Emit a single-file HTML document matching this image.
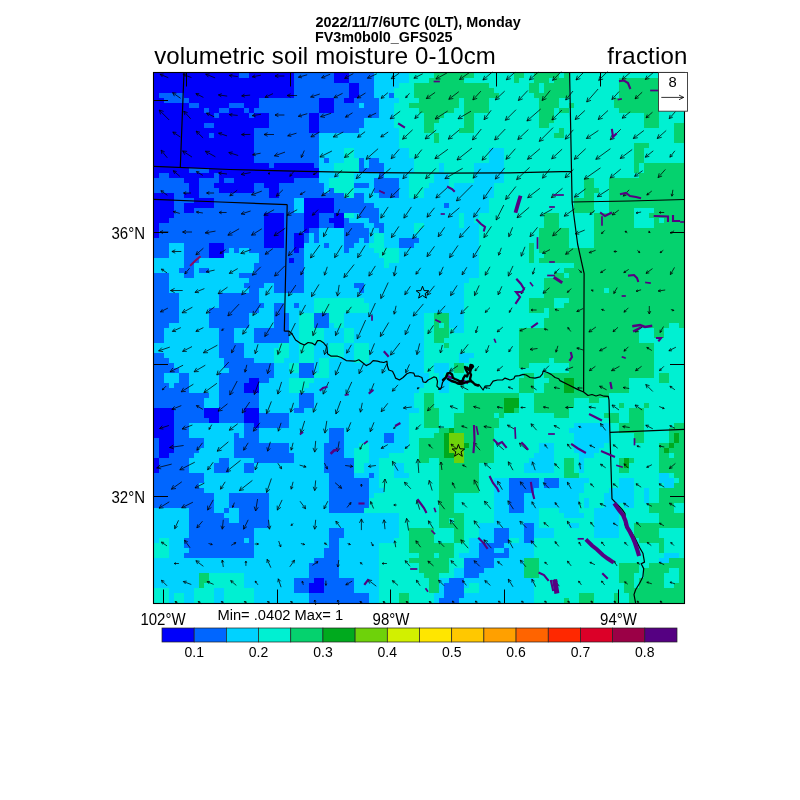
<!DOCTYPE html>
<html><head><meta charset="utf-8"><style>
html,body{margin:0;padding:0;background:#fff;}
body{width:800px;height:800px;overflow:hidden;}
svg{display:block;will-change:transform;font-family:"Liberation Sans",sans-serif;}
</style></head><body>
<svg width="800" height="800" viewBox="0 0 800 800">
<rect width="800" height="800" fill="#fff"/>
<text transform="translate(315.4 26.6) scale(1 1.07)" font-size="14.4" font-weight="bold">2022/11/7/6UTC (0LT), Monday</text>
<text transform="translate(314.9 41.7) scale(1 1.05)" font-size="14.4" font-weight="bold">FV3m0b0l0_GFS025</text>
<text x="154.2" y="63.9" font-size="24" letter-spacing="0.14">volumetric soil moisture 0-10cm</text>
<text x="687.6" y="63.9" font-size="24" text-anchor="end" letter-spacing="0.2">fraction</text>
<g shape-rendering="crispEdges">
<rect x="154" y="73" width="85" height="5" fill="#0000fa"/>
<rect x="239" y="73" width="10" height="5" fill="#0066ff"/>
<rect x="249" y="73" width="45" height="5" fill="#0000fa"/>
<rect x="294" y="73" width="40" height="5" fill="#0066ff"/>
<rect x="334" y="73" width="15" height="5" fill="#0000fa"/>
<rect x="349" y="73" width="25" height="5" fill="#0066ff"/>
<rect x="374" y="73" width="35" height="5" fill="#00d2ff"/>
<rect x="409" y="73" width="25" height="5" fill="#00f0d2"/>
<rect x="434" y="73" width="40" height="5" fill="#05d26e"/>
<rect x="474" y="73" width="40" height="5" fill="#00f0d2"/>
<rect x="514" y="73" width="10" height="5" fill="#05d26e"/>
<rect x="524" y="73" width="10" height="5" fill="#00f0d2"/>
<rect x="534" y="73" width="25" height="5" fill="#05d26e"/>
<rect x="559" y="73" width="5" height="5" fill="#00f0d2"/>
<rect x="564" y="73" width="5" height="5" fill="#05d26e"/>
<rect x="569" y="73" width="115" height="5" fill="#00f0d2"/>
<rect x="154" y="78" width="140" height="5" fill="#0000fa"/>
<rect x="294" y="78" width="40" height="5" fill="#0066ff"/>
<rect x="334" y="78" width="15" height="5" fill="#0000fa"/>
<rect x="349" y="78" width="25" height="5" fill="#0066ff"/>
<rect x="374" y="78" width="35" height="5" fill="#00d2ff"/>
<rect x="409" y="78" width="20" height="5" fill="#00f0d2"/>
<rect x="429" y="78" width="35" height="5" fill="#05d26e"/>
<rect x="464" y="78" width="50" height="5" fill="#00f0d2"/>
<rect x="514" y="78" width="5" height="5" fill="#05d26e"/>
<rect x="519" y="78" width="15" height="5" fill="#00f0d2"/>
<rect x="534" y="78" width="15" height="5" fill="#05d26e"/>
<rect x="549" y="78" width="5" height="5" fill="#00f0d2"/>
<rect x="554" y="78" width="15" height="5" fill="#05d26e"/>
<rect x="569" y="78" width="50" height="5" fill="#00f0d2"/>
<rect x="619" y="78" width="65" height="5" fill="#05d26e"/>
<rect x="154" y="83" width="140" height="5" fill="#0000fa"/>
<rect x="294" y="83" width="55" height="5" fill="#0066ff"/>
<rect x="349" y="83" width="10" height="5" fill="#0000fa"/>
<rect x="359" y="83" width="15" height="5" fill="#0066ff"/>
<rect x="374" y="83" width="25" height="5" fill="#00d2ff"/>
<rect x="399" y="83" width="15" height="5" fill="#00f0d2"/>
<rect x="414" y="83" width="75" height="5" fill="#05d26e"/>
<rect x="489" y="83" width="40" height="5" fill="#00f0d2"/>
<rect x="529" y="83" width="10" height="5" fill="#05d26e"/>
<rect x="539" y="83" width="5" height="5" fill="#00f0d2"/>
<rect x="544" y="83" width="25" height="5" fill="#05d26e"/>
<rect x="569" y="83" width="50" height="5" fill="#00f0d2"/>
<rect x="619" y="83" width="65" height="5" fill="#05d26e"/>
<rect x="154" y="88" width="140" height="5" fill="#0000fa"/>
<rect x="294" y="88" width="55" height="5" fill="#0066ff"/>
<rect x="349" y="88" width="10" height="5" fill="#0000fa"/>
<rect x="359" y="88" width="15" height="5" fill="#0066ff"/>
<rect x="374" y="88" width="20" height="5" fill="#00d2ff"/>
<rect x="394" y="88" width="20" height="5" fill="#00f0d2"/>
<rect x="414" y="88" width="80" height="5" fill="#05d26e"/>
<rect x="494" y="88" width="35" height="5" fill="#00f0d2"/>
<rect x="529" y="88" width="10" height="5" fill="#05d26e"/>
<rect x="539" y="88" width="5" height="5" fill="#00f0d2"/>
<rect x="544" y="88" width="25" height="5" fill="#05d26e"/>
<rect x="569" y="88" width="50" height="5" fill="#00f0d2"/>
<rect x="619" y="88" width="65" height="5" fill="#05d26e"/>
<rect x="154" y="93" width="5" height="5" fill="#0000fa"/>
<rect x="159" y="93" width="25" height="5" fill="#0066ff"/>
<rect x="184" y="93" width="110" height="5" fill="#0000fa"/>
<rect x="294" y="93" width="55" height="5" fill="#0066ff"/>
<rect x="349" y="93" width="10" height="5" fill="#0000fa"/>
<rect x="359" y="93" width="15" height="5" fill="#0066ff"/>
<rect x="374" y="93" width="15" height="5" fill="#00d2ff"/>
<rect x="389" y="93" width="5" height="5" fill="#0066ff"/>
<rect x="394" y="93" width="20" height="5" fill="#00f0d2"/>
<rect x="414" y="93" width="85" height="5" fill="#05d26e"/>
<rect x="499" y="93" width="35" height="5" fill="#00f0d2"/>
<rect x="534" y="93" width="35" height="5" fill="#05d26e"/>
<rect x="569" y="93" width="50" height="5" fill="#00f0d2"/>
<rect x="619" y="93" width="65" height="5" fill="#05d26e"/>
<rect x="154" y="98" width="10" height="5" fill="#0000fa"/>
<rect x="164" y="98" width="25" height="5" fill="#0066ff"/>
<rect x="189" y="98" width="70" height="5" fill="#0000fa"/>
<rect x="259" y="98" width="60" height="5" fill="#0066ff"/>
<rect x="319" y="98" width="15" height="5" fill="#0000fa"/>
<rect x="334" y="98" width="10" height="5" fill="#0066ff"/>
<rect x="344" y="98" width="10" height="5" fill="#0000fa"/>
<rect x="354" y="98" width="25" height="5" fill="#0066ff"/>
<rect x="379" y="98" width="20" height="5" fill="#00d2ff"/>
<rect x="399" y="98" width="20" height="5" fill="#00f0d2"/>
<rect x="419" y="98" width="40" height="5" fill="#05d26e"/>
<rect x="459" y="98" width="5" height="5" fill="#00f0d2"/>
<rect x="464" y="98" width="25" height="5" fill="#05d26e"/>
<rect x="489" y="98" width="50" height="5" fill="#00f0d2"/>
<rect x="539" y="98" width="20" height="5" fill="#05d26e"/>
<rect x="559" y="98" width="55" height="5" fill="#00f0d2"/>
<rect x="614" y="98" width="70" height="5" fill="#05d26e"/>
<rect x="154" y="103" width="35" height="5" fill="#0000fa"/>
<rect x="189" y="103" width="10" height="5" fill="#0066ff"/>
<rect x="199" y="103" width="30" height="5" fill="#0000fa"/>
<rect x="229" y="103" width="15" height="5" fill="#0066ff"/>
<rect x="244" y="103" width="15" height="5" fill="#0000fa"/>
<rect x="259" y="103" width="60" height="5" fill="#0066ff"/>
<rect x="319" y="103" width="15" height="5" fill="#0000fa"/>
<rect x="334" y="103" width="25" height="5" fill="#0066ff"/>
<rect x="359" y="103" width="5" height="5" fill="#00d2ff"/>
<rect x="364" y="103" width="15" height="5" fill="#0066ff"/>
<rect x="379" y="103" width="15" height="5" fill="#00d2ff"/>
<rect x="394" y="103" width="15" height="5" fill="#00f0d2"/>
<rect x="409" y="103" width="50" height="5" fill="#05d26e"/>
<rect x="459" y="103" width="5" height="5" fill="#00f0d2"/>
<rect x="464" y="103" width="25" height="5" fill="#05d26e"/>
<rect x="489" y="103" width="50" height="5" fill="#00f0d2"/>
<rect x="539" y="103" width="20" height="5" fill="#05d26e"/>
<rect x="559" y="103" width="10" height="5" fill="#00f0d2"/>
<rect x="569" y="103" width="5" height="5" fill="#05d26e"/>
<rect x="574" y="103" width="40" height="5" fill="#00f0d2"/>
<rect x="614" y="103" width="70" height="5" fill="#05d26e"/>
<rect x="154" y="108" width="50" height="5" fill="#0000fa"/>
<rect x="204" y="108" width="5" height="5" fill="#0066ff"/>
<rect x="209" y="108" width="10" height="5" fill="#0000fa"/>
<rect x="219" y="108" width="10" height="5" fill="#0066ff"/>
<rect x="229" y="108" width="15" height="5" fill="#0000fa"/>
<rect x="244" y="108" width="5" height="5" fill="#0066ff"/>
<rect x="249" y="108" width="5" height="5" fill="#0000fa"/>
<rect x="254" y="108" width="65" height="5" fill="#0066ff"/>
<rect x="319" y="108" width="15" height="5" fill="#0000fa"/>
<rect x="334" y="108" width="45" height="5" fill="#0066ff"/>
<rect x="379" y="108" width="15" height="5" fill="#00d2ff"/>
<rect x="394" y="108" width="25" height="5" fill="#00f0d2"/>
<rect x="419" y="108" width="35" height="5" fill="#05d26e"/>
<rect x="454" y="108" width="10" height="5" fill="#00f0d2"/>
<rect x="464" y="108" width="25" height="5" fill="#05d26e"/>
<rect x="489" y="108" width="50" height="5" fill="#00f0d2"/>
<rect x="539" y="108" width="15" height="5" fill="#05d26e"/>
<rect x="554" y="108" width="5" height="5" fill="#00f0d2"/>
<rect x="559" y="108" width="10" height="5" fill="#05d26e"/>
<rect x="569" y="108" width="50" height="5" fill="#00f0d2"/>
<rect x="619" y="108" width="40" height="5" fill="#05d26e"/>
<rect x="659" y="108" width="25" height="5" fill="#00f0d2"/>
<rect x="154" y="113" width="60" height="5" fill="#0000fa"/>
<rect x="214" y="113" width="5" height="5" fill="#0066ff"/>
<rect x="219" y="113" width="30" height="5" fill="#0000fa"/>
<rect x="249" y="113" width="5" height="5" fill="#0066ff"/>
<rect x="254" y="113" width="15" height="5" fill="#0000fa"/>
<rect x="269" y="113" width="40" height="5" fill="#0066ff"/>
<rect x="309" y="113" width="10" height="5" fill="#0000fa"/>
<rect x="319" y="113" width="60" height="5" fill="#0066ff"/>
<rect x="379" y="113" width="15" height="5" fill="#00d2ff"/>
<rect x="394" y="113" width="30" height="5" fill="#00f0d2"/>
<rect x="424" y="113" width="20" height="5" fill="#05d26e"/>
<rect x="444" y="113" width="20" height="5" fill="#00f0d2"/>
<rect x="464" y="113" width="10" height="5" fill="#05d26e"/>
<rect x="474" y="113" width="65" height="5" fill="#00f0d2"/>
<rect x="539" y="113" width="15" height="5" fill="#05d26e"/>
<rect x="554" y="113" width="90" height="5" fill="#00f0d2"/>
<rect x="644" y="113" width="15" height="5" fill="#05d26e"/>
<rect x="659" y="113" width="25" height="5" fill="#00f0d2"/>
<rect x="154" y="118" width="115" height="5" fill="#0000fa"/>
<rect x="269" y="118" width="40" height="5" fill="#0066ff"/>
<rect x="309" y="118" width="10" height="5" fill="#0000fa"/>
<rect x="319" y="118" width="45" height="5" fill="#0066ff"/>
<rect x="364" y="118" width="30" height="5" fill="#00d2ff"/>
<rect x="394" y="118" width="30" height="5" fill="#00f0d2"/>
<rect x="424" y="118" width="15" height="5" fill="#05d26e"/>
<rect x="439" y="118" width="25" height="5" fill="#00f0d2"/>
<rect x="464" y="118" width="10" height="5" fill="#05d26e"/>
<rect x="474" y="118" width="65" height="5" fill="#00f0d2"/>
<rect x="539" y="118" width="15" height="5" fill="#05d26e"/>
<rect x="554" y="118" width="90" height="5" fill="#00f0d2"/>
<rect x="644" y="118" width="15" height="5" fill="#05d26e"/>
<rect x="659" y="118" width="25" height="5" fill="#00f0d2"/>
<rect x="154" y="123" width="50" height="5" fill="#0000fa"/>
<rect x="204" y="123" width="10" height="5" fill="#0066ff"/>
<rect x="214" y="123" width="55" height="5" fill="#0000fa"/>
<rect x="269" y="123" width="40" height="5" fill="#0066ff"/>
<rect x="309" y="123" width="10" height="5" fill="#0000fa"/>
<rect x="319" y="123" width="45" height="5" fill="#0066ff"/>
<rect x="364" y="123" width="30" height="5" fill="#00d2ff"/>
<rect x="394" y="123" width="30" height="5" fill="#00f0d2"/>
<rect x="424" y="123" width="10" height="5" fill="#05d26e"/>
<rect x="434" y="123" width="30" height="5" fill="#00f0d2"/>
<rect x="464" y="123" width="10" height="5" fill="#05d26e"/>
<rect x="474" y="123" width="65" height="5" fill="#00f0d2"/>
<rect x="539" y="123" width="10" height="5" fill="#05d26e"/>
<rect x="549" y="123" width="95" height="5" fill="#00f0d2"/>
<rect x="644" y="123" width="15" height="5" fill="#05d26e"/>
<rect x="659" y="123" width="15" height="5" fill="#00f0d2"/>
<rect x="674" y="123" width="10" height="5" fill="#05d26e"/>
<rect x="154" y="128" width="100" height="5" fill="#0000fa"/>
<rect x="254" y="128" width="55" height="5" fill="#0066ff"/>
<rect x="309" y="128" width="10" height="5" fill="#0000fa"/>
<rect x="319" y="128" width="40" height="5" fill="#0066ff"/>
<rect x="359" y="128" width="40" height="5" fill="#00d2ff"/>
<rect x="399" y="128" width="25" height="5" fill="#00f0d2"/>
<rect x="424" y="128" width="10" height="5" fill="#05d26e"/>
<rect x="434" y="128" width="25" height="5" fill="#00f0d2"/>
<rect x="459" y="128" width="15" height="5" fill="#05d26e"/>
<rect x="474" y="128" width="85" height="5" fill="#00f0d2"/>
<rect x="559" y="128" width="5" height="5" fill="#05d26e"/>
<rect x="564" y="128" width="110" height="5" fill="#00f0d2"/>
<rect x="674" y="128" width="10" height="5" fill="#05d26e"/>
<rect x="154" y="133" width="55" height="5" fill="#0000fa"/>
<rect x="209" y="133" width="5" height="5" fill="#0066ff"/>
<rect x="214" y="133" width="40" height="5" fill="#0000fa"/>
<rect x="254" y="133" width="65" height="5" fill="#0066ff"/>
<rect x="319" y="133" width="80" height="5" fill="#00d2ff"/>
<rect x="399" y="133" width="35" height="5" fill="#00f0d2"/>
<rect x="434" y="133" width="5" height="5" fill="#05d26e"/>
<rect x="439" y="133" width="115" height="5" fill="#00f0d2"/>
<rect x="554" y="133" width="10" height="5" fill="#05d26e"/>
<rect x="564" y="133" width="110" height="5" fill="#00f0d2"/>
<rect x="674" y="133" width="10" height="5" fill="#05d26e"/>
<rect x="154" y="138" width="100" height="5" fill="#0000fa"/>
<rect x="254" y="138" width="65" height="5" fill="#0066ff"/>
<rect x="319" y="138" width="80" height="5" fill="#00d2ff"/>
<rect x="399" y="138" width="35" height="5" fill="#00f0d2"/>
<rect x="434" y="138" width="5" height="5" fill="#05d26e"/>
<rect x="439" y="138" width="235" height="5" fill="#00f0d2"/>
<rect x="674" y="138" width="10" height="5" fill="#05d26e"/>
<rect x="154" y="143" width="100" height="5" fill="#0000fa"/>
<rect x="254" y="143" width="65" height="5" fill="#0066ff"/>
<rect x="319" y="143" width="80" height="5" fill="#00d2ff"/>
<rect x="399" y="143" width="235" height="5" fill="#00f0d2"/>
<rect x="634" y="143" width="15" height="5" fill="#05d26e"/>
<rect x="649" y="143" width="35" height="5" fill="#00f0d2"/>
<rect x="154" y="148" width="100" height="5" fill="#0000fa"/>
<rect x="254" y="148" width="65" height="5" fill="#0066ff"/>
<rect x="319" y="148" width="25" height="5" fill="#00d2ff"/>
<rect x="344" y="148" width="10" height="5" fill="#00f0d2"/>
<rect x="354" y="148" width="55" height="5" fill="#00d2ff"/>
<rect x="409" y="148" width="80" height="5" fill="#00f0d2"/>
<rect x="489" y="148" width="15" height="5" fill="#00d2ff"/>
<rect x="504" y="148" width="130" height="5" fill="#00f0d2"/>
<rect x="634" y="148" width="10" height="5" fill="#05d26e"/>
<rect x="644" y="148" width="40" height="5" fill="#00f0d2"/>
<rect x="154" y="153" width="100" height="5" fill="#0000fa"/>
<rect x="254" y="153" width="65" height="5" fill="#0066ff"/>
<rect x="319" y="153" width="25" height="5" fill="#00d2ff"/>
<rect x="344" y="153" width="10" height="5" fill="#00f0d2"/>
<rect x="354" y="153" width="55" height="5" fill="#00d2ff"/>
<rect x="409" y="153" width="80" height="5" fill="#00f0d2"/>
<rect x="489" y="153" width="15" height="5" fill="#00d2ff"/>
<rect x="504" y="153" width="130" height="5" fill="#00f0d2"/>
<rect x="634" y="153" width="10" height="5" fill="#05d26e"/>
<rect x="644" y="153" width="40" height="5" fill="#00f0d2"/>
<rect x="154" y="158" width="100" height="5" fill="#0000fa"/>
<rect x="254" y="158" width="65" height="5" fill="#0066ff"/>
<rect x="319" y="158" width="5" height="5" fill="#00d2ff"/>
<rect x="324" y="158" width="5" height="5" fill="#0066ff"/>
<rect x="329" y="158" width="15" height="5" fill="#00d2ff"/>
<rect x="344" y="158" width="15" height="5" fill="#00f0d2"/>
<rect x="359" y="158" width="5" height="5" fill="#0066ff"/>
<rect x="364" y="158" width="5" height="5" fill="#00d2ff"/>
<rect x="369" y="158" width="10" height="5" fill="#0066ff"/>
<rect x="379" y="158" width="35" height="5" fill="#00d2ff"/>
<rect x="414" y="158" width="75" height="5" fill="#00f0d2"/>
<rect x="489" y="158" width="15" height="5" fill="#00d2ff"/>
<rect x="504" y="158" width="130" height="5" fill="#00f0d2"/>
<rect x="634" y="158" width="10" height="5" fill="#05d26e"/>
<rect x="644" y="158" width="40" height="5" fill="#00f0d2"/>
<rect x="154" y="163" width="115" height="5" fill="#0000fa"/>
<rect x="269" y="163" width="5" height="5" fill="#0066ff"/>
<rect x="274" y="163" width="40" height="5" fill="#0000fa"/>
<rect x="314" y="163" width="5" height="5" fill="#0066ff"/>
<rect x="319" y="163" width="15" height="5" fill="#00d2ff"/>
<rect x="334" y="163" width="25" height="5" fill="#00f0d2"/>
<rect x="359" y="163" width="5" height="5" fill="#0066ff"/>
<rect x="364" y="163" width="5" height="5" fill="#00d2ff"/>
<rect x="369" y="163" width="15" height="5" fill="#0066ff"/>
<rect x="384" y="163" width="30" height="5" fill="#00d2ff"/>
<rect x="414" y="163" width="25" height="5" fill="#00f0d2"/>
<rect x="439" y="163" width="5" height="5" fill="#00d2ff"/>
<rect x="444" y="163" width="30" height="5" fill="#00f0d2"/>
<rect x="474" y="163" width="30" height="5" fill="#00d2ff"/>
<rect x="504" y="163" width="130" height="5" fill="#00f0d2"/>
<rect x="634" y="163" width="5" height="5" fill="#05d26e"/>
<rect x="639" y="163" width="5" height="5" fill="#00f0d2"/>
<rect x="644" y="163" width="40" height="5" fill="#05d26e"/>
<rect x="154" y="168" width="35" height="5" fill="#0000fa"/>
<rect x="189" y="168" width="20" height="5" fill="#0066ff"/>
<rect x="209" y="168" width="110" height="5" fill="#0000fa"/>
<rect x="319" y="168" width="15" height="5" fill="#00d2ff"/>
<rect x="334" y="168" width="25" height="5" fill="#00f0d2"/>
<rect x="359" y="168" width="25" height="5" fill="#0066ff"/>
<rect x="384" y="168" width="30" height="5" fill="#00d2ff"/>
<rect x="414" y="168" width="25" height="5" fill="#00f0d2"/>
<rect x="439" y="168" width="5" height="5" fill="#00d2ff"/>
<rect x="444" y="168" width="30" height="5" fill="#00f0d2"/>
<rect x="474" y="168" width="30" height="5" fill="#00d2ff"/>
<rect x="504" y="168" width="130" height="5" fill="#00f0d2"/>
<rect x="634" y="168" width="5" height="5" fill="#05d26e"/>
<rect x="639" y="168" width="5" height="5" fill="#00f0d2"/>
<rect x="644" y="168" width="40" height="5" fill="#05d26e"/>
<rect x="154" y="173" width="5" height="5" fill="#0000fa"/>
<rect x="159" y="173" width="10" height="5" fill="#0066ff"/>
<rect x="169" y="173" width="45" height="5" fill="#0000fa"/>
<rect x="214" y="173" width="5" height="5" fill="#0066ff"/>
<rect x="219" y="173" width="100" height="5" fill="#0000fa"/>
<rect x="319" y="173" width="20" height="5" fill="#00d2ff"/>
<rect x="339" y="173" width="15" height="5" fill="#00f0d2"/>
<rect x="354" y="173" width="25" height="5" fill="#00d2ff"/>
<rect x="379" y="173" width="5" height="5" fill="#0066ff"/>
<rect x="384" y="173" width="25" height="5" fill="#00d2ff"/>
<rect x="409" y="173" width="25" height="5" fill="#00f0d2"/>
<rect x="434" y="173" width="15" height="5" fill="#00d2ff"/>
<rect x="449" y="173" width="25" height="5" fill="#00f0d2"/>
<rect x="474" y="173" width="30" height="5" fill="#00d2ff"/>
<rect x="504" y="173" width="135" height="5" fill="#00f0d2"/>
<rect x="639" y="173" width="45" height="5" fill="#05d26e"/>
<rect x="154" y="178" width="30" height="5" fill="#0066ff"/>
<rect x="184" y="178" width="15" height="5" fill="#0000fa"/>
<rect x="199" y="178" width="20" height="5" fill="#0066ff"/>
<rect x="219" y="178" width="5" height="5" fill="#0000fa"/>
<rect x="224" y="178" width="10" height="5" fill="#0066ff"/>
<rect x="234" y="178" width="60" height="5" fill="#0000fa"/>
<rect x="294" y="178" width="25" height="5" fill="#0066ff"/>
<rect x="319" y="178" width="10" height="5" fill="#00d2ff"/>
<rect x="329" y="178" width="25" height="5" fill="#00f0d2"/>
<rect x="354" y="178" width="20" height="5" fill="#00d2ff"/>
<rect x="374" y="178" width="25" height="5" fill="#0066ff"/>
<rect x="399" y="178" width="10" height="5" fill="#00d2ff"/>
<rect x="409" y="178" width="25" height="5" fill="#00f0d2"/>
<rect x="434" y="178" width="15" height="5" fill="#00d2ff"/>
<rect x="449" y="178" width="25" height="5" fill="#00f0d2"/>
<rect x="474" y="178" width="30" height="5" fill="#00d2ff"/>
<rect x="504" y="178" width="80" height="5" fill="#00f0d2"/>
<rect x="584" y="178" width="10" height="5" fill="#05d26e"/>
<rect x="594" y="178" width="15" height="5" fill="#00f0d2"/>
<rect x="609" y="178" width="75" height="5" fill="#05d26e"/>
<rect x="154" y="183" width="35" height="5" fill="#0066ff"/>
<rect x="189" y="183" width="10" height="5" fill="#0000fa"/>
<rect x="199" y="183" width="15" height="5" fill="#0066ff"/>
<rect x="214" y="183" width="40" height="5" fill="#0000fa"/>
<rect x="254" y="183" width="10" height="5" fill="#0066ff"/>
<rect x="264" y="183" width="15" height="5" fill="#0000fa"/>
<rect x="279" y="183" width="45" height="5" fill="#0066ff"/>
<rect x="324" y="183" width="5" height="5" fill="#00d2ff"/>
<rect x="329" y="183" width="25" height="5" fill="#00f0d2"/>
<rect x="354" y="183" width="15" height="5" fill="#0066ff"/>
<rect x="369" y="183" width="5" height="5" fill="#00d2ff"/>
<rect x="374" y="183" width="25" height="5" fill="#0066ff"/>
<rect x="399" y="183" width="10" height="5" fill="#00d2ff"/>
<rect x="409" y="183" width="20" height="5" fill="#00f0d2"/>
<rect x="429" y="183" width="20" height="5" fill="#00d2ff"/>
<rect x="449" y="183" width="5" height="5" fill="#00f0d2"/>
<rect x="454" y="183" width="40" height="5" fill="#00d2ff"/>
<rect x="494" y="183" width="90" height="5" fill="#00f0d2"/>
<rect x="584" y="183" width="10" height="5" fill="#05d26e"/>
<rect x="594" y="183" width="15" height="5" fill="#00f0d2"/>
<rect x="609" y="183" width="75" height="5" fill="#05d26e"/>
<rect x="154" y="188" width="35" height="5" fill="#0066ff"/>
<rect x="189" y="188" width="10" height="5" fill="#0000fa"/>
<rect x="199" y="188" width="20" height="5" fill="#0066ff"/>
<rect x="219" y="188" width="35" height="5" fill="#0000fa"/>
<rect x="254" y="188" width="15" height="5" fill="#0066ff"/>
<rect x="269" y="188" width="10" height="5" fill="#0000fa"/>
<rect x="279" y="188" width="45" height="5" fill="#0066ff"/>
<rect x="324" y="188" width="5" height="5" fill="#00d2ff"/>
<rect x="329" y="188" width="5" height="5" fill="#0066ff"/>
<rect x="334" y="188" width="20" height="5" fill="#00f0d2"/>
<rect x="354" y="188" width="20" height="5" fill="#00d2ff"/>
<rect x="374" y="188" width="25" height="5" fill="#0066ff"/>
<rect x="399" y="188" width="10" height="5" fill="#00d2ff"/>
<rect x="409" y="188" width="15" height="5" fill="#00f0d2"/>
<rect x="424" y="188" width="70" height="5" fill="#00d2ff"/>
<rect x="494" y="188" width="90" height="5" fill="#00f0d2"/>
<rect x="584" y="188" width="15" height="5" fill="#05d26e"/>
<rect x="599" y="188" width="10" height="5" fill="#00f0d2"/>
<rect x="609" y="188" width="75" height="5" fill="#05d26e"/>
<rect x="154" y="193" width="20" height="5" fill="#0000fa"/>
<rect x="174" y="193" width="10" height="5" fill="#0066ff"/>
<rect x="184" y="193" width="15" height="5" fill="#0000fa"/>
<rect x="199" y="193" width="70" height="5" fill="#0066ff"/>
<rect x="269" y="193" width="10" height="5" fill="#0000fa"/>
<rect x="279" y="193" width="65" height="5" fill="#0066ff"/>
<rect x="344" y="193" width="10" height="5" fill="#00f0d2"/>
<rect x="354" y="193" width="10" height="5" fill="#0066ff"/>
<rect x="364" y="193" width="15" height="5" fill="#00d2ff"/>
<rect x="379" y="193" width="20" height="5" fill="#0066ff"/>
<rect x="399" y="193" width="10" height="5" fill="#00d2ff"/>
<rect x="409" y="193" width="15" height="5" fill="#00f0d2"/>
<rect x="424" y="193" width="70" height="5" fill="#00d2ff"/>
<rect x="494" y="193" width="90" height="5" fill="#00f0d2"/>
<rect x="584" y="193" width="10" height="5" fill="#05d26e"/>
<rect x="594" y="193" width="15" height="5" fill="#00f0d2"/>
<rect x="609" y="193" width="75" height="5" fill="#05d26e"/>
<rect x="154" y="198" width="20" height="5" fill="#0000fa"/>
<rect x="174" y="198" width="20" height="5" fill="#0066ff"/>
<rect x="194" y="198" width="20" height="5" fill="#0000fa"/>
<rect x="214" y="198" width="80" height="5" fill="#0066ff"/>
<rect x="294" y="198" width="10" height="5" fill="#00d2ff"/>
<rect x="304" y="198" width="30" height="5" fill="#0000fa"/>
<rect x="334" y="198" width="30" height="5" fill="#0066ff"/>
<rect x="364" y="198" width="125" height="5" fill="#00d2ff"/>
<rect x="489" y="198" width="85" height="5" fill="#00f0d2"/>
<rect x="574" y="198" width="20" height="5" fill="#05d26e"/>
<rect x="594" y="198" width="15" height="5" fill="#00f0d2"/>
<rect x="609" y="198" width="75" height="5" fill="#05d26e"/>
<rect x="154" y="203" width="20" height="5" fill="#0000fa"/>
<rect x="174" y="203" width="10" height="5" fill="#0066ff"/>
<rect x="184" y="203" width="30" height="5" fill="#0000fa"/>
<rect x="214" y="203" width="80" height="5" fill="#0066ff"/>
<rect x="294" y="203" width="10" height="5" fill="#00d2ff"/>
<rect x="304" y="203" width="30" height="5" fill="#0000fa"/>
<rect x="334" y="203" width="40" height="5" fill="#0066ff"/>
<rect x="374" y="203" width="70" height="5" fill="#00d2ff"/>
<rect x="444" y="203" width="5" height="5" fill="#0066ff"/>
<rect x="449" y="203" width="40" height="5" fill="#00d2ff"/>
<rect x="489" y="203" width="85" height="5" fill="#00f0d2"/>
<rect x="574" y="203" width="20" height="5" fill="#05d26e"/>
<rect x="594" y="203" width="15" height="5" fill="#00f0d2"/>
<rect x="609" y="203" width="75" height="5" fill="#05d26e"/>
<rect x="154" y="208" width="20" height="5" fill="#0000fa"/>
<rect x="174" y="208" width="10" height="5" fill="#0066ff"/>
<rect x="184" y="208" width="10" height="5" fill="#0000fa"/>
<rect x="194" y="208" width="100" height="5" fill="#0066ff"/>
<rect x="294" y="208" width="10" height="5" fill="#00d2ff"/>
<rect x="304" y="208" width="30" height="5" fill="#0000fa"/>
<rect x="334" y="208" width="45" height="5" fill="#0066ff"/>
<rect x="379" y="208" width="110" height="5" fill="#00d2ff"/>
<rect x="489" y="208" width="85" height="5" fill="#00f0d2"/>
<rect x="574" y="208" width="20" height="5" fill="#05d26e"/>
<rect x="594" y="208" width="15" height="5" fill="#00f0d2"/>
<rect x="609" y="208" width="25" height="5" fill="#05d26e"/>
<rect x="634" y="208" width="20" height="5" fill="#00f0d2"/>
<rect x="654" y="208" width="30" height="5" fill="#05d26e"/>
<rect x="154" y="213" width="20" height="5" fill="#0000fa"/>
<rect x="174" y="213" width="90" height="5" fill="#0066ff"/>
<rect x="264" y="213" width="20" height="5" fill="#0000fa"/>
<rect x="284" y="213" width="20" height="5" fill="#0066ff"/>
<rect x="304" y="213" width="15" height="5" fill="#0000fa"/>
<rect x="319" y="213" width="15" height="5" fill="#0066ff"/>
<rect x="334" y="213" width="10" height="5" fill="#0000fa"/>
<rect x="344" y="213" width="10" height="5" fill="#00f0d2"/>
<rect x="354" y="213" width="5" height="5" fill="#00d2ff"/>
<rect x="359" y="213" width="20" height="5" fill="#0066ff"/>
<rect x="379" y="213" width="80" height="5" fill="#00d2ff"/>
<rect x="459" y="213" width="5" height="5" fill="#00f0d2"/>
<rect x="464" y="213" width="15" height="5" fill="#00d2ff"/>
<rect x="479" y="213" width="65" height="5" fill="#00f0d2"/>
<rect x="544" y="213" width="15" height="5" fill="#05d26e"/>
<rect x="559" y="213" width="35" height="5" fill="#00f0d2"/>
<rect x="594" y="213" width="40" height="5" fill="#05d26e"/>
<rect x="634" y="213" width="15" height="5" fill="#00f0d2"/>
<rect x="649" y="213" width="35" height="5" fill="#05d26e"/>
<rect x="154" y="218" width="15" height="5" fill="#0000fa"/>
<rect x="169" y="218" width="95" height="5" fill="#0066ff"/>
<rect x="264" y="218" width="20" height="5" fill="#0000fa"/>
<rect x="284" y="218" width="20" height="5" fill="#0066ff"/>
<rect x="304" y="218" width="15" height="5" fill="#0000fa"/>
<rect x="319" y="218" width="10" height="5" fill="#0066ff"/>
<rect x="329" y="218" width="15" height="5" fill="#0000fa"/>
<rect x="344" y="218" width="5" height="5" fill="#0066ff"/>
<rect x="349" y="218" width="20" height="5" fill="#00d2ff"/>
<rect x="369" y="218" width="10" height="5" fill="#0066ff"/>
<rect x="379" y="218" width="80" height="5" fill="#00d2ff"/>
<rect x="459" y="218" width="5" height="5" fill="#00f0d2"/>
<rect x="464" y="218" width="10" height="5" fill="#00d2ff"/>
<rect x="474" y="218" width="70" height="5" fill="#00f0d2"/>
<rect x="544" y="218" width="15" height="5" fill="#05d26e"/>
<rect x="559" y="218" width="35" height="5" fill="#00f0d2"/>
<rect x="594" y="218" width="40" height="5" fill="#05d26e"/>
<rect x="634" y="218" width="20" height="5" fill="#00f0d2"/>
<rect x="654" y="218" width="5" height="5" fill="#05d26e"/>
<rect x="659" y="218" width="5" height="5" fill="#00f0d2"/>
<rect x="664" y="218" width="20" height="5" fill="#05d26e"/>
<rect x="154" y="223" width="5" height="5" fill="#0000fa"/>
<rect x="159" y="223" width="105" height="5" fill="#0066ff"/>
<rect x="264" y="223" width="20" height="5" fill="#0000fa"/>
<rect x="284" y="223" width="20" height="5" fill="#0066ff"/>
<rect x="304" y="223" width="15" height="5" fill="#0000fa"/>
<rect x="319" y="223" width="15" height="5" fill="#0066ff"/>
<rect x="334" y="223" width="10" height="5" fill="#0000fa"/>
<rect x="344" y="223" width="20" height="5" fill="#0066ff"/>
<rect x="364" y="223" width="10" height="5" fill="#00d2ff"/>
<rect x="374" y="223" width="10" height="5" fill="#0066ff"/>
<rect x="384" y="223" width="30" height="5" fill="#00d2ff"/>
<rect x="414" y="223" width="10" height="5" fill="#00f0d2"/>
<rect x="424" y="223" width="35" height="5" fill="#00d2ff"/>
<rect x="459" y="223" width="5" height="5" fill="#00f0d2"/>
<rect x="464" y="223" width="15" height="5" fill="#00d2ff"/>
<rect x="479" y="223" width="65" height="5" fill="#00f0d2"/>
<rect x="544" y="223" width="15" height="5" fill="#05d26e"/>
<rect x="559" y="223" width="35" height="5" fill="#00f0d2"/>
<rect x="594" y="223" width="40" height="5" fill="#05d26e"/>
<rect x="634" y="223" width="20" height="5" fill="#00f0d2"/>
<rect x="654" y="223" width="30" height="5" fill="#05d26e"/>
<rect x="154" y="228" width="5" height="5" fill="#0000fa"/>
<rect x="159" y="228" width="105" height="5" fill="#0066ff"/>
<rect x="264" y="228" width="20" height="5" fill="#0000fa"/>
<rect x="284" y="228" width="20" height="5" fill="#0066ff"/>
<rect x="304" y="228" width="5" height="5" fill="#0000fa"/>
<rect x="309" y="228" width="10" height="5" fill="#0066ff"/>
<rect x="319" y="228" width="25" height="5" fill="#00d2ff"/>
<rect x="344" y="228" width="25" height="5" fill="#0066ff"/>
<rect x="369" y="228" width="10" height="5" fill="#00d2ff"/>
<rect x="379" y="228" width="5" height="5" fill="#0066ff"/>
<rect x="384" y="228" width="30" height="5" fill="#00d2ff"/>
<rect x="414" y="228" width="5" height="5" fill="#00f0d2"/>
<rect x="419" y="228" width="60" height="5" fill="#00d2ff"/>
<rect x="479" y="228" width="60" height="5" fill="#00f0d2"/>
<rect x="539" y="228" width="30" height="5" fill="#05d26e"/>
<rect x="569" y="228" width="25" height="5" fill="#00f0d2"/>
<rect x="594" y="228" width="90" height="5" fill="#05d26e"/>
<rect x="154" y="233" width="5" height="5" fill="#0000fa"/>
<rect x="159" y="233" width="105" height="5" fill="#0066ff"/>
<rect x="264" y="233" width="20" height="5" fill="#0000fa"/>
<rect x="284" y="233" width="10" height="5" fill="#0066ff"/>
<rect x="294" y="233" width="10" height="5" fill="#0000fa"/>
<rect x="304" y="233" width="5" height="5" fill="#0066ff"/>
<rect x="309" y="233" width="5" height="5" fill="#00d2ff"/>
<rect x="314" y="233" width="5" height="5" fill="#0066ff"/>
<rect x="319" y="233" width="25" height="5" fill="#00d2ff"/>
<rect x="344" y="233" width="25" height="5" fill="#0066ff"/>
<rect x="369" y="233" width="5" height="5" fill="#00d2ff"/>
<rect x="374" y="233" width="10" height="5" fill="#00f0d2"/>
<rect x="384" y="233" width="95" height="5" fill="#00d2ff"/>
<rect x="479" y="233" width="60" height="5" fill="#00f0d2"/>
<rect x="539" y="233" width="30" height="5" fill="#05d26e"/>
<rect x="569" y="233" width="25" height="5" fill="#00f0d2"/>
<rect x="594" y="233" width="90" height="5" fill="#05d26e"/>
<rect x="154" y="238" width="110" height="5" fill="#0066ff"/>
<rect x="264" y="238" width="20" height="5" fill="#0000fa"/>
<rect x="284" y="238" width="10" height="5" fill="#0066ff"/>
<rect x="294" y="238" width="10" height="5" fill="#0000fa"/>
<rect x="304" y="238" width="5" height="5" fill="#0066ff"/>
<rect x="309" y="238" width="5" height="5" fill="#00d2ff"/>
<rect x="314" y="238" width="5" height="5" fill="#0066ff"/>
<rect x="319" y="238" width="25" height="5" fill="#00d2ff"/>
<rect x="344" y="238" width="15" height="5" fill="#0066ff"/>
<rect x="359" y="238" width="5" height="5" fill="#00d2ff"/>
<rect x="364" y="238" width="5" height="5" fill="#0066ff"/>
<rect x="369" y="238" width="5" height="5" fill="#00d2ff"/>
<rect x="374" y="238" width="10" height="5" fill="#00f0d2"/>
<rect x="384" y="238" width="15" height="5" fill="#00d2ff"/>
<rect x="399" y="238" width="20" height="5" fill="#0066ff"/>
<rect x="419" y="238" width="60" height="5" fill="#00d2ff"/>
<rect x="479" y="238" width="60" height="5" fill="#00f0d2"/>
<rect x="539" y="238" width="30" height="5" fill="#05d26e"/>
<rect x="569" y="238" width="25" height="5" fill="#00f0d2"/>
<rect x="594" y="238" width="90" height="5" fill="#05d26e"/>
<rect x="154" y="243" width="15" height="5" fill="#0066ff"/>
<rect x="169" y="243" width="15" height="5" fill="#00d2ff"/>
<rect x="184" y="243" width="25" height="5" fill="#0066ff"/>
<rect x="209" y="243" width="15" height="5" fill="#0000fa"/>
<rect x="224" y="243" width="40" height="5" fill="#0066ff"/>
<rect x="264" y="243" width="20" height="5" fill="#0000fa"/>
<rect x="284" y="243" width="10" height="5" fill="#0066ff"/>
<rect x="294" y="243" width="10" height="5" fill="#0000fa"/>
<rect x="304" y="243" width="20" height="5" fill="#00d2ff"/>
<rect x="324" y="243" width="5" height="5" fill="#0066ff"/>
<rect x="329" y="243" width="15" height="5" fill="#00d2ff"/>
<rect x="344" y="243" width="10" height="5" fill="#0066ff"/>
<rect x="354" y="243" width="15" height="5" fill="#00d2ff"/>
<rect x="369" y="243" width="15" height="5" fill="#00f0d2"/>
<rect x="384" y="243" width="15" height="5" fill="#00d2ff"/>
<rect x="399" y="243" width="15" height="5" fill="#0066ff"/>
<rect x="414" y="243" width="65" height="5" fill="#00d2ff"/>
<rect x="479" y="243" width="50" height="5" fill="#00f0d2"/>
<rect x="529" y="243" width="5" height="5" fill="#05d26e"/>
<rect x="534" y="243" width="5" height="5" fill="#00f0d2"/>
<rect x="539" y="243" width="30" height="5" fill="#05d26e"/>
<rect x="569" y="243" width="25" height="5" fill="#00f0d2"/>
<rect x="594" y="243" width="90" height="5" fill="#05d26e"/>
<rect x="154" y="248" width="15" height="5" fill="#0066ff"/>
<rect x="169" y="248" width="15" height="5" fill="#00d2ff"/>
<rect x="184" y="248" width="25" height="5" fill="#0066ff"/>
<rect x="209" y="248" width="15" height="5" fill="#0000fa"/>
<rect x="224" y="248" width="5" height="5" fill="#0066ff"/>
<rect x="229" y="248" width="5" height="5" fill="#00d2ff"/>
<rect x="234" y="248" width="5" height="5" fill="#0066ff"/>
<rect x="239" y="248" width="10" height="5" fill="#00d2ff"/>
<rect x="249" y="248" width="45" height="5" fill="#0066ff"/>
<rect x="294" y="248" width="5" height="5" fill="#0000fa"/>
<rect x="299" y="248" width="5" height="5" fill="#0066ff"/>
<rect x="304" y="248" width="40" height="5" fill="#00d2ff"/>
<rect x="344" y="248" width="5" height="5" fill="#0066ff"/>
<rect x="349" y="248" width="25" height="5" fill="#00d2ff"/>
<rect x="374" y="248" width="25" height="5" fill="#00f0d2"/>
<rect x="399" y="248" width="80" height="5" fill="#00d2ff"/>
<rect x="479" y="248" width="50" height="5" fill="#00f0d2"/>
<rect x="529" y="248" width="5" height="5" fill="#05d26e"/>
<rect x="534" y="248" width="5" height="5" fill="#00f0d2"/>
<rect x="539" y="248" width="145" height="5" fill="#05d26e"/>
<rect x="154" y="253" width="15" height="5" fill="#0066ff"/>
<rect x="169" y="253" width="15" height="5" fill="#00d2ff"/>
<rect x="184" y="253" width="25" height="5" fill="#0066ff"/>
<rect x="209" y="253" width="15" height="5" fill="#0000fa"/>
<rect x="224" y="253" width="35" height="5" fill="#00d2ff"/>
<rect x="259" y="253" width="45" height="5" fill="#0066ff"/>
<rect x="304" y="253" width="75" height="5" fill="#00d2ff"/>
<rect x="379" y="253" width="20" height="5" fill="#00f0d2"/>
<rect x="399" y="253" width="80" height="5" fill="#00d2ff"/>
<rect x="479" y="253" width="50" height="5" fill="#00f0d2"/>
<rect x="529" y="253" width="5" height="5" fill="#05d26e"/>
<rect x="534" y="253" width="10" height="5" fill="#00f0d2"/>
<rect x="544" y="253" width="140" height="5" fill="#05d26e"/>
<rect x="154" y="258" width="30" height="5" fill="#00d2ff"/>
<rect x="184" y="258" width="15" height="5" fill="#0066ff"/>
<rect x="199" y="258" width="60" height="5" fill="#00d2ff"/>
<rect x="259" y="258" width="30" height="5" fill="#0066ff"/>
<rect x="289" y="258" width="5" height="5" fill="#0000fa"/>
<rect x="294" y="258" width="10" height="5" fill="#0066ff"/>
<rect x="304" y="258" width="80" height="5" fill="#00d2ff"/>
<rect x="384" y="258" width="15" height="5" fill="#00f0d2"/>
<rect x="399" y="258" width="80" height="5" fill="#00d2ff"/>
<rect x="479" y="258" width="50" height="5" fill="#00f0d2"/>
<rect x="529" y="258" width="5" height="5" fill="#05d26e"/>
<rect x="534" y="258" width="5" height="5" fill="#00f0d2"/>
<rect x="539" y="258" width="145" height="5" fill="#05d26e"/>
<rect x="154" y="263" width="30" height="5" fill="#00d2ff"/>
<rect x="184" y="263" width="10" height="5" fill="#0066ff"/>
<rect x="194" y="263" width="60" height="5" fill="#00d2ff"/>
<rect x="254" y="263" width="50" height="5" fill="#0066ff"/>
<rect x="304" y="263" width="80" height="5" fill="#00d2ff"/>
<rect x="384" y="263" width="5" height="5" fill="#00f0d2"/>
<rect x="389" y="263" width="90" height="5" fill="#00d2ff"/>
<rect x="479" y="263" width="95" height="5" fill="#00f0d2"/>
<rect x="574" y="263" width="110" height="5" fill="#05d26e"/>
<rect x="154" y="268" width="25" height="5" fill="#00d2ff"/>
<rect x="179" y="268" width="15" height="5" fill="#0066ff"/>
<rect x="194" y="268" width="5" height="5" fill="#00d2ff"/>
<rect x="199" y="268" width="10" height="5" fill="#0066ff"/>
<rect x="209" y="268" width="45" height="5" fill="#00d2ff"/>
<rect x="254" y="268" width="50" height="5" fill="#0066ff"/>
<rect x="304" y="268" width="175" height="5" fill="#00d2ff"/>
<rect x="479" y="268" width="85" height="5" fill="#00f0d2"/>
<rect x="564" y="268" width="120" height="5" fill="#05d26e"/>
<rect x="154" y="273" width="15" height="5" fill="#0066ff"/>
<rect x="169" y="273" width="15" height="5" fill="#00d2ff"/>
<rect x="184" y="273" width="10" height="5" fill="#0066ff"/>
<rect x="194" y="273" width="45" height="5" fill="#00d2ff"/>
<rect x="239" y="273" width="65" height="5" fill="#0066ff"/>
<rect x="304" y="273" width="175" height="5" fill="#00d2ff"/>
<rect x="479" y="273" width="75" height="5" fill="#00f0d2"/>
<rect x="554" y="273" width="10" height="5" fill="#05d26e"/>
<rect x="564" y="273" width="5" height="5" fill="#00f0d2"/>
<rect x="569" y="273" width="115" height="5" fill="#05d26e"/>
<rect x="154" y="278" width="15" height="5" fill="#0066ff"/>
<rect x="169" y="278" width="80" height="5" fill="#00d2ff"/>
<rect x="249" y="278" width="55" height="5" fill="#0066ff"/>
<rect x="304" y="278" width="165" height="5" fill="#00d2ff"/>
<rect x="469" y="278" width="75" height="5" fill="#00f0d2"/>
<rect x="544" y="278" width="140" height="5" fill="#05d26e"/>
<rect x="154" y="283" width="15" height="5" fill="#0066ff"/>
<rect x="169" y="283" width="75" height="5" fill="#00d2ff"/>
<rect x="244" y="283" width="20" height="5" fill="#0066ff"/>
<rect x="264" y="283" width="10" height="5" fill="#00d2ff"/>
<rect x="274" y="283" width="30" height="5" fill="#0066ff"/>
<rect x="304" y="283" width="50" height="5" fill="#00d2ff"/>
<rect x="354" y="283" width="10" height="5" fill="#0066ff"/>
<rect x="364" y="283" width="100" height="5" fill="#00d2ff"/>
<rect x="464" y="283" width="80" height="5" fill="#00f0d2"/>
<rect x="544" y="283" width="140" height="5" fill="#05d26e"/>
<rect x="154" y="288" width="15" height="5" fill="#0066ff"/>
<rect x="169" y="288" width="80" height="5" fill="#00d2ff"/>
<rect x="249" y="288" width="10" height="5" fill="#0066ff"/>
<rect x="259" y="288" width="15" height="5" fill="#00d2ff"/>
<rect x="274" y="288" width="30" height="5" fill="#0066ff"/>
<rect x="304" y="288" width="55" height="5" fill="#00d2ff"/>
<rect x="359" y="288" width="5" height="5" fill="#0066ff"/>
<rect x="364" y="288" width="100" height="5" fill="#00d2ff"/>
<rect x="464" y="288" width="80" height="5" fill="#00f0d2"/>
<rect x="544" y="288" width="60" height="5" fill="#05d26e"/>
<rect x="604" y="288" width="5" height="5" fill="#00f0d2"/>
<rect x="609" y="288" width="75" height="5" fill="#05d26e"/>
<rect x="154" y="293" width="25" height="5" fill="#0066ff"/>
<rect x="179" y="293" width="40" height="5" fill="#00d2ff"/>
<rect x="219" y="293" width="40" height="5" fill="#0066ff"/>
<rect x="259" y="293" width="205" height="5" fill="#00d2ff"/>
<rect x="464" y="293" width="80" height="5" fill="#00f0d2"/>
<rect x="544" y="293" width="140" height="5" fill="#05d26e"/>
<rect x="154" y="298" width="25" height="5" fill="#0066ff"/>
<rect x="179" y="298" width="40" height="5" fill="#00d2ff"/>
<rect x="219" y="298" width="40" height="5" fill="#0066ff"/>
<rect x="259" y="298" width="55" height="5" fill="#00d2ff"/>
<rect x="314" y="298" width="50" height="5" fill="#00f0d2"/>
<rect x="364" y="298" width="100" height="5" fill="#00d2ff"/>
<rect x="464" y="298" width="65" height="5" fill="#00f0d2"/>
<rect x="529" y="298" width="25" height="5" fill="#05d26e"/>
<rect x="554" y="298" width="15" height="5" fill="#00f0d2"/>
<rect x="569" y="298" width="115" height="5" fill="#05d26e"/>
<rect x="154" y="303" width="25" height="5" fill="#0066ff"/>
<rect x="179" y="303" width="40" height="5" fill="#00d2ff"/>
<rect x="219" y="303" width="45" height="5" fill="#0066ff"/>
<rect x="264" y="303" width="10" height="5" fill="#00d2ff"/>
<rect x="274" y="303" width="10" height="5" fill="#0066ff"/>
<rect x="284" y="303" width="10" height="5" fill="#00d2ff"/>
<rect x="294" y="303" width="5" height="5" fill="#0066ff"/>
<rect x="299" y="303" width="15" height="5" fill="#00d2ff"/>
<rect x="314" y="303" width="55" height="5" fill="#00f0d2"/>
<rect x="369" y="303" width="95" height="5" fill="#00d2ff"/>
<rect x="464" y="303" width="65" height="5" fill="#00f0d2"/>
<rect x="529" y="303" width="25" height="5" fill="#05d26e"/>
<rect x="554" y="303" width="10" height="5" fill="#00f0d2"/>
<rect x="564" y="303" width="120" height="5" fill="#05d26e"/>
<rect x="154" y="308" width="25" height="5" fill="#0066ff"/>
<rect x="179" y="308" width="30" height="5" fill="#00d2ff"/>
<rect x="209" y="308" width="50" height="5" fill="#0066ff"/>
<rect x="259" y="308" width="15" height="5" fill="#00d2ff"/>
<rect x="274" y="308" width="10" height="5" fill="#0066ff"/>
<rect x="284" y="308" width="30" height="5" fill="#00d2ff"/>
<rect x="314" y="308" width="55" height="5" fill="#00f0d2"/>
<rect x="369" y="308" width="95" height="5" fill="#00d2ff"/>
<rect x="464" y="308" width="65" height="5" fill="#00f0d2"/>
<rect x="529" y="308" width="15" height="5" fill="#05d26e"/>
<rect x="544" y="308" width="5" height="5" fill="#00f0d2"/>
<rect x="549" y="308" width="135" height="5" fill="#05d26e"/>
<rect x="154" y="313" width="25" height="5" fill="#0066ff"/>
<rect x="179" y="313" width="30" height="5" fill="#00d2ff"/>
<rect x="209" y="313" width="40" height="5" fill="#0066ff"/>
<rect x="249" y="313" width="25" height="5" fill="#00d2ff"/>
<rect x="274" y="313" width="15" height="5" fill="#0066ff"/>
<rect x="289" y="313" width="10" height="5" fill="#00d2ff"/>
<rect x="299" y="313" width="15" height="5" fill="#00f0d2"/>
<rect x="314" y="313" width="15" height="5" fill="#0066ff"/>
<rect x="329" y="313" width="15" height="5" fill="#00f0d2"/>
<rect x="344" y="313" width="80" height="5" fill="#00d2ff"/>
<rect x="424" y="313" width="10" height="5" fill="#00f0d2"/>
<rect x="434" y="313" width="15" height="5" fill="#05d26e"/>
<rect x="449" y="313" width="15" height="5" fill="#00d2ff"/>
<rect x="464" y="313" width="85" height="5" fill="#00f0d2"/>
<rect x="549" y="313" width="135" height="5" fill="#05d26e"/>
<rect x="154" y="318" width="25" height="5" fill="#0066ff"/>
<rect x="179" y="318" width="30" height="5" fill="#00d2ff"/>
<rect x="209" y="318" width="40" height="5" fill="#0066ff"/>
<rect x="249" y="318" width="25" height="5" fill="#00d2ff"/>
<rect x="274" y="318" width="15" height="5" fill="#0066ff"/>
<rect x="289" y="318" width="10" height="5" fill="#00d2ff"/>
<rect x="299" y="318" width="15" height="5" fill="#00f0d2"/>
<rect x="314" y="318" width="15" height="5" fill="#0066ff"/>
<rect x="329" y="318" width="15" height="5" fill="#00f0d2"/>
<rect x="344" y="318" width="80" height="5" fill="#00d2ff"/>
<rect x="424" y="318" width="10" height="5" fill="#00f0d2"/>
<rect x="434" y="318" width="15" height="5" fill="#05d26e"/>
<rect x="449" y="318" width="15" height="5" fill="#00d2ff"/>
<rect x="464" y="318" width="80" height="5" fill="#00f0d2"/>
<rect x="544" y="318" width="140" height="5" fill="#05d26e"/>
<rect x="154" y="323" width="15" height="5" fill="#0066ff"/>
<rect x="169" y="323" width="40" height="5" fill="#00d2ff"/>
<rect x="209" y="323" width="40" height="5" fill="#0066ff"/>
<rect x="249" y="323" width="25" height="5" fill="#00d2ff"/>
<rect x="274" y="323" width="15" height="5" fill="#0066ff"/>
<rect x="289" y="323" width="10" height="5" fill="#00d2ff"/>
<rect x="299" y="323" width="15" height="5" fill="#00f0d2"/>
<rect x="314" y="323" width="15" height="5" fill="#0066ff"/>
<rect x="329" y="323" width="5" height="5" fill="#00d2ff"/>
<rect x="334" y="323" width="10" height="5" fill="#00f0d2"/>
<rect x="344" y="323" width="80" height="5" fill="#00d2ff"/>
<rect x="424" y="323" width="10" height="5" fill="#00f0d2"/>
<rect x="434" y="323" width="5" height="5" fill="#05d26e"/>
<rect x="439" y="323" width="5" height="5" fill="#00f0d2"/>
<rect x="444" y="323" width="5" height="5" fill="#05d26e"/>
<rect x="449" y="323" width="15" height="5" fill="#00d2ff"/>
<rect x="464" y="323" width="80" height="5" fill="#00f0d2"/>
<rect x="544" y="323" width="125" height="5" fill="#05d26e"/>
<rect x="669" y="323" width="10" height="5" fill="#00f0d2"/>
<rect x="679" y="323" width="5" height="5" fill="#05d26e"/>
<rect x="154" y="328" width="10" height="5" fill="#0066ff"/>
<rect x="164" y="328" width="55" height="5" fill="#00d2ff"/>
<rect x="219" y="328" width="15" height="5" fill="#0066ff"/>
<rect x="234" y="328" width="20" height="5" fill="#00d2ff"/>
<rect x="254" y="328" width="35" height="5" fill="#0066ff"/>
<rect x="289" y="328" width="10" height="5" fill="#00d2ff"/>
<rect x="299" y="328" width="25" height="5" fill="#00f0d2"/>
<rect x="324" y="328" width="20" height="5" fill="#00d2ff"/>
<rect x="344" y="328" width="10" height="5" fill="#00f0d2"/>
<rect x="354" y="328" width="70" height="5" fill="#00d2ff"/>
<rect x="424" y="328" width="10" height="5" fill="#00f0d2"/>
<rect x="434" y="328" width="15" height="5" fill="#05d26e"/>
<rect x="449" y="328" width="5" height="5" fill="#00f0d2"/>
<rect x="454" y="328" width="10" height="5" fill="#00d2ff"/>
<rect x="464" y="328" width="55" height="5" fill="#00f0d2"/>
<rect x="519" y="328" width="120" height="5" fill="#05d26e"/>
<rect x="639" y="328" width="15" height="5" fill="#00f0d2"/>
<rect x="654" y="328" width="10" height="5" fill="#05d26e"/>
<rect x="664" y="328" width="20" height="5" fill="#00f0d2"/>
<rect x="154" y="333" width="10" height="5" fill="#0066ff"/>
<rect x="164" y="333" width="55" height="5" fill="#00d2ff"/>
<rect x="219" y="333" width="15" height="5" fill="#0066ff"/>
<rect x="234" y="333" width="20" height="5" fill="#00d2ff"/>
<rect x="254" y="333" width="35" height="5" fill="#0066ff"/>
<rect x="289" y="333" width="10" height="5" fill="#00d2ff"/>
<rect x="299" y="333" width="25" height="5" fill="#00f0d2"/>
<rect x="324" y="333" width="20" height="5" fill="#00d2ff"/>
<rect x="344" y="333" width="10" height="5" fill="#00f0d2"/>
<rect x="354" y="333" width="70" height="5" fill="#00d2ff"/>
<rect x="424" y="333" width="10" height="5" fill="#00f0d2"/>
<rect x="434" y="333" width="15" height="5" fill="#05d26e"/>
<rect x="449" y="333" width="70" height="5" fill="#00f0d2"/>
<rect x="519" y="333" width="120" height="5" fill="#05d26e"/>
<rect x="639" y="333" width="15" height="5" fill="#00f0d2"/>
<rect x="654" y="333" width="10" height="5" fill="#05d26e"/>
<rect x="664" y="333" width="20" height="5" fill="#00f0d2"/>
<rect x="154" y="338" width="10" height="5" fill="#0066ff"/>
<rect x="164" y="338" width="55" height="5" fill="#00d2ff"/>
<rect x="219" y="338" width="15" height="5" fill="#0066ff"/>
<rect x="234" y="338" width="20" height="5" fill="#00d2ff"/>
<rect x="254" y="338" width="35" height="5" fill="#0066ff"/>
<rect x="289" y="338" width="10" height="5" fill="#00d2ff"/>
<rect x="299" y="338" width="25" height="5" fill="#00f0d2"/>
<rect x="324" y="338" width="20" height="5" fill="#00d2ff"/>
<rect x="344" y="338" width="10" height="5" fill="#00f0d2"/>
<rect x="354" y="338" width="70" height="5" fill="#00d2ff"/>
<rect x="424" y="338" width="10" height="5" fill="#00f0d2"/>
<rect x="434" y="338" width="10" height="5" fill="#05d26e"/>
<rect x="444" y="338" width="75" height="5" fill="#00f0d2"/>
<rect x="519" y="338" width="120" height="5" fill="#05d26e"/>
<rect x="639" y="338" width="45" height="5" fill="#00f0d2"/>
<rect x="154" y="343" width="65" height="5" fill="#00d2ff"/>
<rect x="219" y="343" width="25" height="5" fill="#0066ff"/>
<rect x="244" y="343" width="35" height="5" fill="#00d2ff"/>
<rect x="279" y="343" width="10" height="5" fill="#00f0d2"/>
<rect x="289" y="343" width="10" height="5" fill="#00d2ff"/>
<rect x="299" y="343" width="15" height="5" fill="#00f0d2"/>
<rect x="314" y="343" width="15" height="5" fill="#00d2ff"/>
<rect x="329" y="343" width="15" height="5" fill="#00f0d2"/>
<rect x="344" y="343" width="10" height="5" fill="#00d2ff"/>
<rect x="354" y="343" width="15" height="5" fill="#00f0d2"/>
<rect x="369" y="343" width="55" height="5" fill="#00d2ff"/>
<rect x="424" y="343" width="20" height="5" fill="#00f0d2"/>
<rect x="444" y="343" width="5" height="5" fill="#05d26e"/>
<rect x="449" y="343" width="70" height="5" fill="#00f0d2"/>
<rect x="519" y="343" width="135" height="5" fill="#05d26e"/>
<rect x="654" y="343" width="30" height="5" fill="#00f0d2"/>
<rect x="154" y="348" width="65" height="5" fill="#00d2ff"/>
<rect x="219" y="348" width="25" height="5" fill="#0066ff"/>
<rect x="244" y="348" width="30" height="5" fill="#00d2ff"/>
<rect x="274" y="348" width="15" height="5" fill="#00f0d2"/>
<rect x="289" y="348" width="10" height="5" fill="#00d2ff"/>
<rect x="299" y="348" width="15" height="5" fill="#00f0d2"/>
<rect x="314" y="348" width="15" height="5" fill="#00d2ff"/>
<rect x="329" y="348" width="15" height="5" fill="#00f0d2"/>
<rect x="344" y="348" width="10" height="5" fill="#00d2ff"/>
<rect x="354" y="348" width="15" height="5" fill="#00f0d2"/>
<rect x="369" y="348" width="55" height="5" fill="#00d2ff"/>
<rect x="424" y="348" width="95" height="5" fill="#00f0d2"/>
<rect x="519" y="348" width="135" height="5" fill="#05d26e"/>
<rect x="654" y="348" width="30" height="5" fill="#00f0d2"/>
<rect x="154" y="353" width="10" height="5" fill="#0066ff"/>
<rect x="164" y="353" width="55" height="5" fill="#00d2ff"/>
<rect x="219" y="353" width="25" height="5" fill="#0066ff"/>
<rect x="244" y="353" width="30" height="5" fill="#00d2ff"/>
<rect x="274" y="353" width="15" height="5" fill="#00f0d2"/>
<rect x="289" y="353" width="10" height="5" fill="#00d2ff"/>
<rect x="299" y="353" width="15" height="5" fill="#00f0d2"/>
<rect x="314" y="353" width="15" height="5" fill="#00d2ff"/>
<rect x="329" y="353" width="15" height="5" fill="#00f0d2"/>
<rect x="344" y="353" width="10" height="5" fill="#00d2ff"/>
<rect x="354" y="353" width="15" height="5" fill="#00f0d2"/>
<rect x="369" y="353" width="55" height="5" fill="#00d2ff"/>
<rect x="424" y="353" width="35" height="5" fill="#00f0d2"/>
<rect x="459" y="353" width="15" height="5" fill="#00d2ff"/>
<rect x="474" y="353" width="45" height="5" fill="#00f0d2"/>
<rect x="519" y="353" width="135" height="5" fill="#05d26e"/>
<rect x="654" y="353" width="30" height="5" fill="#00f0d2"/>
<rect x="154" y="358" width="15" height="5" fill="#0066ff"/>
<rect x="169" y="358" width="55" height="5" fill="#00d2ff"/>
<rect x="224" y="358" width="30" height="5" fill="#0066ff"/>
<rect x="254" y="358" width="20" height="5" fill="#00d2ff"/>
<rect x="274" y="358" width="10" height="5" fill="#00f0d2"/>
<rect x="284" y="358" width="15" height="5" fill="#00d2ff"/>
<rect x="299" y="358" width="15" height="5" fill="#00f0d2"/>
<rect x="314" y="358" width="5" height="5" fill="#00d2ff"/>
<rect x="319" y="358" width="10" height="5" fill="#00f0d2"/>
<rect x="329" y="358" width="25" height="5" fill="#00d2ff"/>
<rect x="354" y="358" width="15" height="5" fill="#00f0d2"/>
<rect x="369" y="358" width="55" height="5" fill="#00d2ff"/>
<rect x="424" y="358" width="35" height="5" fill="#00f0d2"/>
<rect x="459" y="358" width="10" height="5" fill="#00d2ff"/>
<rect x="469" y="358" width="50" height="5" fill="#00f0d2"/>
<rect x="519" y="358" width="30" height="5" fill="#05d26e"/>
<rect x="549" y="358" width="5" height="5" fill="#00f0d2"/>
<rect x="554" y="358" width="100" height="5" fill="#05d26e"/>
<rect x="654" y="358" width="30" height="5" fill="#00f0d2"/>
<rect x="154" y="363" width="20" height="5" fill="#0066ff"/>
<rect x="174" y="363" width="50" height="5" fill="#00d2ff"/>
<rect x="224" y="363" width="50" height="5" fill="#0066ff"/>
<rect x="274" y="363" width="15" height="5" fill="#00d2ff"/>
<rect x="289" y="363" width="10" height="5" fill="#00f0d2"/>
<rect x="299" y="363" width="15" height="5" fill="#0066ff"/>
<rect x="314" y="363" width="5" height="5" fill="#00d2ff"/>
<rect x="319" y="363" width="10" height="5" fill="#00f0d2"/>
<rect x="329" y="363" width="95" height="5" fill="#00d2ff"/>
<rect x="424" y="363" width="10" height="5" fill="#00f0d2"/>
<rect x="434" y="363" width="15" height="5" fill="#00d2ff"/>
<rect x="449" y="363" width="5" height="5" fill="#00f0d2"/>
<rect x="454" y="363" width="10" height="5" fill="#05d26e"/>
<rect x="464" y="363" width="55" height="5" fill="#00f0d2"/>
<rect x="519" y="363" width="10" height="5" fill="#05d26e"/>
<rect x="529" y="363" width="40" height="5" fill="#00f0d2"/>
<rect x="569" y="363" width="85" height="5" fill="#05d26e"/>
<rect x="654" y="363" width="30" height="5" fill="#00f0d2"/>
<rect x="154" y="368" width="25" height="5" fill="#0066ff"/>
<rect x="179" y="368" width="50" height="5" fill="#00d2ff"/>
<rect x="229" y="368" width="45" height="5" fill="#0066ff"/>
<rect x="274" y="368" width="15" height="5" fill="#00d2ff"/>
<rect x="289" y="368" width="10" height="5" fill="#00f0d2"/>
<rect x="299" y="368" width="15" height="5" fill="#0066ff"/>
<rect x="314" y="368" width="5" height="5" fill="#00d2ff"/>
<rect x="319" y="368" width="10" height="5" fill="#00f0d2"/>
<rect x="329" y="368" width="95" height="5" fill="#00d2ff"/>
<rect x="424" y="368" width="10" height="5" fill="#00f0d2"/>
<rect x="434" y="368" width="15" height="5" fill="#00d2ff"/>
<rect x="449" y="368" width="5" height="5" fill="#00f0d2"/>
<rect x="454" y="368" width="10" height="5" fill="#05d26e"/>
<rect x="464" y="368" width="105" height="5" fill="#00f0d2"/>
<rect x="569" y="368" width="85" height="5" fill="#05d26e"/>
<rect x="654" y="368" width="30" height="5" fill="#00f0d2"/>
<rect x="154" y="373" width="10" height="5" fill="#0066ff"/>
<rect x="164" y="373" width="15" height="5" fill="#00d2ff"/>
<rect x="179" y="373" width="10" height="5" fill="#0066ff"/>
<rect x="189" y="373" width="30" height="5" fill="#00d2ff"/>
<rect x="219" y="373" width="55" height="5" fill="#0066ff"/>
<rect x="274" y="373" width="25" height="5" fill="#00d2ff"/>
<rect x="299" y="373" width="15" height="5" fill="#0066ff"/>
<rect x="314" y="373" width="15" height="5" fill="#00f0d2"/>
<rect x="329" y="373" width="100" height="5" fill="#00d2ff"/>
<rect x="429" y="373" width="10" height="5" fill="#00f0d2"/>
<rect x="439" y="373" width="5" height="5" fill="#00d2ff"/>
<rect x="444" y="373" width="80" height="5" fill="#00f0d2"/>
<rect x="524" y="373" width="10" height="5" fill="#05d26e"/>
<rect x="534" y="373" width="10" height="5" fill="#00f0d2"/>
<rect x="544" y="373" width="110" height="5" fill="#05d26e"/>
<rect x="654" y="373" width="5" height="5" fill="#00f0d2"/>
<rect x="659" y="373" width="10" height="5" fill="#05d26e"/>
<rect x="669" y="373" width="15" height="5" fill="#00f0d2"/>
<rect x="154" y="378" width="10" height="5" fill="#0066ff"/>
<rect x="164" y="378" width="15" height="5" fill="#00d2ff"/>
<rect x="179" y="378" width="10" height="5" fill="#0066ff"/>
<rect x="189" y="378" width="30" height="5" fill="#00d2ff"/>
<rect x="219" y="378" width="30" height="5" fill="#0066ff"/>
<rect x="249" y="378" width="10" height="5" fill="#0000fa"/>
<rect x="259" y="378" width="10" height="5" fill="#0066ff"/>
<rect x="269" y="378" width="20" height="5" fill="#00d2ff"/>
<rect x="289" y="378" width="25" height="5" fill="#00f0d2"/>
<rect x="314" y="378" width="115" height="5" fill="#00d2ff"/>
<rect x="429" y="378" width="10" height="5" fill="#00f0d2"/>
<rect x="439" y="378" width="15" height="5" fill="#00d2ff"/>
<rect x="454" y="378" width="65" height="5" fill="#00f0d2"/>
<rect x="519" y="378" width="15" height="5" fill="#05d26e"/>
<rect x="534" y="378" width="15" height="5" fill="#00f0d2"/>
<rect x="549" y="378" width="15" height="5" fill="#05d26e"/>
<rect x="564" y="378" width="10" height="5" fill="#00aa1e"/>
<rect x="574" y="378" width="55" height="5" fill="#05d26e"/>
<rect x="629" y="378" width="30" height="5" fill="#00f0d2"/>
<rect x="659" y="378" width="10" height="5" fill="#05d26e"/>
<rect x="669" y="378" width="15" height="5" fill="#00f0d2"/>
<rect x="154" y="383" width="15" height="5" fill="#0066ff"/>
<rect x="169" y="383" width="5" height="5" fill="#00d2ff"/>
<rect x="174" y="383" width="15" height="5" fill="#0066ff"/>
<rect x="189" y="383" width="30" height="5" fill="#00d2ff"/>
<rect x="219" y="383" width="25" height="5" fill="#0066ff"/>
<rect x="244" y="383" width="15" height="5" fill="#0000fa"/>
<rect x="259" y="383" width="30" height="5" fill="#00d2ff"/>
<rect x="289" y="383" width="20" height="5" fill="#00f0d2"/>
<rect x="309" y="383" width="115" height="5" fill="#00d2ff"/>
<rect x="424" y="383" width="15" height="5" fill="#00f0d2"/>
<rect x="439" y="383" width="10" height="5" fill="#00d2ff"/>
<rect x="449" y="383" width="70" height="5" fill="#00f0d2"/>
<rect x="519" y="383" width="15" height="5" fill="#05d26e"/>
<rect x="534" y="383" width="10" height="5" fill="#00f0d2"/>
<rect x="544" y="383" width="20" height="5" fill="#05d26e"/>
<rect x="564" y="383" width="10" height="5" fill="#00aa1e"/>
<rect x="574" y="383" width="55" height="5" fill="#05d26e"/>
<rect x="629" y="383" width="55" height="5" fill="#00f0d2"/>
<rect x="154" y="388" width="35" height="5" fill="#0066ff"/>
<rect x="189" y="388" width="30" height="5" fill="#00d2ff"/>
<rect x="219" y="388" width="25" height="5" fill="#0066ff"/>
<rect x="244" y="388" width="15" height="5" fill="#0000fa"/>
<rect x="259" y="388" width="30" height="5" fill="#00d2ff"/>
<rect x="289" y="388" width="15" height="5" fill="#00f0d2"/>
<rect x="304" y="388" width="115" height="5" fill="#00d2ff"/>
<rect x="419" y="388" width="20" height="5" fill="#00f0d2"/>
<rect x="439" y="388" width="10" height="5" fill="#00d2ff"/>
<rect x="449" y="388" width="70" height="5" fill="#00f0d2"/>
<rect x="519" y="388" width="15" height="5" fill="#05d26e"/>
<rect x="534" y="388" width="10" height="5" fill="#00f0d2"/>
<rect x="544" y="388" width="20" height="5" fill="#05d26e"/>
<rect x="564" y="388" width="10" height="5" fill="#00aa1e"/>
<rect x="574" y="388" width="55" height="5" fill="#05d26e"/>
<rect x="629" y="388" width="55" height="5" fill="#00f0d2"/>
<rect x="154" y="393" width="55" height="5" fill="#0066ff"/>
<rect x="209" y="393" width="10" height="5" fill="#00d2ff"/>
<rect x="219" y="393" width="40" height="5" fill="#0066ff"/>
<rect x="259" y="393" width="40" height="5" fill="#00d2ff"/>
<rect x="299" y="393" width="15" height="5" fill="#0066ff"/>
<rect x="314" y="393" width="100" height="5" fill="#00d2ff"/>
<rect x="414" y="393" width="10" height="5" fill="#00f0d2"/>
<rect x="424" y="393" width="10" height="5" fill="#05d26e"/>
<rect x="434" y="393" width="30" height="5" fill="#00f0d2"/>
<rect x="464" y="393" width="55" height="5" fill="#05d26e"/>
<rect x="519" y="393" width="15" height="5" fill="#00f0d2"/>
<rect x="534" y="393" width="75" height="5" fill="#05d26e"/>
<rect x="609" y="393" width="75" height="5" fill="#00f0d2"/>
<rect x="154" y="398" width="50" height="5" fill="#0066ff"/>
<rect x="204" y="398" width="15" height="5" fill="#00d2ff"/>
<rect x="219" y="398" width="40" height="5" fill="#0066ff"/>
<rect x="259" y="398" width="40" height="5" fill="#00d2ff"/>
<rect x="299" y="398" width="15" height="5" fill="#0066ff"/>
<rect x="314" y="398" width="100" height="5" fill="#00d2ff"/>
<rect x="414" y="398" width="10" height="5" fill="#00f0d2"/>
<rect x="424" y="398" width="10" height="5" fill="#05d26e"/>
<rect x="434" y="398" width="30" height="5" fill="#00f0d2"/>
<rect x="464" y="398" width="40" height="5" fill="#05d26e"/>
<rect x="504" y="398" width="15" height="5" fill="#00aa1e"/>
<rect x="519" y="398" width="15" height="5" fill="#00f0d2"/>
<rect x="534" y="398" width="40" height="5" fill="#05d26e"/>
<rect x="574" y="398" width="15" height="5" fill="#00f0d2"/>
<rect x="589" y="398" width="10" height="5" fill="#05d26e"/>
<rect x="599" y="398" width="85" height="5" fill="#00f0d2"/>
<rect x="154" y="403" width="50" height="5" fill="#0066ff"/>
<rect x="204" y="403" width="15" height="5" fill="#00d2ff"/>
<rect x="219" y="403" width="40" height="5" fill="#0066ff"/>
<rect x="259" y="403" width="40" height="5" fill="#00d2ff"/>
<rect x="299" y="403" width="15" height="5" fill="#0066ff"/>
<rect x="314" y="403" width="100" height="5" fill="#00d2ff"/>
<rect x="414" y="403" width="10" height="5" fill="#00f0d2"/>
<rect x="424" y="403" width="10" height="5" fill="#05d26e"/>
<rect x="434" y="403" width="30" height="5" fill="#00f0d2"/>
<rect x="464" y="403" width="40" height="5" fill="#05d26e"/>
<rect x="504" y="403" width="15" height="5" fill="#00aa1e"/>
<rect x="519" y="403" width="15" height="5" fill="#00f0d2"/>
<rect x="534" y="403" width="40" height="5" fill="#05d26e"/>
<rect x="574" y="403" width="45" height="5" fill="#00f0d2"/>
<rect x="619" y="403" width="5" height="5" fill="#05d26e"/>
<rect x="624" y="403" width="20" height="5" fill="#00f0d2"/>
<rect x="644" y="403" width="5" height="5" fill="#05d26e"/>
<rect x="649" y="403" width="35" height="5" fill="#00f0d2"/>
<rect x="154" y="408" width="20" height="5" fill="#0000fa"/>
<rect x="174" y="408" width="30" height="5" fill="#0066ff"/>
<rect x="204" y="408" width="15" height="5" fill="#0000fa"/>
<rect x="219" y="408" width="25" height="5" fill="#0066ff"/>
<rect x="244" y="408" width="15" height="5" fill="#0000fa"/>
<rect x="259" y="408" width="35" height="5" fill="#00d2ff"/>
<rect x="294" y="408" width="10" height="5" fill="#0066ff"/>
<rect x="304" y="408" width="115" height="5" fill="#00d2ff"/>
<rect x="419" y="408" width="5" height="5" fill="#00f0d2"/>
<rect x="424" y="408" width="15" height="5" fill="#05d26e"/>
<rect x="439" y="408" width="25" height="5" fill="#00f0d2"/>
<rect x="464" y="408" width="40" height="5" fill="#05d26e"/>
<rect x="504" y="408" width="10" height="5" fill="#00aa1e"/>
<rect x="514" y="408" width="5" height="5" fill="#05d26e"/>
<rect x="519" y="408" width="15" height="5" fill="#00f0d2"/>
<rect x="534" y="408" width="35" height="5" fill="#05d26e"/>
<rect x="569" y="408" width="60" height="5" fill="#00f0d2"/>
<rect x="629" y="408" width="15" height="5" fill="#05d26e"/>
<rect x="644" y="408" width="40" height="5" fill="#00f0d2"/>
<rect x="154" y="413" width="20" height="5" fill="#0000fa"/>
<rect x="174" y="413" width="30" height="5" fill="#0066ff"/>
<rect x="204" y="413" width="15" height="5" fill="#0000fa"/>
<rect x="219" y="413" width="25" height="5" fill="#0066ff"/>
<rect x="244" y="413" width="15" height="5" fill="#0000fa"/>
<rect x="259" y="413" width="30" height="5" fill="#0066ff"/>
<rect x="289" y="413" width="120" height="5" fill="#00d2ff"/>
<rect x="409" y="413" width="15" height="5" fill="#00f0d2"/>
<rect x="424" y="413" width="15" height="5" fill="#05d26e"/>
<rect x="439" y="413" width="15" height="5" fill="#00f0d2"/>
<rect x="454" y="413" width="40" height="5" fill="#05d26e"/>
<rect x="494" y="413" width="5" height="5" fill="#00f0d2"/>
<rect x="499" y="413" width="5" height="5" fill="#05d26e"/>
<rect x="504" y="413" width="50" height="5" fill="#00f0d2"/>
<rect x="554" y="413" width="15" height="5" fill="#05d26e"/>
<rect x="569" y="413" width="35" height="5" fill="#00f0d2"/>
<rect x="604" y="413" width="15" height="5" fill="#05d26e"/>
<rect x="619" y="413" width="10" height="5" fill="#00f0d2"/>
<rect x="629" y="413" width="15" height="5" fill="#05d26e"/>
<rect x="644" y="413" width="40" height="5" fill="#00f0d2"/>
<rect x="154" y="418" width="20" height="5" fill="#0000fa"/>
<rect x="174" y="418" width="35" height="5" fill="#0066ff"/>
<rect x="209" y="418" width="10" height="5" fill="#0000fa"/>
<rect x="219" y="418" width="25" height="5" fill="#0066ff"/>
<rect x="244" y="418" width="15" height="5" fill="#0000fa"/>
<rect x="259" y="418" width="30" height="5" fill="#0066ff"/>
<rect x="289" y="418" width="120" height="5" fill="#00d2ff"/>
<rect x="409" y="418" width="15" height="5" fill="#00f0d2"/>
<rect x="424" y="418" width="15" height="5" fill="#05d26e"/>
<rect x="439" y="418" width="15" height="5" fill="#00f0d2"/>
<rect x="454" y="418" width="45" height="5" fill="#05d26e"/>
<rect x="499" y="418" width="110" height="5" fill="#00f0d2"/>
<rect x="609" y="418" width="10" height="5" fill="#05d26e"/>
<rect x="619" y="418" width="10" height="5" fill="#00f0d2"/>
<rect x="629" y="418" width="15" height="5" fill="#05d26e"/>
<rect x="644" y="418" width="40" height="5" fill="#00f0d2"/>
<rect x="154" y="423" width="20" height="5" fill="#0000fa"/>
<rect x="174" y="423" width="15" height="5" fill="#0066ff"/>
<rect x="189" y="423" width="55" height="5" fill="#00d2ff"/>
<rect x="244" y="423" width="10" height="5" fill="#0066ff"/>
<rect x="254" y="423" width="5" height="5" fill="#0000fa"/>
<rect x="259" y="423" width="30" height="5" fill="#0066ff"/>
<rect x="289" y="423" width="120" height="5" fill="#00d2ff"/>
<rect x="409" y="423" width="15" height="5" fill="#00f0d2"/>
<rect x="424" y="423" width="15" height="5" fill="#05d26e"/>
<rect x="439" y="423" width="15" height="5" fill="#00f0d2"/>
<rect x="454" y="423" width="45" height="5" fill="#05d26e"/>
<rect x="499" y="423" width="75" height="5" fill="#00f0d2"/>
<rect x="574" y="423" width="35" height="5" fill="#00d2ff"/>
<rect x="609" y="423" width="10" height="5" fill="#00f0d2"/>
<rect x="619" y="423" width="25" height="5" fill="#05d26e"/>
<rect x="644" y="423" width="30" height="5" fill="#00f0d2"/>
<rect x="674" y="423" width="10" height="5" fill="#05d26e"/>
<rect x="154" y="428" width="20" height="5" fill="#0000fa"/>
<rect x="174" y="428" width="15" height="5" fill="#0066ff"/>
<rect x="189" y="428" width="55" height="5" fill="#00d2ff"/>
<rect x="244" y="428" width="15" height="5" fill="#0066ff"/>
<rect x="259" y="428" width="70" height="5" fill="#00d2ff"/>
<rect x="329" y="428" width="15" height="5" fill="#0066ff"/>
<rect x="344" y="428" width="65" height="5" fill="#00d2ff"/>
<rect x="409" y="428" width="30" height="5" fill="#00f0d2"/>
<rect x="439" y="428" width="10" height="5" fill="#05d26e"/>
<rect x="449" y="428" width="5" height="5" fill="#00aa1e"/>
<rect x="454" y="428" width="40" height="5" fill="#05d26e"/>
<rect x="494" y="428" width="75" height="5" fill="#00f0d2"/>
<rect x="569" y="428" width="40" height="5" fill="#00d2ff"/>
<rect x="609" y="428" width="10" height="5" fill="#00f0d2"/>
<rect x="619" y="428" width="25" height="5" fill="#05d26e"/>
<rect x="644" y="428" width="25" height="5" fill="#00f0d2"/>
<rect x="669" y="428" width="15" height="5" fill="#05d26e"/>
<rect x="154" y="433" width="20" height="5" fill="#0000fa"/>
<rect x="174" y="433" width="15" height="5" fill="#0066ff"/>
<rect x="189" y="433" width="45" height="5" fill="#00d2ff"/>
<rect x="234" y="433" width="5" height="5" fill="#0066ff"/>
<rect x="239" y="433" width="5" height="5" fill="#00d2ff"/>
<rect x="244" y="433" width="15" height="5" fill="#0066ff"/>
<rect x="259" y="433" width="70" height="5" fill="#00d2ff"/>
<rect x="329" y="433" width="15" height="5" fill="#0066ff"/>
<rect x="344" y="433" width="40" height="5" fill="#00d2ff"/>
<rect x="384" y="433" width="10" height="5" fill="#0066ff"/>
<rect x="394" y="433" width="15" height="5" fill="#00d2ff"/>
<rect x="409" y="433" width="25" height="5" fill="#00f0d2"/>
<rect x="434" y="433" width="10" height="5" fill="#05d26e"/>
<rect x="444" y="433" width="5" height="5" fill="#00aa1e"/>
<rect x="449" y="433" width="15" height="5" fill="#6ed20a"/>
<rect x="464" y="433" width="30" height="5" fill="#05d26e"/>
<rect x="494" y="433" width="80" height="5" fill="#00f0d2"/>
<rect x="574" y="433" width="35" height="5" fill="#00d2ff"/>
<rect x="609" y="433" width="25" height="5" fill="#00f0d2"/>
<rect x="634" y="433" width="10" height="5" fill="#05d26e"/>
<rect x="644" y="433" width="25" height="5" fill="#00f0d2"/>
<rect x="669" y="433" width="5" height="5" fill="#05d26e"/>
<rect x="674" y="433" width="5" height="5" fill="#00aa1e"/>
<rect x="679" y="433" width="5" height="5" fill="#05d26e"/>
<rect x="154" y="438" width="5" height="5" fill="#0066ff"/>
<rect x="159" y="438" width="15" height="5" fill="#0000fa"/>
<rect x="174" y="438" width="30" height="5" fill="#0066ff"/>
<rect x="204" y="438" width="30" height="5" fill="#00d2ff"/>
<rect x="234" y="438" width="25" height="5" fill="#0066ff"/>
<rect x="259" y="438" width="70" height="5" fill="#00d2ff"/>
<rect x="329" y="438" width="15" height="5" fill="#0066ff"/>
<rect x="344" y="438" width="40" height="5" fill="#00d2ff"/>
<rect x="384" y="438" width="10" height="5" fill="#0066ff"/>
<rect x="394" y="438" width="15" height="5" fill="#00d2ff"/>
<rect x="409" y="438" width="10" height="5" fill="#00f0d2"/>
<rect x="419" y="438" width="25" height="5" fill="#05d26e"/>
<rect x="444" y="438" width="5" height="5" fill="#00aa1e"/>
<rect x="449" y="438" width="15" height="5" fill="#6ed20a"/>
<rect x="464" y="438" width="30" height="5" fill="#05d26e"/>
<rect x="494" y="438" width="80" height="5" fill="#00f0d2"/>
<rect x="574" y="438" width="35" height="5" fill="#00d2ff"/>
<rect x="609" y="438" width="25" height="5" fill="#00f0d2"/>
<rect x="634" y="438" width="10" height="5" fill="#05d26e"/>
<rect x="644" y="438" width="25" height="5" fill="#00f0d2"/>
<rect x="669" y="438" width="5" height="5" fill="#05d26e"/>
<rect x="674" y="438" width="5" height="5" fill="#00aa1e"/>
<rect x="679" y="438" width="5" height="5" fill="#05d26e"/>
<rect x="154" y="443" width="5" height="5" fill="#0066ff"/>
<rect x="159" y="443" width="15" height="5" fill="#0000fa"/>
<rect x="174" y="443" width="30" height="5" fill="#0066ff"/>
<rect x="204" y="443" width="30" height="5" fill="#00d2ff"/>
<rect x="234" y="443" width="55" height="5" fill="#0066ff"/>
<rect x="289" y="443" width="35" height="5" fill="#00d2ff"/>
<rect x="324" y="443" width="20" height="5" fill="#0066ff"/>
<rect x="344" y="443" width="15" height="5" fill="#00d2ff"/>
<rect x="359" y="443" width="10" height="5" fill="#00f0d2"/>
<rect x="369" y="443" width="40" height="5" fill="#00d2ff"/>
<rect x="409" y="443" width="10" height="5" fill="#00f0d2"/>
<rect x="419" y="443" width="25" height="5" fill="#05d26e"/>
<rect x="444" y="443" width="5" height="5" fill="#00aa1e"/>
<rect x="449" y="443" width="15" height="5" fill="#6ed20a"/>
<rect x="464" y="443" width="5" height="5" fill="#00aa1e"/>
<rect x="469" y="443" width="25" height="5" fill="#05d26e"/>
<rect x="494" y="443" width="45" height="5" fill="#00f0d2"/>
<rect x="539" y="443" width="15" height="5" fill="#00d2ff"/>
<rect x="554" y="443" width="20" height="5" fill="#00f0d2"/>
<rect x="574" y="443" width="30" height="5" fill="#00d2ff"/>
<rect x="604" y="443" width="55" height="5" fill="#00f0d2"/>
<rect x="659" y="443" width="10" height="5" fill="#05d26e"/>
<rect x="669" y="443" width="5" height="5" fill="#00aa1e"/>
<rect x="674" y="443" width="10" height="5" fill="#05d26e"/>
<rect x="154" y="448" width="5" height="5" fill="#0066ff"/>
<rect x="159" y="448" width="15" height="5" fill="#0000fa"/>
<rect x="174" y="448" width="25" height="5" fill="#0066ff"/>
<rect x="199" y="448" width="35" height="5" fill="#00d2ff"/>
<rect x="234" y="448" width="55" height="5" fill="#0066ff"/>
<rect x="289" y="448" width="35" height="5" fill="#00d2ff"/>
<rect x="324" y="448" width="20" height="5" fill="#0066ff"/>
<rect x="344" y="448" width="10" height="5" fill="#00d2ff"/>
<rect x="354" y="448" width="15" height="5" fill="#00f0d2"/>
<rect x="369" y="448" width="35" height="5" fill="#00d2ff"/>
<rect x="404" y="448" width="15" height="5" fill="#00f0d2"/>
<rect x="419" y="448" width="25" height="5" fill="#05d26e"/>
<rect x="444" y="448" width="5" height="5" fill="#00aa1e"/>
<rect x="449" y="448" width="15" height="5" fill="#6ed20a"/>
<rect x="464" y="448" width="30" height="5" fill="#05d26e"/>
<rect x="494" y="448" width="45" height="5" fill="#00f0d2"/>
<rect x="539" y="448" width="15" height="5" fill="#00d2ff"/>
<rect x="554" y="448" width="20" height="5" fill="#00f0d2"/>
<rect x="574" y="448" width="25" height="5" fill="#00d2ff"/>
<rect x="599" y="448" width="60" height="5" fill="#00f0d2"/>
<rect x="659" y="448" width="5" height="5" fill="#05d26e"/>
<rect x="664" y="448" width="5" height="5" fill="#00aa1e"/>
<rect x="669" y="448" width="15" height="5" fill="#05d26e"/>
<rect x="154" y="453" width="5" height="5" fill="#0066ff"/>
<rect x="159" y="453" width="10" height="5" fill="#0000fa"/>
<rect x="169" y="453" width="25" height="5" fill="#0066ff"/>
<rect x="194" y="453" width="40" height="5" fill="#00d2ff"/>
<rect x="234" y="453" width="60" height="5" fill="#0066ff"/>
<rect x="294" y="453" width="30" height="5" fill="#00d2ff"/>
<rect x="324" y="453" width="20" height="5" fill="#0066ff"/>
<rect x="344" y="453" width="10" height="5" fill="#00d2ff"/>
<rect x="354" y="453" width="15" height="5" fill="#00f0d2"/>
<rect x="369" y="453" width="20" height="5" fill="#00d2ff"/>
<rect x="389" y="453" width="30" height="5" fill="#00f0d2"/>
<rect x="419" y="453" width="25" height="5" fill="#05d26e"/>
<rect x="444" y="453" width="10" height="5" fill="#00aa1e"/>
<rect x="454" y="453" width="10" height="5" fill="#6ed20a"/>
<rect x="464" y="453" width="30" height="5" fill="#05d26e"/>
<rect x="494" y="453" width="40" height="5" fill="#00f0d2"/>
<rect x="534" y="453" width="20" height="5" fill="#00d2ff"/>
<rect x="554" y="453" width="25" height="5" fill="#00f0d2"/>
<rect x="579" y="453" width="15" height="5" fill="#00d2ff"/>
<rect x="594" y="453" width="65" height="5" fill="#00f0d2"/>
<rect x="659" y="453" width="10" height="5" fill="#05d26e"/>
<rect x="669" y="453" width="5" height="5" fill="#00f0d2"/>
<rect x="674" y="453" width="10" height="5" fill="#05d26e"/>
<rect x="154" y="458" width="5" height="5" fill="#0000fa"/>
<rect x="159" y="458" width="30" height="5" fill="#0066ff"/>
<rect x="189" y="458" width="30" height="5" fill="#00d2ff"/>
<rect x="219" y="458" width="10" height="5" fill="#0066ff"/>
<rect x="229" y="458" width="25" height="5" fill="#00d2ff"/>
<rect x="254" y="458" width="40" height="5" fill="#0066ff"/>
<rect x="294" y="458" width="30" height="5" fill="#00d2ff"/>
<rect x="324" y="458" width="30" height="5" fill="#0066ff"/>
<rect x="354" y="458" width="15" height="5" fill="#00f0d2"/>
<rect x="369" y="458" width="10" height="5" fill="#00d2ff"/>
<rect x="379" y="458" width="40" height="5" fill="#00f0d2"/>
<rect x="419" y="458" width="10" height="5" fill="#05d26e"/>
<rect x="429" y="458" width="10" height="5" fill="#00f0d2"/>
<rect x="439" y="458" width="15" height="5" fill="#05d26e"/>
<rect x="454" y="458" width="10" height="5" fill="#6ed20a"/>
<rect x="464" y="458" width="30" height="5" fill="#05d26e"/>
<rect x="494" y="458" width="35" height="5" fill="#00f0d2"/>
<rect x="529" y="458" width="25" height="5" fill="#00d2ff"/>
<rect x="554" y="458" width="10" height="5" fill="#00f0d2"/>
<rect x="564" y="458" width="10" height="5" fill="#05d26e"/>
<rect x="574" y="458" width="5" height="5" fill="#00f0d2"/>
<rect x="579" y="458" width="5" height="5" fill="#00d2ff"/>
<rect x="584" y="458" width="35" height="5" fill="#00f0d2"/>
<rect x="619" y="458" width="5" height="5" fill="#05d26e"/>
<rect x="624" y="458" width="5" height="5" fill="#00aa1e"/>
<rect x="629" y="458" width="5" height="5" fill="#05d26e"/>
<rect x="634" y="458" width="25" height="5" fill="#00f0d2"/>
<rect x="659" y="458" width="25" height="5" fill="#05d26e"/>
<rect x="154" y="463" width="5" height="5" fill="#0000fa"/>
<rect x="159" y="463" width="30" height="5" fill="#0066ff"/>
<rect x="189" y="463" width="25" height="5" fill="#00d2ff"/>
<rect x="214" y="463" width="15" height="5" fill="#0066ff"/>
<rect x="229" y="463" width="15" height="5" fill="#00d2ff"/>
<rect x="244" y="463" width="10" height="5" fill="#0066ff"/>
<rect x="254" y="463" width="70" height="5" fill="#00d2ff"/>
<rect x="324" y="463" width="30" height="5" fill="#0066ff"/>
<rect x="354" y="463" width="10" height="5" fill="#00f0d2"/>
<rect x="364" y="463" width="15" height="5" fill="#00d2ff"/>
<rect x="379" y="463" width="15" height="5" fill="#00f0d2"/>
<rect x="394" y="463" width="10" height="5" fill="#00d2ff"/>
<rect x="404" y="463" width="35" height="5" fill="#00f0d2"/>
<rect x="439" y="463" width="40" height="5" fill="#05d26e"/>
<rect x="479" y="463" width="45" height="5" fill="#00f0d2"/>
<rect x="524" y="463" width="30" height="5" fill="#00d2ff"/>
<rect x="554" y="463" width="10" height="5" fill="#00f0d2"/>
<rect x="564" y="463" width="10" height="5" fill="#05d26e"/>
<rect x="574" y="463" width="5" height="5" fill="#00f0d2"/>
<rect x="579" y="463" width="5" height="5" fill="#00d2ff"/>
<rect x="584" y="463" width="35" height="5" fill="#00f0d2"/>
<rect x="619" y="463" width="5" height="5" fill="#05d26e"/>
<rect x="624" y="463" width="5" height="5" fill="#00aa1e"/>
<rect x="629" y="463" width="30" height="5" fill="#00f0d2"/>
<rect x="659" y="463" width="25" height="5" fill="#05d26e"/>
<rect x="154" y="468" width="5" height="5" fill="#0000fa"/>
<rect x="159" y="468" width="30" height="5" fill="#0066ff"/>
<rect x="189" y="468" width="25" height="5" fill="#00d2ff"/>
<rect x="214" y="468" width="15" height="5" fill="#0066ff"/>
<rect x="229" y="468" width="15" height="5" fill="#00d2ff"/>
<rect x="244" y="468" width="10" height="5" fill="#0066ff"/>
<rect x="254" y="468" width="70" height="5" fill="#00d2ff"/>
<rect x="324" y="468" width="30" height="5" fill="#0066ff"/>
<rect x="354" y="468" width="10" height="5" fill="#00f0d2"/>
<rect x="364" y="468" width="15" height="5" fill="#00d2ff"/>
<rect x="379" y="468" width="15" height="5" fill="#00f0d2"/>
<rect x="394" y="468" width="10" height="5" fill="#00d2ff"/>
<rect x="404" y="468" width="35" height="5" fill="#00f0d2"/>
<rect x="439" y="468" width="40" height="5" fill="#05d26e"/>
<rect x="479" y="468" width="45" height="5" fill="#00f0d2"/>
<rect x="524" y="468" width="30" height="5" fill="#00d2ff"/>
<rect x="554" y="468" width="10" height="5" fill="#00f0d2"/>
<rect x="564" y="468" width="10" height="5" fill="#05d26e"/>
<rect x="574" y="468" width="5" height="5" fill="#00f0d2"/>
<rect x="579" y="468" width="5" height="5" fill="#00d2ff"/>
<rect x="584" y="468" width="35" height="5" fill="#00f0d2"/>
<rect x="619" y="468" width="10" height="5" fill="#05d26e"/>
<rect x="629" y="468" width="30" height="5" fill="#00f0d2"/>
<rect x="659" y="468" width="25" height="5" fill="#05d26e"/>
<rect x="154" y="473" width="50" height="5" fill="#0066ff"/>
<rect x="204" y="473" width="125" height="5" fill="#00d2ff"/>
<rect x="329" y="473" width="25" height="5" fill="#0066ff"/>
<rect x="354" y="473" width="15" height="5" fill="#00d2ff"/>
<rect x="369" y="473" width="5" height="5" fill="#0066ff"/>
<rect x="374" y="473" width="5" height="5" fill="#00d2ff"/>
<rect x="379" y="473" width="15" height="5" fill="#00f0d2"/>
<rect x="394" y="473" width="15" height="5" fill="#00d2ff"/>
<rect x="409" y="473" width="30" height="5" fill="#00f0d2"/>
<rect x="439" y="473" width="40" height="5" fill="#05d26e"/>
<rect x="479" y="473" width="85" height="5" fill="#00f0d2"/>
<rect x="564" y="473" width="15" height="5" fill="#05d26e"/>
<rect x="579" y="473" width="80" height="5" fill="#00f0d2"/>
<rect x="659" y="473" width="10" height="5" fill="#00d2ff"/>
<rect x="669" y="473" width="5" height="5" fill="#00f0d2"/>
<rect x="674" y="473" width="10" height="5" fill="#05d26e"/>
<rect x="154" y="478" width="50" height="5" fill="#0066ff"/>
<rect x="204" y="478" width="125" height="5" fill="#00d2ff"/>
<rect x="329" y="478" width="40" height="5" fill="#0066ff"/>
<rect x="369" y="478" width="10" height="5" fill="#00d2ff"/>
<rect x="379" y="478" width="60" height="5" fill="#00f0d2"/>
<rect x="439" y="478" width="40" height="5" fill="#05d26e"/>
<rect x="479" y="478" width="15" height="5" fill="#00f0d2"/>
<rect x="494" y="478" width="15" height="5" fill="#00d2ff"/>
<rect x="509" y="478" width="30" height="5" fill="#0066ff"/>
<rect x="539" y="478" width="5" height="5" fill="#00d2ff"/>
<rect x="544" y="478" width="15" height="5" fill="#0066ff"/>
<rect x="559" y="478" width="30" height="5" fill="#00d2ff"/>
<rect x="589" y="478" width="30" height="5" fill="#00f0d2"/>
<rect x="619" y="478" width="15" height="5" fill="#00d2ff"/>
<rect x="634" y="478" width="25" height="5" fill="#00f0d2"/>
<rect x="659" y="478" width="15" height="5" fill="#00d2ff"/>
<rect x="674" y="478" width="5" height="5" fill="#00f0d2"/>
<rect x="679" y="478" width="5" height="5" fill="#05d26e"/>
<rect x="154" y="483" width="45" height="5" fill="#0066ff"/>
<rect x="199" y="483" width="130" height="5" fill="#00d2ff"/>
<rect x="329" y="483" width="40" height="5" fill="#0066ff"/>
<rect x="369" y="483" width="10" height="5" fill="#00d2ff"/>
<rect x="379" y="483" width="60" height="5" fill="#00f0d2"/>
<rect x="439" y="483" width="40" height="5" fill="#05d26e"/>
<rect x="479" y="483" width="15" height="5" fill="#00f0d2"/>
<rect x="494" y="483" width="15" height="5" fill="#00d2ff"/>
<rect x="509" y="483" width="30" height="5" fill="#0066ff"/>
<rect x="539" y="483" width="5" height="5" fill="#00d2ff"/>
<rect x="544" y="483" width="15" height="5" fill="#0066ff"/>
<rect x="559" y="483" width="25" height="5" fill="#00d2ff"/>
<rect x="584" y="483" width="35" height="5" fill="#00f0d2"/>
<rect x="619" y="483" width="15" height="5" fill="#00d2ff"/>
<rect x="634" y="483" width="30" height="5" fill="#00f0d2"/>
<rect x="664" y="483" width="10" height="5" fill="#00d2ff"/>
<rect x="674" y="483" width="10" height="5" fill="#05d26e"/>
<rect x="154" y="488" width="50" height="5" fill="#0066ff"/>
<rect x="204" y="488" width="125" height="5" fill="#00d2ff"/>
<rect x="329" y="488" width="40" height="5" fill="#0066ff"/>
<rect x="369" y="488" width="15" height="5" fill="#00d2ff"/>
<rect x="384" y="488" width="55" height="5" fill="#00f0d2"/>
<rect x="439" y="488" width="40" height="5" fill="#05d26e"/>
<rect x="479" y="488" width="15" height="5" fill="#00f0d2"/>
<rect x="494" y="488" width="15" height="5" fill="#00d2ff"/>
<rect x="509" y="488" width="25" height="5" fill="#0066ff"/>
<rect x="534" y="488" width="50" height="5" fill="#00d2ff"/>
<rect x="584" y="488" width="25" height="5" fill="#00f0d2"/>
<rect x="609" y="488" width="25" height="5" fill="#00d2ff"/>
<rect x="634" y="488" width="10" height="5" fill="#00f0d2"/>
<rect x="644" y="488" width="5" height="5" fill="#00d2ff"/>
<rect x="649" y="488" width="10" height="5" fill="#00f0d2"/>
<rect x="659" y="488" width="25" height="5" fill="#05d26e"/>
<rect x="154" y="493" width="60" height="5" fill="#0066ff"/>
<rect x="214" y="493" width="15" height="5" fill="#00d2ff"/>
<rect x="229" y="493" width="40" height="5" fill="#0066ff"/>
<rect x="269" y="493" width="60" height="5" fill="#00d2ff"/>
<rect x="329" y="493" width="40" height="5" fill="#0066ff"/>
<rect x="369" y="493" width="5" height="5" fill="#00d2ff"/>
<rect x="374" y="493" width="65" height="5" fill="#00f0d2"/>
<rect x="439" y="493" width="15" height="5" fill="#05d26e"/>
<rect x="454" y="493" width="40" height="5" fill="#00f0d2"/>
<rect x="494" y="493" width="15" height="5" fill="#00d2ff"/>
<rect x="509" y="493" width="15" height="5" fill="#0066ff"/>
<rect x="524" y="493" width="55" height="5" fill="#00d2ff"/>
<rect x="579" y="493" width="25" height="5" fill="#00f0d2"/>
<rect x="604" y="493" width="30" height="5" fill="#00d2ff"/>
<rect x="634" y="493" width="10" height="5" fill="#00f0d2"/>
<rect x="644" y="493" width="5" height="5" fill="#00d2ff"/>
<rect x="649" y="493" width="10" height="5" fill="#00f0d2"/>
<rect x="659" y="493" width="25" height="5" fill="#05d26e"/>
<rect x="154" y="498" width="60" height="5" fill="#0066ff"/>
<rect x="214" y="498" width="15" height="5" fill="#00d2ff"/>
<rect x="229" y="498" width="40" height="5" fill="#0066ff"/>
<rect x="269" y="498" width="60" height="5" fill="#00d2ff"/>
<rect x="329" y="498" width="40" height="5" fill="#0066ff"/>
<rect x="369" y="498" width="70" height="5" fill="#00f0d2"/>
<rect x="439" y="498" width="15" height="5" fill="#05d26e"/>
<rect x="454" y="498" width="40" height="5" fill="#00f0d2"/>
<rect x="494" y="498" width="15" height="5" fill="#00d2ff"/>
<rect x="509" y="498" width="15" height="5" fill="#0066ff"/>
<rect x="524" y="498" width="55" height="5" fill="#00d2ff"/>
<rect x="579" y="498" width="5" height="5" fill="#00f0d2"/>
<rect x="584" y="498" width="5" height="5" fill="#00d2ff"/>
<rect x="589" y="498" width="15" height="5" fill="#00f0d2"/>
<rect x="604" y="498" width="30" height="5" fill="#00d2ff"/>
<rect x="634" y="498" width="10" height="5" fill="#00f0d2"/>
<rect x="644" y="498" width="5" height="5" fill="#00d2ff"/>
<rect x="649" y="498" width="10" height="5" fill="#00f0d2"/>
<rect x="659" y="498" width="25" height="5" fill="#05d26e"/>
<rect x="154" y="503" width="60" height="5" fill="#0066ff"/>
<rect x="214" y="503" width="15" height="5" fill="#00d2ff"/>
<rect x="229" y="503" width="40" height="5" fill="#0066ff"/>
<rect x="269" y="503" width="60" height="5" fill="#00d2ff"/>
<rect x="329" y="503" width="40" height="5" fill="#0066ff"/>
<rect x="369" y="503" width="70" height="5" fill="#00f0d2"/>
<rect x="439" y="503" width="15" height="5" fill="#05d26e"/>
<rect x="454" y="503" width="40" height="5" fill="#00f0d2"/>
<rect x="494" y="503" width="15" height="5" fill="#00d2ff"/>
<rect x="509" y="503" width="15" height="5" fill="#0066ff"/>
<rect x="524" y="503" width="55" height="5" fill="#00d2ff"/>
<rect x="579" y="503" width="5" height="5" fill="#00f0d2"/>
<rect x="584" y="503" width="5" height="5" fill="#00d2ff"/>
<rect x="589" y="503" width="15" height="5" fill="#00f0d2"/>
<rect x="604" y="503" width="15" height="5" fill="#00d2ff"/>
<rect x="619" y="503" width="5" height="5" fill="#00f0d2"/>
<rect x="624" y="503" width="10" height="5" fill="#00d2ff"/>
<rect x="634" y="503" width="15" height="5" fill="#00f0d2"/>
<rect x="649" y="503" width="25" height="5" fill="#05d26e"/>
<rect x="674" y="503" width="10" height="5" fill="#00f0d2"/>
<rect x="154" y="508" width="35" height="5" fill="#00d2ff"/>
<rect x="189" y="508" width="25" height="5" fill="#0066ff"/>
<rect x="214" y="508" width="10" height="5" fill="#00d2ff"/>
<rect x="224" y="508" width="5" height="5" fill="#0066ff"/>
<rect x="229" y="508" width="10" height="5" fill="#00d2ff"/>
<rect x="239" y="508" width="30" height="5" fill="#0066ff"/>
<rect x="269" y="508" width="60" height="5" fill="#00d2ff"/>
<rect x="329" y="508" width="35" height="5" fill="#0066ff"/>
<rect x="364" y="508" width="75" height="5" fill="#00f0d2"/>
<rect x="439" y="508" width="15" height="5" fill="#05d26e"/>
<rect x="454" y="508" width="40" height="5" fill="#00f0d2"/>
<rect x="494" y="508" width="15" height="5" fill="#00d2ff"/>
<rect x="509" y="508" width="15" height="5" fill="#0066ff"/>
<rect x="524" y="508" width="15" height="5" fill="#00d2ff"/>
<rect x="539" y="508" width="20" height="5" fill="#00f0d2"/>
<rect x="559" y="508" width="20" height="5" fill="#00d2ff"/>
<rect x="579" y="508" width="15" height="5" fill="#00f0d2"/>
<rect x="594" y="508" width="25" height="5" fill="#00d2ff"/>
<rect x="619" y="508" width="30" height="5" fill="#00f0d2"/>
<rect x="649" y="508" width="25" height="5" fill="#05d26e"/>
<rect x="674" y="508" width="10" height="5" fill="#00f0d2"/>
<rect x="154" y="513" width="35" height="5" fill="#00d2ff"/>
<rect x="189" y="513" width="35" height="5" fill="#0066ff"/>
<rect x="224" y="513" width="15" height="5" fill="#00d2ff"/>
<rect x="239" y="513" width="30" height="5" fill="#0066ff"/>
<rect x="269" y="513" width="130" height="5" fill="#00d2ff"/>
<rect x="399" y="513" width="40" height="5" fill="#00f0d2"/>
<rect x="439" y="513" width="25" height="5" fill="#05d26e"/>
<rect x="464" y="513" width="30" height="5" fill="#00f0d2"/>
<rect x="494" y="513" width="45" height="5" fill="#00d2ff"/>
<rect x="539" y="513" width="25" height="5" fill="#00f0d2"/>
<rect x="564" y="513" width="20" height="5" fill="#00d2ff"/>
<rect x="584" y="513" width="10" height="5" fill="#00f0d2"/>
<rect x="594" y="513" width="25" height="5" fill="#00d2ff"/>
<rect x="619" y="513" width="40" height="5" fill="#00f0d2"/>
<rect x="659" y="513" width="25" height="5" fill="#05d26e"/>
<rect x="154" y="518" width="35" height="5" fill="#00d2ff"/>
<rect x="189" y="518" width="40" height="5" fill="#0066ff"/>
<rect x="229" y="518" width="10" height="5" fill="#00d2ff"/>
<rect x="239" y="518" width="30" height="5" fill="#0066ff"/>
<rect x="269" y="518" width="130" height="5" fill="#00d2ff"/>
<rect x="399" y="518" width="40" height="5" fill="#00f0d2"/>
<rect x="439" y="518" width="10" height="5" fill="#05d26e"/>
<rect x="449" y="518" width="5" height="5" fill="#00f0d2"/>
<rect x="454" y="518" width="10" height="5" fill="#05d26e"/>
<rect x="464" y="518" width="30" height="5" fill="#00f0d2"/>
<rect x="494" y="518" width="45" height="5" fill="#00d2ff"/>
<rect x="539" y="518" width="55" height="5" fill="#00f0d2"/>
<rect x="594" y="518" width="25" height="5" fill="#00d2ff"/>
<rect x="619" y="518" width="40" height="5" fill="#00f0d2"/>
<rect x="659" y="518" width="25" height="5" fill="#05d26e"/>
<rect x="154" y="523" width="35" height="5" fill="#00d2ff"/>
<rect x="189" y="523" width="80" height="5" fill="#0066ff"/>
<rect x="269" y="523" width="130" height="5" fill="#00d2ff"/>
<rect x="399" y="523" width="40" height="5" fill="#00f0d2"/>
<rect x="439" y="523" width="25" height="5" fill="#05d26e"/>
<rect x="464" y="523" width="15" height="5" fill="#00f0d2"/>
<rect x="479" y="523" width="45" height="5" fill="#00d2ff"/>
<rect x="524" y="523" width="10" height="5" fill="#0066ff"/>
<rect x="534" y="523" width="5" height="5" fill="#00d2ff"/>
<rect x="539" y="523" width="30" height="5" fill="#00f0d2"/>
<rect x="569" y="523" width="10" height="5" fill="#00d2ff"/>
<rect x="579" y="523" width="15" height="5" fill="#00f0d2"/>
<rect x="594" y="523" width="25" height="5" fill="#00d2ff"/>
<rect x="619" y="523" width="15" height="5" fill="#00f0d2"/>
<rect x="634" y="523" width="50" height="5" fill="#05d26e"/>
<rect x="154" y="528" width="35" height="5" fill="#00d2ff"/>
<rect x="189" y="528" width="65" height="5" fill="#0066ff"/>
<rect x="254" y="528" width="75" height="5" fill="#00d2ff"/>
<rect x="329" y="528" width="15" height="5" fill="#0066ff"/>
<rect x="344" y="528" width="55" height="5" fill="#00d2ff"/>
<rect x="399" y="528" width="10" height="5" fill="#00f0d2"/>
<rect x="409" y="528" width="25" height="5" fill="#05d26e"/>
<rect x="434" y="528" width="20" height="5" fill="#00f0d2"/>
<rect x="454" y="528" width="10" height="5" fill="#05d26e"/>
<rect x="464" y="528" width="15" height="5" fill="#00f0d2"/>
<rect x="479" y="528" width="15" height="5" fill="#00d2ff"/>
<rect x="494" y="528" width="15" height="5" fill="#0066ff"/>
<rect x="509" y="528" width="15" height="5" fill="#00d2ff"/>
<rect x="524" y="528" width="10" height="5" fill="#0066ff"/>
<rect x="534" y="528" width="20" height="5" fill="#00d2ff"/>
<rect x="554" y="528" width="40" height="5" fill="#00f0d2"/>
<rect x="594" y="528" width="25" height="5" fill="#00d2ff"/>
<rect x="619" y="528" width="15" height="5" fill="#00f0d2"/>
<rect x="634" y="528" width="25" height="5" fill="#05d26e"/>
<rect x="659" y="528" width="25" height="5" fill="#00f0d2"/>
<rect x="154" y="533" width="35" height="5" fill="#00d2ff"/>
<rect x="189" y="533" width="65" height="5" fill="#0066ff"/>
<rect x="254" y="533" width="75" height="5" fill="#00d2ff"/>
<rect x="329" y="533" width="15" height="5" fill="#0066ff"/>
<rect x="344" y="533" width="55" height="5" fill="#00d2ff"/>
<rect x="399" y="533" width="10" height="5" fill="#00f0d2"/>
<rect x="409" y="533" width="25" height="5" fill="#05d26e"/>
<rect x="434" y="533" width="20" height="5" fill="#00f0d2"/>
<rect x="454" y="533" width="10" height="5" fill="#05d26e"/>
<rect x="464" y="533" width="15" height="5" fill="#00f0d2"/>
<rect x="479" y="533" width="15" height="5" fill="#00d2ff"/>
<rect x="494" y="533" width="15" height="5" fill="#0066ff"/>
<rect x="509" y="533" width="15" height="5" fill="#00d2ff"/>
<rect x="524" y="533" width="10" height="5" fill="#0066ff"/>
<rect x="534" y="533" width="20" height="5" fill="#00d2ff"/>
<rect x="554" y="533" width="40" height="5" fill="#00f0d2"/>
<rect x="594" y="533" width="25" height="5" fill="#00d2ff"/>
<rect x="619" y="533" width="15" height="5" fill="#00f0d2"/>
<rect x="634" y="533" width="25" height="5" fill="#05d26e"/>
<rect x="659" y="533" width="25" height="5" fill="#00f0d2"/>
<rect x="154" y="538" width="5" height="5" fill="#00d2ff"/>
<rect x="159" y="538" width="10" height="5" fill="#00f0d2"/>
<rect x="169" y="538" width="15" height="5" fill="#00d2ff"/>
<rect x="184" y="538" width="60" height="5" fill="#0066ff"/>
<rect x="244" y="538" width="5" height="5" fill="#00d2ff"/>
<rect x="249" y="538" width="5" height="5" fill="#0066ff"/>
<rect x="254" y="538" width="75" height="5" fill="#00d2ff"/>
<rect x="329" y="538" width="10" height="5" fill="#0066ff"/>
<rect x="339" y="538" width="55" height="5" fill="#00d2ff"/>
<rect x="394" y="538" width="15" height="5" fill="#00f0d2"/>
<rect x="409" y="538" width="25" height="5" fill="#05d26e"/>
<rect x="434" y="538" width="20" height="5" fill="#00f0d2"/>
<rect x="454" y="538" width="10" height="5" fill="#05d26e"/>
<rect x="464" y="538" width="5" height="5" fill="#00f0d2"/>
<rect x="469" y="538" width="25" height="5" fill="#00d2ff"/>
<rect x="494" y="538" width="15" height="5" fill="#0066ff"/>
<rect x="509" y="538" width="10" height="5" fill="#00f0d2"/>
<rect x="519" y="538" width="5" height="5" fill="#00d2ff"/>
<rect x="524" y="538" width="10" height="5" fill="#0066ff"/>
<rect x="534" y="538" width="105" height="5" fill="#00f0d2"/>
<rect x="639" y="538" width="25" height="5" fill="#05d26e"/>
<rect x="664" y="538" width="20" height="5" fill="#00f0d2"/>
<rect x="154" y="543" width="15" height="5" fill="#00f0d2"/>
<rect x="169" y="543" width="15" height="5" fill="#00d2ff"/>
<rect x="184" y="543" width="70" height="5" fill="#0066ff"/>
<rect x="254" y="543" width="75" height="5" fill="#00d2ff"/>
<rect x="329" y="543" width="10" height="5" fill="#0066ff"/>
<rect x="339" y="543" width="40" height="5" fill="#00d2ff"/>
<rect x="379" y="543" width="30" height="5" fill="#00f0d2"/>
<rect x="409" y="543" width="45" height="5" fill="#05d26e"/>
<rect x="454" y="543" width="15" height="5" fill="#00f0d2"/>
<rect x="469" y="543" width="10" height="5" fill="#00d2ff"/>
<rect x="479" y="543" width="25" height="5" fill="#0066ff"/>
<rect x="504" y="543" width="30" height="5" fill="#00d2ff"/>
<rect x="534" y="543" width="125" height="5" fill="#00f0d2"/>
<rect x="659" y="543" width="5" height="5" fill="#05d26e"/>
<rect x="664" y="543" width="20" height="5" fill="#00f0d2"/>
<rect x="154" y="548" width="15" height="5" fill="#00f0d2"/>
<rect x="169" y="548" width="20" height="5" fill="#00d2ff"/>
<rect x="189" y="548" width="65" height="5" fill="#0066ff"/>
<rect x="254" y="548" width="70" height="5" fill="#00d2ff"/>
<rect x="324" y="548" width="15" height="5" fill="#0066ff"/>
<rect x="339" y="548" width="40" height="5" fill="#00d2ff"/>
<rect x="379" y="548" width="30" height="5" fill="#00f0d2"/>
<rect x="409" y="548" width="45" height="5" fill="#05d26e"/>
<rect x="454" y="548" width="15" height="5" fill="#00f0d2"/>
<rect x="469" y="548" width="10" height="5" fill="#00d2ff"/>
<rect x="479" y="548" width="15" height="5" fill="#0066ff"/>
<rect x="494" y="548" width="10" height="5" fill="#00d2ff"/>
<rect x="504" y="548" width="5" height="5" fill="#0066ff"/>
<rect x="509" y="548" width="25" height="5" fill="#00d2ff"/>
<rect x="534" y="548" width="125" height="5" fill="#00f0d2"/>
<rect x="659" y="548" width="5" height="5" fill="#05d26e"/>
<rect x="664" y="548" width="20" height="5" fill="#00f0d2"/>
<rect x="154" y="553" width="15" height="5" fill="#00f0d2"/>
<rect x="169" y="553" width="15" height="5" fill="#00d2ff"/>
<rect x="184" y="553" width="70" height="5" fill="#0066ff"/>
<rect x="254" y="553" width="70" height="5" fill="#00d2ff"/>
<rect x="324" y="553" width="15" height="5" fill="#0066ff"/>
<rect x="339" y="553" width="40" height="5" fill="#00d2ff"/>
<rect x="379" y="553" width="40" height="5" fill="#00f0d2"/>
<rect x="419" y="553" width="15" height="5" fill="#05d26e"/>
<rect x="434" y="553" width="5" height="5" fill="#00f0d2"/>
<rect x="439" y="553" width="15" height="5" fill="#05d26e"/>
<rect x="454" y="553" width="5" height="5" fill="#00f0d2"/>
<rect x="459" y="553" width="20" height="5" fill="#00d2ff"/>
<rect x="479" y="553" width="30" height="5" fill="#0066ff"/>
<rect x="509" y="553" width="25" height="5" fill="#00d2ff"/>
<rect x="534" y="553" width="130" height="5" fill="#00f0d2"/>
<rect x="664" y="553" width="15" height="5" fill="#00d2ff"/>
<rect x="679" y="553" width="5" height="5" fill="#00f0d2"/>
<rect x="154" y="558" width="160" height="5" fill="#00d2ff"/>
<rect x="314" y="558" width="25" height="5" fill="#0066ff"/>
<rect x="339" y="558" width="40" height="5" fill="#00d2ff"/>
<rect x="379" y="558" width="30" height="5" fill="#00f0d2"/>
<rect x="409" y="558" width="40" height="5" fill="#05d26e"/>
<rect x="449" y="558" width="15" height="5" fill="#00f0d2"/>
<rect x="464" y="558" width="30" height="5" fill="#0066ff"/>
<rect x="494" y="558" width="30" height="5" fill="#00d2ff"/>
<rect x="524" y="558" width="15" height="5" fill="#05d26e"/>
<rect x="539" y="558" width="120" height="5" fill="#00f0d2"/>
<rect x="659" y="558" width="10" height="5" fill="#00d2ff"/>
<rect x="669" y="558" width="15" height="5" fill="#05d26e"/>
<rect x="154" y="563" width="155" height="5" fill="#00d2ff"/>
<rect x="309" y="563" width="30" height="5" fill="#0066ff"/>
<rect x="339" y="563" width="40" height="5" fill="#00d2ff"/>
<rect x="379" y="563" width="40" height="5" fill="#00f0d2"/>
<rect x="419" y="563" width="30" height="5" fill="#05d26e"/>
<rect x="449" y="563" width="15" height="5" fill="#00f0d2"/>
<rect x="464" y="563" width="30" height="5" fill="#0066ff"/>
<rect x="494" y="563" width="30" height="5" fill="#00d2ff"/>
<rect x="524" y="563" width="15" height="5" fill="#05d26e"/>
<rect x="539" y="563" width="80" height="5" fill="#00f0d2"/>
<rect x="619" y="563" width="20" height="5" fill="#05d26e"/>
<rect x="639" y="563" width="10" height="5" fill="#00f0d2"/>
<rect x="649" y="563" width="35" height="5" fill="#05d26e"/>
<rect x="154" y="568" width="155" height="5" fill="#00d2ff"/>
<rect x="309" y="568" width="30" height="5" fill="#0066ff"/>
<rect x="339" y="568" width="40" height="5" fill="#00d2ff"/>
<rect x="379" y="568" width="40" height="5" fill="#00f0d2"/>
<rect x="419" y="568" width="30" height="5" fill="#05d26e"/>
<rect x="449" y="568" width="5" height="5" fill="#00f0d2"/>
<rect x="454" y="568" width="10" height="5" fill="#00d2ff"/>
<rect x="464" y="568" width="20" height="5" fill="#0066ff"/>
<rect x="484" y="568" width="40" height="5" fill="#00d2ff"/>
<rect x="524" y="568" width="15" height="5" fill="#05d26e"/>
<rect x="539" y="568" width="80" height="5" fill="#00f0d2"/>
<rect x="619" y="568" width="20" height="5" fill="#05d26e"/>
<rect x="639" y="568" width="5" height="5" fill="#00f0d2"/>
<rect x="644" y="568" width="25" height="5" fill="#05d26e"/>
<rect x="669" y="568" width="10" height="5" fill="#00f0d2"/>
<rect x="679" y="568" width="5" height="5" fill="#05d26e"/>
<rect x="154" y="573" width="45" height="5" fill="#00d2ff"/>
<rect x="199" y="573" width="10" height="5" fill="#05d26e"/>
<rect x="209" y="573" width="35" height="5" fill="#00f0d2"/>
<rect x="244" y="573" width="65" height="5" fill="#00d2ff"/>
<rect x="309" y="573" width="30" height="5" fill="#0066ff"/>
<rect x="339" y="573" width="40" height="5" fill="#00d2ff"/>
<rect x="379" y="573" width="45" height="5" fill="#00f0d2"/>
<rect x="424" y="573" width="15" height="5" fill="#05d26e"/>
<rect x="439" y="573" width="15" height="5" fill="#00f0d2"/>
<rect x="454" y="573" width="10" height="5" fill="#00d2ff"/>
<rect x="464" y="573" width="15" height="5" fill="#0066ff"/>
<rect x="479" y="573" width="45" height="5" fill="#00d2ff"/>
<rect x="524" y="573" width="15" height="5" fill="#05d26e"/>
<rect x="539" y="573" width="80" height="5" fill="#00f0d2"/>
<rect x="619" y="573" width="15" height="5" fill="#05d26e"/>
<rect x="634" y="573" width="10" height="5" fill="#00f0d2"/>
<rect x="644" y="573" width="20" height="5" fill="#05d26e"/>
<rect x="664" y="573" width="15" height="5" fill="#00f0d2"/>
<rect x="679" y="573" width="5" height="5" fill="#05d26e"/>
<rect x="154" y="578" width="45" height="5" fill="#00d2ff"/>
<rect x="199" y="578" width="10" height="5" fill="#05d26e"/>
<rect x="209" y="578" width="35" height="5" fill="#00f0d2"/>
<rect x="244" y="578" width="50" height="5" fill="#00d2ff"/>
<rect x="294" y="578" width="20" height="5" fill="#0066ff"/>
<rect x="314" y="578" width="10" height="5" fill="#0000fa"/>
<rect x="324" y="578" width="30" height="5" fill="#0066ff"/>
<rect x="354" y="578" width="25" height="5" fill="#00d2ff"/>
<rect x="379" y="578" width="50" height="5" fill="#00f0d2"/>
<rect x="429" y="578" width="10" height="5" fill="#05d26e"/>
<rect x="439" y="578" width="10" height="5" fill="#00d2ff"/>
<rect x="449" y="578" width="15" height="5" fill="#0066ff"/>
<rect x="464" y="578" width="70" height="5" fill="#00d2ff"/>
<rect x="534" y="578" width="85" height="5" fill="#00f0d2"/>
<rect x="619" y="578" width="15" height="5" fill="#05d26e"/>
<rect x="634" y="578" width="5" height="5" fill="#00f0d2"/>
<rect x="639" y="578" width="25" height="5" fill="#05d26e"/>
<rect x="664" y="578" width="15" height="5" fill="#00f0d2"/>
<rect x="679" y="578" width="5" height="5" fill="#05d26e"/>
<rect x="154" y="583" width="45" height="5" fill="#00d2ff"/>
<rect x="199" y="583" width="5" height="5" fill="#05d26e"/>
<rect x="204" y="583" width="40" height="5" fill="#00f0d2"/>
<rect x="244" y="583" width="50" height="5" fill="#00d2ff"/>
<rect x="294" y="583" width="15" height="5" fill="#0066ff"/>
<rect x="309" y="583" width="15" height="5" fill="#0000fa"/>
<rect x="324" y="583" width="30" height="5" fill="#0066ff"/>
<rect x="354" y="583" width="25" height="5" fill="#00d2ff"/>
<rect x="379" y="583" width="50" height="5" fill="#00f0d2"/>
<rect x="429" y="583" width="10" height="5" fill="#05d26e"/>
<rect x="439" y="583" width="5" height="5" fill="#00d2ff"/>
<rect x="444" y="583" width="20" height="5" fill="#0066ff"/>
<rect x="464" y="583" width="5" height="5" fill="#00d2ff"/>
<rect x="469" y="583" width="10" height="5" fill="#00f0d2"/>
<rect x="479" y="583" width="55" height="5" fill="#00d2ff"/>
<rect x="534" y="583" width="90" height="5" fill="#00f0d2"/>
<rect x="624" y="583" width="10" height="5" fill="#05d26e"/>
<rect x="634" y="583" width="5" height="5" fill="#00f0d2"/>
<rect x="639" y="583" width="25" height="5" fill="#05d26e"/>
<rect x="664" y="583" width="10" height="5" fill="#00f0d2"/>
<rect x="674" y="583" width="10" height="5" fill="#05d26e"/>
<rect x="154" y="588" width="15" height="5" fill="#00f0d2"/>
<rect x="169" y="588" width="25" height="5" fill="#00d2ff"/>
<rect x="194" y="588" width="20" height="5" fill="#00f0d2"/>
<rect x="214" y="588" width="10" height="5" fill="#00d2ff"/>
<rect x="224" y="588" width="30" height="5" fill="#00f0d2"/>
<rect x="254" y="588" width="40" height="5" fill="#00d2ff"/>
<rect x="294" y="588" width="15" height="5" fill="#0066ff"/>
<rect x="309" y="588" width="15" height="5" fill="#0000fa"/>
<rect x="324" y="588" width="30" height="5" fill="#0066ff"/>
<rect x="354" y="588" width="25" height="5" fill="#00d2ff"/>
<rect x="379" y="588" width="50" height="5" fill="#00f0d2"/>
<rect x="429" y="588" width="10" height="5" fill="#05d26e"/>
<rect x="439" y="588" width="5" height="5" fill="#00d2ff"/>
<rect x="444" y="588" width="20" height="5" fill="#0066ff"/>
<rect x="464" y="588" width="15" height="5" fill="#00f0d2"/>
<rect x="479" y="588" width="55" height="5" fill="#00d2ff"/>
<rect x="534" y="588" width="90" height="5" fill="#00f0d2"/>
<rect x="624" y="588" width="60" height="5" fill="#05d26e"/>
<rect x="154" y="593" width="15" height="5" fill="#00f0d2"/>
<rect x="169" y="593" width="5" height="5" fill="#00d2ff"/>
<rect x="174" y="593" width="10" height="5" fill="#00f0d2"/>
<rect x="184" y="593" width="10" height="5" fill="#00d2ff"/>
<rect x="194" y="593" width="20" height="5" fill="#00f0d2"/>
<rect x="214" y="593" width="10" height="5" fill="#00d2ff"/>
<rect x="224" y="593" width="30" height="5" fill="#00f0d2"/>
<rect x="254" y="593" width="55" height="5" fill="#00d2ff"/>
<rect x="309" y="593" width="60" height="5" fill="#0066ff"/>
<rect x="369" y="593" width="10" height="5" fill="#00d2ff"/>
<rect x="379" y="593" width="20" height="5" fill="#00f0d2"/>
<rect x="399" y="593" width="10" height="5" fill="#05d26e"/>
<rect x="409" y="593" width="25" height="5" fill="#00f0d2"/>
<rect x="434" y="593" width="10" height="5" fill="#00d2ff"/>
<rect x="444" y="593" width="20" height="5" fill="#0066ff"/>
<rect x="464" y="593" width="70" height="5" fill="#00d2ff"/>
<rect x="534" y="593" width="45" height="5" fill="#00f0d2"/>
<rect x="579" y="593" width="15" height="5" fill="#05d26e"/>
<rect x="594" y="593" width="20" height="5" fill="#00f0d2"/>
<rect x="614" y="593" width="5" height="5" fill="#05d26e"/>
<rect x="619" y="593" width="10" height="5" fill="#00f0d2"/>
<rect x="629" y="593" width="55" height="5" fill="#05d26e"/>
<rect x="154" y="598" width="15" height="5" fill="#00f0d2"/>
<rect x="169" y="598" width="5" height="5" fill="#00d2ff"/>
<rect x="174" y="598" width="10" height="5" fill="#00f0d2"/>
<rect x="184" y="598" width="10" height="5" fill="#00d2ff"/>
<rect x="194" y="598" width="20" height="5" fill="#00f0d2"/>
<rect x="214" y="598" width="10" height="5" fill="#00d2ff"/>
<rect x="224" y="598" width="30" height="5" fill="#00f0d2"/>
<rect x="254" y="598" width="55" height="5" fill="#00d2ff"/>
<rect x="309" y="598" width="60" height="5" fill="#0066ff"/>
<rect x="369" y="598" width="10" height="5" fill="#00d2ff"/>
<rect x="379" y="598" width="20" height="5" fill="#00f0d2"/>
<rect x="399" y="598" width="10" height="5" fill="#05d26e"/>
<rect x="409" y="598" width="25" height="5" fill="#00f0d2"/>
<rect x="434" y="598" width="5" height="5" fill="#00d2ff"/>
<rect x="439" y="598" width="20" height="5" fill="#0066ff"/>
<rect x="459" y="598" width="75" height="5" fill="#00d2ff"/>
<rect x="534" y="598" width="30" height="5" fill="#00f0d2"/>
<rect x="564" y="598" width="5" height="5" fill="#05d26e"/>
<rect x="569" y="598" width="10" height="5" fill="#00f0d2"/>
<rect x="579" y="598" width="15" height="5" fill="#05d26e"/>
<rect x="594" y="598" width="20" height="5" fill="#00f0d2"/>
<rect x="614" y="598" width="5" height="5" fill="#05d26e"/>
<rect x="619" y="598" width="10" height="5" fill="#00f0d2"/>
<rect x="629" y="598" width="55" height="5" fill="#05d26e"/>
</g>
<path d="M168.3 77.7L160.1 74.3M162.4 77.0L160.1 74.3L163.6 74.0M191.5 77.6L183.1 74.4M185.5 77.0L183.1 74.4L186.7 74.0M215.1 77.9L205.7 74.1M208.4 77.2L205.7 74.1L209.7 73.8M237.8 76.6L229.2 75.4M232.0 77.4L229.2 75.4L232.5 74.3M260.9 75.2L252.3 76.8M255.6 77.8L252.3 76.8L255.1 74.7M284.4 76.0L275.0 76.0M278.4 77.7L275.0 76.0L278.4 74.3M307.2 74.8L298.4 77.2M302.0 77.9L298.4 77.2L301.1 74.8M330.2 74.2L321.6 77.8M325.3 78.1L321.6 77.8L324.0 74.9M353.3 73.6L344.7 78.4M348.6 78.3L344.7 78.4L346.9 75.1M376.8 73.8L367.4 78.2M371.5 78.3L367.4 78.2L370.0 74.9M399.2 73.2L391.2 78.8M395.1 78.3L391.2 78.8L393.0 75.4M422.7 73.8L413.9 78.2M417.8 78.2L413.9 78.2L416.2 75.0M446.9 73.0L435.9 79.0M440.5 78.9L435.9 79.0L438.5 75.2M469.5 72.5L459.5 79.5M464.1 78.9L459.5 79.5L461.7 75.4M492.3 72.0L482.9 80.0M487.4 78.9L482.9 80.0L484.7 75.8M515.1 72.2L506.3 79.8M510.8 78.7L506.3 79.8L508.1 75.5M538.2 72.2L529.4 79.8M533.9 78.7L529.4 79.8L531.2 75.5M561.2 71.6L552.6 80.4M557.0 78.9L552.6 80.4L554.0 76.0M584.0 72.0L576.0 80.0M580.3 78.6L576.0 80.0L577.4 75.7M607.5 71.6L598.7 80.4M603.1 79.0L598.7 80.4L600.1 76.0M630.2 72.5L622.2 79.5M626.3 78.5L622.2 79.5L623.8 75.6M653.3 72.5L645.3 79.5M649.4 78.5L645.3 79.5L646.9 75.6M180.6 98.3L172.6 92.7M174.4 96.2L172.6 92.7L176.4 93.2M203.4 97.4L195.9 93.6M197.9 96.3L195.9 93.6L199.3 93.6M227.2 96.1L218.4 94.9M221.3 96.9L218.4 94.9L221.8 93.7M250.1 95.1L241.7 95.9M244.8 97.2L241.7 95.9L244.5 94.1M273.0 93.6L265.0 97.4M268.5 97.5L265.0 97.4L267.2 94.6M297.1 95.5L287.1 95.5M290.7 97.3L287.1 95.5L290.7 93.7M319.8 94.0L310.6 97.0M314.4 97.6L310.6 97.0L313.4 94.3M342.6 93.3L334.0 97.7M337.9 97.7L334.0 97.7L336.3 94.6M365.5 93.0L357.3 98.0M361.2 97.7L357.3 98.0L359.3 94.8M387.9 92.7L381.1 98.3M384.5 97.6L381.1 98.3L382.5 95.1M409.5 93.3L405.7 97.7M407.9 96.8L405.7 97.7L406.3 95.5M435.1 92.4L426.3 98.6M430.6 98.0L426.3 98.6L428.3 94.8M458.8 91.7L448.8 99.3M453.3 98.5L448.8 99.3L450.8 95.1M480.9 91.1L472.9 99.9M477.2 98.3L472.9 99.9L474.1 95.4M504.7 91.1L495.3 99.9M499.7 98.6L495.3 99.9L496.9 95.6M527.8 90.5L518.4 100.5M522.7 98.9L518.4 100.5L519.7 96.1M550.2 90.5L542.2 100.5M546.4 98.6L542.2 100.5L543.1 96.0M573.0 91.0L565.7 100.0M569.9 98.1L565.7 100.0L566.6 95.5M598.1 89.0L586.7 102.0M591.0 100.3L586.7 102.0L587.8 97.5M619.1 91.5L611.9 99.5M615.9 98.0L611.9 99.5L613.0 95.3M642.2 92.2L635.0 98.8M638.7 97.8L635.0 98.8L636.4 95.1M169.2 120.0L159.2 110.0M160.6 114.4L159.2 110.0L163.6 111.4M190.7 118.8L183.8 111.2M184.9 115.2L183.8 111.2L187.7 112.7M214.3 116.9L206.5 113.1M208.6 115.9L206.5 113.1L210.0 113.0M237.7 115.4L229.3 114.6M232.2 116.4L229.3 114.6L232.4 113.4M261.0 114.3L252.2 115.7M255.6 116.8L252.2 115.7L255.1 113.6M284.4 115.0L275.0 115.0M278.4 116.7L275.0 115.0L278.4 113.3M307.3 113.7L298.3 116.3M302.0 117.0L298.3 116.3L301.0 113.7M331.2 113.2L320.6 116.8M325.0 117.4L320.6 116.8L323.7 113.6M352.5 112.8L345.5 117.2M348.8 116.9L345.5 117.2L347.2 114.4M376.1 113.1L368.1 116.9M371.6 117.0L368.1 116.9L370.3 114.1M400.2 111.2L390.2 118.8M394.7 118.0L390.2 118.8L392.2 114.6M421.8 111.5L414.9 118.5M418.6 117.2L414.9 118.5L416.1 114.7M447.7 111.0L435.2 119.0M439.7 118.5L435.2 119.0L437.5 115.0M471.0 111.2L458.0 118.8M462.6 118.5L458.0 118.8L460.5 114.9M491.1 110.3L484.1 119.7M488.2 117.7L484.1 119.7L484.9 115.2M516.0 109.7L505.4 120.3M509.8 118.9L505.4 120.3L506.8 115.9M540.7 109.0L526.9 121.0M531.4 119.9L526.9 121.0L528.6 116.7M561.9 110.0L551.9 120.0M556.3 118.6L551.9 120.0L553.3 115.6M584.9 110.5L575.1 119.5M579.6 118.3L575.1 119.5L576.7 115.2M608.0 110.5L598.2 119.5M602.7 118.3L598.2 119.5L599.8 115.2M630.2 111.8L622.2 118.2M626.2 117.4L622.2 118.2L623.9 114.5M652.5 112.2L646.0 117.8M649.4 117.0L646.0 117.8L647.3 114.6M675.7 111.3L669.2 118.7M672.8 117.2L669.2 118.7L670.1 114.9M180.3 137.0L172.8 132.0M174.6 135.1L172.8 132.0L176.4 132.4M203.1 137.9L196.2 131.1M197.5 134.8L196.2 131.1L200.0 132.3M227.0 135.9L218.6 133.1M221.1 135.6L218.6 133.1L222.1 132.6M250.3 134.4L241.5 134.6M244.7 136.1L241.5 134.6L244.6 133.0M274.0 134.5L264.0 134.5M267.6 136.3L264.0 134.5L267.6 132.7M296.5 133.2L287.7 135.8M291.3 136.4L287.7 135.8L290.4 133.3M319.5 132.1L310.9 136.9M314.8 136.7L310.9 136.9L313.1 133.6M343.3 132.0L333.3 137.0M337.8 137.0L333.3 137.0L336.0 133.4M365.1 131.7L357.6 137.3M361.3 136.7L357.6 137.3L359.3 133.9M388.2 132.0L380.8 137.0M384.3 136.6L380.8 137.0L382.5 133.9M412.6 129.8L402.6 139.2M407.0 137.9L402.6 139.2L404.2 134.9M436.2 130.1L425.2 138.9M429.7 138.0L425.2 138.9L427.1 134.7M459.3 129.9L448.3 139.1M452.7 138.1L448.3 139.1L450.1 134.9M481.3 129.0L472.5 140.0M476.7 138.1L472.5 140.0L473.4 135.5M505.3 129.0L494.7 140.0M499.0 138.5L494.7 140.0L496.0 135.6M528.4 129.5L517.8 139.5M522.2 138.2L517.8 139.5L519.3 135.2M553.1 127.6L539.3 141.4M543.7 140.0L539.3 141.4L540.7 137.0M573.3 129.8L565.3 139.2M569.5 137.4L565.3 139.2L566.4 134.7M598.4 130.5L586.4 138.5M591.0 138.0L586.4 138.5L588.7 134.5M620.8 129.2L610.2 139.8M614.6 138.4L610.2 139.8L611.6 135.4M643.9 130.5L633.3 138.5M637.8 137.7L633.3 138.5L635.3 134.4M666.2 130.5L657.2 138.5M661.7 137.3L657.2 138.5L658.9 134.2M167.3 157.8L161.1 150.2M161.9 154.1L161.1 150.2L164.7 151.8M192.0 157.1L182.6 150.9M184.8 154.8L182.6 150.9L187.1 151.4M215.4 156.8L205.4 151.2M207.9 155.0L205.4 151.2L210.0 151.4M238.2 155.5L228.8 152.5M231.6 155.3L228.8 152.5L232.7 151.9M260.6 153.2L252.6 154.8M255.7 155.7L252.6 154.8L255.2 152.8M285.0 152.1L274.4 155.9M278.9 156.5L274.4 155.9L277.5 152.6M304.3 150.5L301.3 157.5M303.6 155.5L301.3 157.5L301.1 154.5M331.9 151.0L319.9 157.0M324.5 157.0L319.9 157.0L322.6 153.3M353.5 150.5L344.5 157.5M349.0 156.6L344.5 157.5L346.4 153.4M378.1 148.7L366.1 159.3M370.6 158.2L366.1 159.3L367.8 155.0M399.2 149.3L391.2 158.7M395.4 156.9L391.2 158.7L392.3 154.2M421.8 149.6L414.8 158.4M418.9 156.5L414.8 158.4L415.7 154.0M447.9 149.3L434.9 158.7M439.4 158.0L434.9 158.7L437.0 154.6M472.0 148.0L457.0 160.0M461.5 159.1L457.0 160.0L458.9 155.8M493.1 147.8L482.1 160.2M486.4 158.6L482.1 160.2L483.2 155.8M515.4 148.7L506.0 159.3M510.3 157.6L506.0 159.3L507.2 154.8M540.0 148.7L527.5 159.3M532.0 158.2L527.5 159.3L529.3 155.1M562.1 149.2L551.7 158.8M556.2 157.5L551.7 158.8L553.3 154.5M585.7 148.7L574.3 159.3M578.7 158.0L574.3 159.3L575.9 155.0M610.4 148.7L595.8 159.3M600.3 158.6L595.8 159.3L597.9 155.2M632.2 149.5L620.2 158.5M624.7 157.7L620.2 158.5L622.2 154.4M653.3 150.8L645.3 157.2M649.3 156.4L645.3 157.2L647.0 153.5M674.9 150.8L669.9 157.2M672.9 155.8L669.9 157.2L670.5 154.0M179.8 176.3L173.3 170.7M174.6 173.9L173.3 170.7L176.7 171.5M202.9 175.4L196.4 171.6M198.1 174.1L196.4 171.6L199.4 171.8M227.0 174.0L218.6 173.0M221.4 174.9L218.6 173.0L221.8 171.8M250.6 172.6L241.2 174.4M244.9 175.5L241.2 174.4L244.2 172.1M270.0 173.5L268.0 173.5M269.8 174.4L268.0 173.5L269.8 172.6M294.5 170.7L289.8 176.3M292.4 175.2L289.8 176.3L290.4 173.5M317.1 172.5L313.3 174.5M315.3 174.5L313.3 174.5L314.5 172.9M342.1 170.2L334.6 176.8M338.4 175.8L334.6 176.8L336.0 173.1M366.5 168.3L356.2 178.7M360.6 177.2L356.2 178.7L357.7 174.3M390.6 168.3L378.4 178.7M382.9 177.6L378.4 178.7L380.2 174.4M412.3 168.3L402.9 178.7M407.2 177.0L402.9 178.7L404.1 174.2M435.9 168.3L425.6 178.7M429.9 177.2L425.6 178.7L427.0 174.3M462.7 168.3L444.9 178.7M449.5 178.4L444.9 178.7L447.4 174.8M480.6 168.8L473.1 178.2M477.3 176.3L473.1 178.2L474.1 173.7M504.7 167.9L495.3 179.1M499.5 177.3L495.3 179.1L496.3 174.6M529.6 167.4L516.6 179.6M521.0 178.3L516.6 179.6L518.2 175.3M550.0 168.8L542.5 178.2M546.6 176.3L542.5 178.2L543.4 173.7M573.5 169.3L565.1 177.7M569.5 176.3L565.1 177.7L566.5 173.3M600.5 167.8L584.3 179.2M588.9 178.5L584.3 179.2L586.5 175.1M620.8 169.1L610.2 177.9M614.7 176.9L610.2 177.9L612.0 173.7M642.6 170.7L634.6 176.3M638.5 175.8L634.6 176.3L636.4 172.8M665.4 169.4L658.1 177.6M662.1 176.0L658.1 177.6L659.2 173.3M167.4 195.3L160.9 190.7M162.4 193.5L160.9 190.7L164.1 191.1M191.0 193.0L183.5 193.0M186.2 194.4L183.5 193.0L186.2 191.6M214.1 193.0L206.6 193.0M209.3 194.4L206.6 193.0L209.3 191.6M237.2 190.2L229.8 195.8M233.4 195.2L229.8 195.8L231.4 192.4M261.8 191.1L251.5 194.9M255.8 195.4L251.5 194.9L254.4 191.7M282.9 189.8L276.4 196.2M279.9 195.1L276.4 196.2L277.6 192.8M305.3 191.5L300.3 194.5M302.6 194.3L300.3 194.5L301.5 192.5M330.1 190.2L321.7 195.8M325.7 195.3L321.7 195.8L323.7 192.3M353.2 188.3L344.8 197.7M349.1 196.0L344.8 197.7L346.0 193.3M374.5 188.3L369.8 197.7M373.1 195.2L369.8 197.7L369.7 193.5M399.9 188.3L390.5 197.7M394.9 196.3L390.5 197.7L391.9 193.3M422.5 187.4L414.1 198.6M418.2 196.6L414.1 198.6L414.9 194.1M446.9 188.0L435.9 198.0M440.3 196.8L435.9 198.0L437.5 193.7M472.5 185.0L456.5 201.0M460.9 199.6L456.5 201.0L457.9 196.6M491.8 186.9L483.4 199.1M487.4 196.9L483.4 199.1L484.0 194.5M515.9 186.5L505.6 199.5M509.7 197.6L505.6 199.5L506.5 195.0M539.9 188.3L527.7 197.7M532.2 196.9L527.7 197.7L529.7 193.5M562.5 188.3L551.3 197.7M555.8 196.7L551.3 197.7L553.1 193.5M585.6 188.8L574.4 197.2M578.9 196.4L574.4 197.2L576.4 193.1M608.8 189.3L597.4 196.7M602.0 196.2L597.4 196.7L599.7 192.7M629.1 189.8L623.4 196.2M626.6 195.0L623.4 196.2L624.2 192.9M651.8 191.0L646.8 195.0M649.3 194.5L646.8 195.0L647.9 192.7M672.9 189.8L671.9 196.2M673.4 194.1L671.9 196.2L671.1 193.8M179.8 213.4L173.3 211.6M175.3 213.4L173.3 211.6L176.0 211.0M202.9 213.0L196.4 212.0M198.6 213.5L196.4 212.0L198.9 211.2M226.6 212.5L219.1 212.5M221.7 213.9L219.1 212.5L221.7 211.1M250.6 211.0L241.2 214.0M245.1 214.6L241.2 214.0L244.0 211.2M274.1 209.7L263.9 215.3M268.4 215.2L263.9 215.3L266.5 211.5M297.2 209.7L287.0 215.3M291.5 215.2L287.0 215.3L289.6 211.5M318.0 209.7L312.4 215.3M315.4 214.3L312.4 215.3L313.4 212.3M339.7 209.2L336.9 215.8M339.1 213.9L336.9 215.8L336.7 212.9M365.6 206.4L357.2 218.6M361.2 216.4L357.2 218.6L357.8 214.0M388.2 206.9L380.8 218.1M384.8 215.9L380.8 218.1L381.3 213.6M411.4 206.9L403.9 218.1M407.9 215.9L403.9 218.1L404.4 213.6M434.5 207.8L427.0 217.2M431.1 215.3L427.0 217.2L427.9 212.7M459.4 207.8L448.2 217.2M452.7 216.2L448.2 217.2L450.0 213.0M480.1 207.8L473.6 217.2M477.7 215.0L473.6 217.2L474.3 212.7M503.8 205.0L496.2 220.0M500.0 217.3L496.2 220.0L496.2 215.4M529.2 207.3L517.0 217.7M521.5 216.6L517.0 217.7L518.8 213.4M552.3 209.2L540.1 215.8M544.7 215.7L540.1 215.8L542.7 212.0M574.5 208.8L564.2 216.2M568.7 215.5L564.2 216.2L566.2 212.1M594.9 210.5L589.9 214.5M592.4 214.0L589.9 214.5L591.0 212.2M618.8 210.1L612.2 214.9M615.5 214.4L612.2 214.9L613.7 212.0M641.1 212.0L636.1 213.0M638.1 213.5L636.1 213.0L637.7 211.8M664.2 212.5L659.2 212.5M661.0 213.4L659.2 212.5L661.0 211.6M168.4 232.0L160.0 232.0M163.0 233.5L160.0 232.0L163.0 230.5M192.0 232.0L182.6 232.0M186.0 233.7L182.6 232.0L186.0 230.3M215.5 231.1L205.2 232.9M209.3 234.1L205.2 232.9L208.6 230.4M239.1 228.8L227.9 235.2M232.5 235.0L227.9 235.2L230.4 231.4M261.8 228.8L251.5 235.2M256.0 234.8L251.5 235.2L253.8 231.3M285.3 228.2L274.1 235.8M278.6 235.2L274.1 235.8L276.3 231.7M306.6 229.2L299.1 234.8M302.7 234.2L299.1 234.8L300.7 231.4M328.2 227.3L323.5 236.7M326.9 234.2L323.5 236.7L323.5 232.5M351.8 228.2L346.2 235.8M349.6 234.1L346.2 235.8L346.8 232.1M373.5 227.8L370.7 236.2M373.2 233.7L370.7 236.2L370.2 232.7M398.9 226.4L391.4 237.6M395.5 235.4L391.4 237.6L392.0 233.1M423.9 225.5L412.7 238.5M416.9 236.8L412.7 238.5L413.8 234.0M444.7 227.3L438.2 236.7M442.2 234.5L438.2 236.7L438.8 232.2M469.6 226.4L459.4 237.6M463.7 236.0L459.4 237.6L460.6 233.2M491.4 226.4L483.9 237.6M487.9 235.4L483.9 237.6L484.4 233.1M512.6 227.3L508.8 236.7M511.9 234.0L508.8 236.7L508.5 232.7M537.5 227.3L530.0 236.7M534.2 234.8L530.0 236.7L531.0 232.2M561.1 228.2L552.7 235.8M557.1 234.6L552.7 235.8L554.3 231.6M584.7 230.1L575.3 233.9M579.3 234.2L575.3 233.9L578.0 230.8M604.7 230.4L601.5 233.6M603.4 233.0L601.5 233.6L602.1 231.7M627.4 232.8L625.0 231.2M626.0 232.9L625.0 231.2L627.0 231.4M648.5 231.5L650.1 232.5M649.1 230.8L650.1 232.5L648.1 232.3M674.1 230.7L670.7 233.3M672.7 232.9L670.7 233.3L671.6 231.5M181.3 251.5L171.9 251.5M175.3 253.2L171.9 251.5L175.3 249.8M203.4 248.2L195.9 254.8M199.8 253.8L195.9 254.8L197.4 251.1M225.6 249.6L220.0 253.4M222.7 253.1L220.0 253.4L221.3 251.0M251.1 249.6L240.8 253.4M245.1 253.9L240.8 253.4L243.7 250.2M272.8 248.7L265.2 254.3M268.9 253.7L265.2 254.3L266.9 250.9M295.9 247.3L288.4 255.7M292.5 254.1L288.4 255.7L289.5 251.3M319.9 245.0L310.5 258.0M314.6 255.9L310.5 258.0L311.2 253.5M342.1 245.4L334.6 257.6M338.5 255.2L334.6 257.6L334.9 253.0M365.1 245.4L357.6 257.6M361.6 255.2L357.6 257.6L358.0 253.0M386.4 247.8L382.6 255.2M385.3 253.3L382.6 255.2L382.6 251.9M410.9 246.8L404.4 256.2M408.4 254.0L404.4 256.2L405.0 251.7M434.5 246.3L427.0 256.6M431.1 254.6L427.0 256.6L427.7 252.1M458.0 245.4L449.6 257.6M453.6 255.4L449.6 257.6L450.2 253.0M480.6 245.4L473.1 257.6M477.1 255.2L473.1 257.6L473.5 253.0M501.4 247.8L498.6 255.2M501.0 253.1L498.6 255.2L498.2 252.1M525.0 246.8L521.2 256.2M524.3 253.5L521.2 256.2L520.9 252.2M550.0 249.6L542.5 253.4M545.8 253.4L542.5 253.4L544.4 250.7M573.1 248.7L565.6 254.3M569.2 253.7L565.6 254.3L567.2 250.9M595.6 250.3L589.1 252.7M591.9 253.0L589.1 252.7L591.0 250.7M617.1 251.5L613.9 251.5M615.7 252.4L613.9 251.5L615.7 250.6M637.4 250.3L639.8 252.7M639.2 250.8L639.8 252.7L637.9 252.1M663.3 250.3L660.1 252.7M662.0 252.4L660.1 252.7L661.0 250.9M167.0 272.9L161.4 269.1M162.7 271.5L161.4 269.1L164.1 269.4M189.6 268.2L184.9 273.8M187.6 272.7L184.9 273.8L185.6 271.0M214.6 270.1L206.2 271.9M209.5 272.8L206.2 271.9L208.8 269.7M237.7 268.6L229.3 273.4M233.1 273.2L229.3 273.4L231.4 270.1M260.8 266.8L252.4 275.2M256.8 273.8L252.4 275.2L253.8 270.8M284.8 265.9L274.6 276.1M278.9 274.7L274.6 276.1L276.0 271.8M304.8 267.2L300.8 274.8M303.6 272.8L300.8 274.8L300.9 271.4M327.3 266.8L324.5 275.2M327.0 272.7L324.5 275.2L324.0 271.7M354.1 264.5L343.9 277.5M348.0 275.6L343.9 277.5L344.8 273.0M375.4 265.9L368.9 276.1M372.8 273.8L368.9 276.1L369.3 271.6M396.1 265.9L394.2 276.1M396.8 272.8L394.2 276.1L393.1 272.1M420.7 267.8L415.9 274.2M418.8 272.8L415.9 274.2L416.4 271.1M443.3 266.8L439.5 275.2M442.4 272.9L439.5 275.2L439.3 271.5M466.9 267.2L462.1 274.8M465.2 272.9L462.1 274.8L462.5 271.2M490.0 266.8L485.2 275.2M488.5 273.1L485.2 275.2L485.4 271.4M513.0 265.9L508.3 276.1M511.9 273.3L508.3 276.1L508.2 271.6M534.8 267.8L532.8 274.2M534.7 272.3L532.8 274.2L532.3 271.6M559.3 268.6L554.6 273.4M557.1 272.5L554.6 273.4L555.4 270.8M578.5 269.5L581.5 272.5M580.9 270.6L581.5 272.5L579.6 271.9M605.6 269.4L600.6 272.6M603.0 272.4L600.6 272.6L601.8 270.6M628.7 269.4L623.8 272.6M626.1 272.4L623.8 272.6L624.9 270.6M652.5 268.6L646.0 273.4M649.3 272.9L646.0 273.4L647.5 270.5M674.5 267.4L670.4 274.6M673.1 272.8L670.4 274.6L670.5 271.3M182.7 290.5L170.5 290.5M174.6 292.6L170.5 290.5L174.6 288.4M204.4 288.6L195.0 292.4M199.0 292.7L195.0 292.4L197.7 289.3M227.5 287.2L218.1 293.8M222.6 293.1L218.1 293.8L220.3 289.7M250.1 286.3L241.7 294.7M246.1 293.3L241.7 294.7L243.1 290.3M272.2 285.8L265.8 295.2M269.8 293.0L265.8 295.2L266.4 290.7M295.9 285.0L288.4 296.0M292.4 293.8L288.4 296.0L288.9 291.4M319.0 284.4L311.5 296.6M315.4 294.2L311.5 296.6L311.8 292.0M339.2 284.9L337.4 296.1M340.1 292.5L337.4 296.1L336.0 291.8M365.1 284.4L357.6 296.6M361.6 294.2L357.6 296.6L358.0 292.0M388.2 282.5L380.8 298.5M384.4 295.7L380.8 298.5L380.6 293.9M410.4 286.3L404.8 294.7M408.3 292.7L404.8 294.7L405.3 290.7M434.5 285.8L427.0 295.2M431.1 293.3L427.0 295.2L427.9 290.7M457.1 285.4L450.6 295.6M454.5 293.3L450.6 295.6L451.0 291.1M479.2 285.4L474.5 295.6M478.1 292.8L474.5 295.6L474.4 291.1M501.9 286.3L498.1 294.7M501.0 292.4L498.1 294.7L497.9 291.0M525.0 287.2L521.2 293.8M523.7 292.1L521.2 293.8L521.4 290.8M549.5 287.7L543.0 293.3M546.3 292.5L543.0 293.3L544.2 290.1M571.2 288.6L567.4 292.4M569.4 291.7L567.4 292.4L568.1 290.4M593.4 291.0L591.4 290.0M592.6 291.6L591.4 290.0L593.4 290.0M617.2 287.5L613.8 293.5M616.1 292.0L613.8 293.5L613.9 290.7M641.1 289.8L636.1 291.2M638.2 291.6L636.1 291.2L637.6 289.8M665.2 290.0L658.2 291.0M660.9 291.9L658.2 291.0L660.5 289.4M167.9 308.1L160.4 311.9M163.8 311.9L160.4 311.9L162.4 309.2M192.4 307.2L182.1 312.8M186.7 312.7L182.1 312.8L184.8 309.0M214.6 306.8L206.2 313.2M210.4 312.5L206.2 313.2L208.0 309.4M239.1 304.1L227.9 315.9M232.2 314.4L227.9 315.9L229.2 311.5M260.4 304.5L252.9 315.5M256.9 313.3L252.9 315.5L253.4 310.9M283.4 303.9L275.9 316.1M279.9 313.7L275.9 316.1L276.3 311.5M305.6 304.9L300.0 315.1M303.8 312.5L300.0 315.1L300.1 310.6M329.1 303.9L322.6 316.1M326.4 313.5L322.6 316.1L322.7 311.5M351.4 306.8L346.6 313.2M349.5 311.8L346.6 313.2L347.1 310.1M375.4 303.0L368.9 317.0M372.5 314.2L368.9 317.0L368.7 312.4M396.1 305.8L394.2 314.2M396.5 311.6L394.2 314.2L393.4 310.9M423.4 303.9L413.2 316.1M417.4 314.3L413.2 316.1L414.2 311.6M445.2 305.8L437.7 314.2M441.8 312.6L437.7 314.2L438.8 309.8M468.2 306.2L460.8 313.8M464.8 312.4L460.8 313.8L462.1 309.7M490.0 307.6L485.2 312.4M487.8 311.5L485.2 312.4L486.1 309.8M512.1 307.6L509.3 312.4M511.2 311.2L509.3 312.4L509.4 310.2M536.6 310.0L531.0 310.0M533.0 311.0L531.0 310.0L533.0 309.0M558.8 310.5L555.0 309.5M556.5 310.8L555.0 309.5L557.0 309.1M583.2 308.5L576.8 311.5M579.6 311.6L576.8 311.5L578.5 309.3M604.6 310.5L601.6 309.5M603.0 310.9L601.6 309.5L603.6 309.2M628.4 307.8L624.0 312.2M626.4 311.4L624.0 312.2L624.8 309.8M649.3 306.0L649.3 314.0M650.8 311.1L649.3 314.0L647.8 311.1M670.9 309.5L673.9 310.5M672.5 309.1L673.9 310.5L671.9 310.8M180.8 327.6L172.4 331.4M176.1 331.6L172.4 331.4L174.7 328.5M203.4 327.6L195.9 331.4M199.3 331.4L195.9 331.4L197.9 328.7M223.8 328.5L221.8 330.5M223.7 329.9L221.8 330.5L222.4 328.6M249.2 324.8L242.7 334.2M246.7 332.0L242.7 334.2L243.3 329.7M273.2 322.5L264.8 336.5M268.7 334.1L264.8 336.5L265.1 331.9M295.4 323.0L288.9 336.0M292.6 333.3L288.9 336.0L288.8 331.4M317.6 323.4L312.9 335.6M316.3 332.5L312.9 335.6L312.4 331.0M341.1 323.4L335.5 335.6M339.1 332.7L335.5 335.6L335.3 331.0M365.6 320.1L357.2 338.9M360.8 336.0L357.2 338.9L357.0 334.3M388.7 322.5L380.3 336.5M384.2 334.1L380.3 336.5L380.6 331.9M410.0 324.4L405.2 334.6M408.8 331.8L405.2 334.6L405.1 330.1M433.5 325.3L427.9 333.7M431.4 331.7L427.9 333.7L428.4 329.7M457.1 325.8L450.6 333.2M454.2 331.8L450.6 333.2L451.5 329.4M477.8 326.2L475.9 332.8M477.8 330.8L475.9 332.8L475.4 330.1M502.8 327.1L497.2 331.9M500.0 331.2L497.2 331.9L498.3 329.2M526.4 328.1L519.9 330.9M522.7 331.1L519.9 330.9L521.7 328.7M548.1 330.0L544.3 329.0M545.8 330.3L544.3 329.0L546.3 328.6M570.8 331.5L567.8 327.5M568.1 329.5L567.8 327.5L569.6 328.4M595.9 327.0L588.9 332.0M592.3 331.5L588.9 332.0L590.5 328.9M618.0 327.3L613.0 331.7M615.6 331.0L613.0 331.7L614.0 329.2M642.1 327.0L635.1 332.0M638.5 331.5L635.1 332.0L636.7 328.9M663.5 326.5L660.0 332.5M662.3 331.0L660.0 332.5L660.1 329.7M169.8 347.1L158.6 350.9M163.1 351.6L158.6 350.9L161.8 347.6M192.0 346.6L182.6 351.4M186.8 351.4L182.6 351.4L185.1 348.0M217.4 345.2L203.4 352.8M208.0 352.7L203.4 352.8L206.0 349.0M235.4 345.2L231.6 352.8M234.3 350.8L231.6 352.8L231.6 349.4M258.0 344.3L255.2 353.7M257.9 350.9L255.2 353.7L254.5 349.8M281.6 343.5L277.8 354.5M281.1 351.3L277.8 354.5L277.2 349.9M304.2 344.8L301.4 353.2M303.9 350.7L301.4 353.2L300.9 349.7M327.3 343.4L324.5 354.6M327.5 351.2L324.5 354.6L323.5 350.1M351.4 344.8L346.6 353.2M349.9 351.1L346.6 353.2L346.8 349.4M374.5 343.4L369.8 354.6M373.3 351.6L369.8 354.6L369.4 350.0M399.9 342.9L390.5 355.1M394.7 353.1L390.5 355.1L391.3 350.6M419.7 343.4L416.9 354.6M419.9 351.2L416.9 354.6L415.9 350.1M442.4 345.0L440.4 353.0M442.6 350.5L440.4 353.0L439.7 349.8M468.2 344.3L460.8 353.7M464.9 351.8L460.8 353.7L461.7 349.2M489.0 345.2L486.2 352.8M488.6 350.6L486.2 352.8L485.8 349.6M512.6 346.2L508.8 351.8M511.2 350.5L508.8 351.8L509.1 349.1M537.5 348.5L530.0 349.5M532.9 350.5L530.0 349.5L532.5 347.8M557.9 345.8L556.0 352.2M557.8 350.3L556.0 352.2L555.4 349.6M583.2 350.0L576.8 348.0M578.7 349.9L576.8 348.0L579.4 347.5M606.6 347.2L599.6 350.8M602.7 350.8L599.6 350.8L601.5 348.2M628.4 346.8L624.0 351.2M626.4 350.4L624.0 351.2L624.8 348.8M651.8 350.5L646.8 347.5M648.0 349.5L646.8 347.5L649.1 347.7M675.9 347.2L668.9 350.8M672.0 350.8L668.9 350.8L670.8 348.2M183.1 365.2L170.1 371.8M174.7 371.8L170.1 371.8L172.8 368.0M205.3 365.2L194.1 371.8M198.7 371.5L194.1 371.8L196.6 367.9M228.8 362.0L216.8 375.0M221.1 373.4L216.8 375.0L218.0 370.6M246.8 364.8L245.0 372.2M247.0 369.9L245.0 372.2L244.3 369.2M270.4 363.4L267.6 373.6M270.5 370.5L267.6 373.6L266.7 369.5M293.5 363.4L290.7 373.6M293.6 370.5L290.7 373.6L289.8 369.5M317.1 362.0L313.3 375.0M316.5 371.6L313.3 375.0L312.5 370.5M341.1 362.0L335.5 375.0M339.0 372.1L335.5 375.0L335.2 370.4M363.8 363.4L359.0 373.6M362.6 370.8L359.0 373.6L358.9 369.1M386.9 363.8L382.1 373.2M385.5 370.7L382.1 373.2L382.1 369.0M409.5 364.3L405.7 372.7M408.6 370.4L405.7 372.7L405.5 369.0M433.5 365.7L427.9 371.3M430.9 370.3L427.9 371.3L428.9 368.3M458.0 365.7L449.6 371.3M453.6 370.8L449.6 371.3L451.6 367.8M478.8 366.1L475.0 370.9M477.2 369.9L475.0 370.9L475.5 368.5M502.8 366.1L497.2 370.9M500.0 370.2L497.2 370.9L498.3 368.2M525.5 368.5L520.8 368.5M522.5 369.4L520.8 368.5L522.5 367.6M549.0 365.7L543.4 371.3M546.4 370.3L543.4 371.3L544.4 368.3M573.1 367.0L565.6 370.0M568.8 370.3L565.6 370.0L567.7 367.6M595.4 366.3L589.4 370.7M592.3 370.2L589.4 370.7L590.7 368.0M619.5 366.3L611.5 370.7M615.2 370.6L611.5 370.7L613.6 367.7M641.6 366.3L635.6 370.7M638.5 370.2L635.6 370.7L636.9 368.0M663.9 366.3L659.5 370.7M661.9 369.9L659.5 370.7L660.3 368.3M166.1 386.1L162.3 389.9M164.3 389.2L162.3 389.9L163.0 387.9M193.4 384.2L181.2 391.8M185.8 391.4L181.2 391.8L183.6 387.8M216.9 383.3L203.9 392.7M208.4 392.0L203.9 392.7L206.0 388.6M237.2 381.0L229.8 395.0M233.5 392.4L229.8 395.0L229.8 390.4M259.0 381.5L254.3 394.5M257.6 391.4L254.3 394.5L253.7 389.9M281.6 381.9L277.8 394.1M281.0 390.8L277.8 394.1L277.0 389.6M304.2 381.5L301.4 394.5M304.3 390.9L301.4 394.5L300.2 390.1M328.7 381.9L323.1 394.1M326.7 391.2L323.1 394.1L322.9 389.5M351.8 381.9L346.2 394.1M349.8 391.2L346.2 394.1L346.0 389.5M374.0 383.3L370.2 392.7M373.3 390.0L370.2 392.7L369.9 388.7M398.0 384.8L392.4 391.2M395.6 390.0L392.4 391.2L393.2 387.9M419.3 387.0L417.3 389.0M419.2 388.4L417.3 389.0L417.9 387.1M444.3 386.5L438.5 389.5M441.1 389.5L438.5 389.5L440.0 387.4M468.2 389.9L460.8 386.1M462.7 388.8L460.8 386.1L464.1 386.1M490.0 388.5L485.2 387.5M486.8 388.8L485.2 387.5L487.2 387.0M513.0 389.0L508.3 387.0M509.7 388.6L508.3 387.0L510.4 386.9M536.6 389.9L531.0 386.1M532.3 388.5L531.0 386.1L533.7 386.4M559.7 388.5L554.1 387.5M555.9 388.9L554.1 387.5L556.3 386.8M582.4 388.0L577.6 388.0M579.4 388.9L577.6 388.0L579.4 387.1M606.6 389.8L599.6 386.2M601.5 388.8L599.6 386.2L602.7 386.2M629.2 388.5L623.2 387.5M625.2 388.9L623.2 387.5L625.5 386.8M652.8 391.5L645.8 384.5M647.0 388.3L645.8 384.5L649.6 385.7M674.9 389.8L669.9 386.2M671.0 388.4L669.9 386.2L672.3 386.6M181.3 405.6L171.9 409.4M175.9 409.7L171.9 409.4L174.6 406.3M202.9 409.4L196.4 405.6M198.1 408.1L196.4 405.6L199.4 405.8M227.5 403.8L218.1 411.2M222.6 410.3L218.1 411.2L220.0 407.1M249.7 402.0L242.2 413.0M246.2 410.8L242.2 413.0L242.7 408.4M271.4 401.4L266.6 413.6M270.1 410.5L266.6 413.6L266.2 409.0M293.5 402.8L290.7 412.2M293.4 409.4L290.7 412.2L290.0 408.3M317.1 402.8L313.3 412.2M316.4 409.5L313.3 412.2L313.0 408.2M340.7 401.0L335.9 414.0M339.3 410.9L335.9 414.0L335.4 409.4M362.3 402.8L360.4 412.2M362.8 409.2L360.4 412.2L359.4 408.5M387.8 403.3L381.2 411.7M385.1 409.9L381.2 411.7L382.0 407.5M411.8 407.0L403.4 408.0M406.6 409.2L403.4 408.0L406.2 406.1M434.0 404.2L427.5 410.8M430.9 409.6L427.5 410.8L428.6 407.3M457.6 408.9L450.1 406.1M452.2 408.5L450.1 406.1L453.2 405.7M480.1 408.4L473.6 406.6M475.6 408.4L473.6 406.6L476.3 406.0M502.8 408.0L497.2 407.0M499.0 408.4L497.2 407.0L499.4 406.3M525.5 407.5L520.8 407.5M522.5 408.4L520.8 407.5L522.5 406.6M549.0 408.0L543.4 407.0M545.2 408.4L543.4 407.0L545.6 406.3M573.1 407.5L565.6 407.5M568.2 408.9L565.6 407.5L568.2 406.1M595.9 408.0L588.9 407.0M591.2 408.6L588.9 407.0L591.6 406.1M619.0 410.0L612.0 405.0M613.6 408.1L612.0 405.0L615.4 405.5M642.1 410.0L635.1 405.0M636.7 408.1L635.1 405.0L638.5 405.5M659.2 406.5L664.2 408.5M662.8 406.9L664.2 408.5L662.1 408.7M168.9 425.5L159.5 428.5M163.4 429.1L159.5 428.5L162.3 425.7M192.4 425.0L182.1 429.0M186.5 429.4L182.1 429.0L185.1 425.7M211.8 424.6L209.0 429.4M210.9 428.2L209.0 429.4L209.1 427.2M237.7 423.8L229.3 430.2M233.5 429.5L229.3 430.2L231.1 426.4M259.9 422.8L253.4 431.2M257.2 429.4L253.4 431.2L254.1 427.0M281.1 422.8L278.3 431.2M280.8 428.7L278.3 431.2L277.8 427.7M304.7 420.9L300.9 433.1M304.1 429.8L300.9 433.1L300.1 428.6M326.8 420.9L324.9 433.1M327.6 429.4L324.9 433.1L323.5 428.7M350.9 422.3L347.1 431.7M350.2 429.0L347.1 431.7L346.8 427.7M374.0 422.3L370.2 431.7M373.3 429.0L370.2 431.7L369.9 427.7M396.7 425.5L393.7 428.5M395.6 427.9L393.7 428.5L394.3 426.6M420.7 424.6L415.9 429.4M418.5 428.5L415.9 429.4L416.8 426.8M444.0 427.1L438.8 426.9M440.6 427.9L438.8 426.9L440.7 426.0M467.3 428.0L461.7 426.0M463.3 427.7L461.7 426.0L464.1 425.7M491.4 427.5L483.9 426.5M486.3 428.2L483.9 426.5L486.7 425.5M514.0 428.9L507.4 425.1M509.1 427.6L507.4 425.1L510.4 425.3M536.6 430.2L531.0 423.8M531.8 427.1L531.0 423.8L534.2 425.0M559.7 428.5L554.1 425.5M555.6 427.6L554.1 425.5L556.6 425.6M581.3 427.5L578.7 426.5M580.0 428.0L578.7 426.5L580.7 426.3M605.7 430.5L600.5 423.5M601.1 426.9L600.5 423.5L603.6 425.0M629.7 427.5L622.7 426.5M625.0 428.1L622.7 426.5L625.4 425.6M652.8 428.8L645.8 425.2M647.7 427.8L645.8 425.2L648.9 425.2M675.0 428.3L669.8 425.7M671.2 427.6L669.8 425.7L672.1 425.7M183.6 445.5L169.6 447.5M174.0 449.0L169.6 447.5L173.4 444.9M202.5 442.8L196.9 450.2M200.3 448.6L196.9 450.2L197.5 446.6M228.4 441.8L217.2 451.2M221.7 450.2L217.2 451.2L219.0 447.0M248.2 442.8L243.6 450.2M246.6 448.4L243.6 450.2L243.9 446.7M270.4 441.8L267.6 451.2M270.3 448.4L267.6 451.2L266.9 447.3M293.1 442.8L291.2 450.2M293.2 447.9L291.2 450.2L290.5 447.2M315.7 440.9L314.7 452.1M317.1 448.3L314.7 452.1L313.0 447.9M339.2 441.4L337.4 451.6M339.9 448.3L337.4 451.6L336.2 447.6M362.8 443.7L360.0 449.3M362.0 447.8L360.0 449.3L360.0 446.8M387.8 444.6L381.2 448.4M384.2 448.2L381.2 448.4L382.9 445.9M410.0 444.6L405.2 448.4M407.6 447.9L405.2 448.4L406.2 446.2M432.6 448.4L428.8 444.6M429.5 446.6L428.8 444.6L430.8 445.3M456.6 448.9L451.0 444.1M452.1 446.8L451.0 444.1L453.8 444.8M480.1 450.2L473.6 442.8M474.6 446.6L473.6 442.8L477.3 444.2M503.8 449.8L496.2 443.2M497.7 446.9L496.2 443.2L500.1 444.2M526.9 449.8L519.4 443.2M520.8 446.9L519.4 443.2L523.2 444.2M547.6 448.4L544.8 444.6M545.1 446.6L544.8 444.6L546.6 445.5M571.2 448.9L567.4 444.1M567.9 446.5L567.4 444.1L569.6 445.1M595.0 447.8L589.8 445.2M591.2 447.1L589.8 445.2L592.1 445.2M617.7 448.2L613.3 444.8M614.2 446.8L613.3 444.8L615.5 445.2M640.4 447.0L636.9 446.0M638.3 447.4L636.9 446.0L638.8 445.6M664.3 447.0L659.1 446.0M660.8 447.3L659.1 446.0L661.1 445.4M171.7 464.1L156.7 467.9M161.2 468.9L156.7 467.9L160.2 464.9M194.8 462.2L179.8 469.8M184.4 469.8L179.8 469.8L182.5 466.0M213.2 462.2L207.6 469.8M211.0 468.1L207.6 469.8L208.2 466.1M240.5 460.4L226.5 471.6M231.0 470.7L226.5 471.6L228.4 467.4M258.0 462.2L255.2 469.8M257.6 467.6L255.2 469.8L254.8 466.6M277.8 463.2L281.6 468.8M281.3 466.1L281.6 468.8L279.2 467.5M299.6 465.1L306.1 466.9M304.1 465.1L306.1 466.9L303.4 467.5M324.4 463.0L327.4 469.0M327.4 466.3L327.4 469.0L325.2 467.4M345.2 465.5L352.8 466.5M350.3 464.8L352.8 466.5L349.9 467.5M375.9 465.5L368.4 466.5M371.2 467.5L368.4 466.5L370.8 464.8M398.0 470.7L392.4 461.3M392.7 465.7L392.4 461.3L396.1 463.6M418.8 473.0L417.8 459.0M416.0 463.2L417.8 459.0L420.2 462.9M441.9 470.0L440.9 462.0M439.8 465.0L440.9 462.0L442.7 464.7M466.4 467.0L462.6 465.0M463.8 466.6L462.6 465.0L464.6 465.0M490.9 468.8L484.4 463.2M485.6 466.4L484.4 463.2L487.7 464.0M513.0 470.2L508.3 461.8M508.5 465.6L508.3 461.8L511.6 463.9M535.2 470.2L532.4 461.8M531.9 465.3L532.4 461.8L534.9 464.3M559.3 468.4L554.6 463.6M555.4 466.2L554.6 463.6L557.1 464.5M580.5 469.2L579.5 462.8M578.7 465.2L579.5 462.8L581.0 464.9M605.7 467.8L600.5 464.2M601.7 466.5L600.5 464.2L603.0 464.5M628.4 468.2L624.0 463.8M624.8 466.2L624.0 463.8L626.4 464.6M651.9 464.7L646.7 467.3M649.0 467.3L646.7 467.3L648.1 465.4M675.4 463.4L669.4 468.6M672.5 467.8L669.4 468.6L670.6 465.7M181.8 481.8L171.4 489.2M176.0 488.5L171.4 489.2L173.5 485.1M204.4 483.1L195.0 487.9M199.2 487.9L195.0 487.9L197.5 484.5M225.2 481.8L220.5 489.2M223.5 487.4L220.5 489.2L220.8 485.7M252.4 480.4L239.4 490.6M243.9 489.7L239.4 490.6L241.3 486.5M271.4 478.5L266.6 492.5M269.9 489.3L266.6 492.5L266.0 487.9M293.1 481.8L291.2 489.2M293.2 486.9L291.2 489.2L290.5 486.2M315.7 480.4L314.7 490.6M316.9 487.2L314.7 490.6L313.2 486.8M335.1 482.7L341.6 488.3M340.3 485.1L341.6 488.3L338.2 487.5M361.4 487.0L361.4 484.0M360.5 485.8L361.4 484.0L362.3 485.8M384.0 492.0L385.0 479.0M382.6 482.9L385.0 479.0L386.8 483.2M410.9 488.8L404.4 482.2M405.5 485.7L404.4 482.2L407.8 483.4M432.2 490.6L429.2 480.4M428.4 484.6L429.2 480.4L432.1 483.5M455.2 488.3L452.4 482.7M452.4 485.2L452.4 482.7L454.4 484.2M479.7 491.1L474.1 479.9M474.1 484.5L474.1 479.9L477.8 482.6M502.4 489.7L497.6 481.3M497.8 485.1L497.6 481.3L500.9 483.4M525.9 489.2L520.3 481.8M520.9 485.4L520.3 481.8L523.7 483.4M549.0 488.3L543.4 482.7M544.4 485.7L543.4 482.7L546.4 483.7M571.2 488.8L567.4 482.2M567.6 485.2L567.4 482.2L569.9 483.9M594.1 487.2L590.6 483.8M591.3 485.7L590.6 483.8L592.6 484.4M617.7 487.2L613.3 483.8M614.2 485.8L613.3 483.8L615.5 484.2M641.2 487.2L636.0 483.8M637.2 486.0L636.0 483.8L638.5 484.0M664.3 487.2L659.1 483.8M660.3 486.0L659.1 483.8L661.6 484.0M169.3 501.8L159.0 508.2M163.6 507.8L159.0 508.2L161.4 504.3M192.9 502.2L181.7 507.8M186.3 507.8L181.7 507.8L184.4 504.1M213.2 499.9L207.6 510.1M211.4 507.5L207.6 510.1L207.7 505.6M234.4 502.6L232.6 507.4M234.1 506.0L232.6 507.4L232.4 505.3M257.6 499.0L255.6 511.0M258.3 507.3L255.6 511.0L254.2 506.6M282.1 499.9L277.3 510.1M280.9 507.3L277.3 510.1L277.2 505.6M300.0 501.2L305.6 508.8M305.0 505.1L305.6 508.8L302.2 507.1M327.8 501.2L324.0 508.8M326.7 506.8L324.0 508.8L324.0 505.4M347.0 507.5L351.0 502.5M348.7 503.6L351.0 502.5L350.5 505.0M373.6 508.5L370.6 501.5M370.4 504.5L370.6 501.5L372.9 503.5M396.6 505.0L393.8 505.0M395.6 505.9L393.8 505.0L395.6 504.1M419.7 509.7L416.9 500.3M416.2 504.2L416.9 500.3L419.6 503.1M444.7 509.2L438.2 500.8M438.9 505.0L438.2 500.8L442.0 502.6M466.9 507.4L462.1 502.6M463.0 505.2L462.1 502.6L464.7 503.5M490.9 508.8L484.4 501.2M485.3 505.1L484.4 501.2L488.0 502.7M513.5 509.2L507.9 500.8M508.4 504.8L507.9 500.8L511.4 502.8M535.7 508.2L531.9 501.8M532.1 504.7L531.9 501.8L534.4 503.4M558.8 507.4L555.0 502.6M555.5 505.0L555.0 502.6L557.2 503.6M581.0 508.2L579.0 501.8M578.5 504.4L579.0 501.8L580.9 503.7M606.1 506.3L600.1 503.7M601.8 505.7L600.1 503.7L602.7 503.5M628.8 506.8L623.6 503.2M624.8 505.5L623.6 503.2L626.1 503.5M651.9 506.3L646.7 503.7M648.1 505.6L646.7 503.7L649.0 503.7M675.4 506.8L669.4 503.2M670.9 505.6L669.4 503.2L672.2 503.4M178.5 520.3L174.7 528.7M177.6 526.4L174.7 528.7L174.5 525.0M202.5 521.2L196.9 527.8M200.1 526.5L196.9 527.8L197.7 524.4M223.3 519.8L222.3 529.2M224.4 526.0L222.3 529.2L220.9 525.7M248.2 519.8L243.6 529.2M246.9 526.7L243.6 529.2L243.5 525.0M268.5 519.8L269.5 529.2M270.9 525.7L269.5 529.2L267.4 526.0M293.1 523.5L291.1 525.5M293.0 524.9L291.1 525.5L291.7 523.6M315.7 519.8L314.7 529.2M316.8 526.0L314.7 529.2L313.3 525.7M340.7 527.8L335.9 521.2M336.4 524.4L335.9 521.2L338.8 522.7M361.4 530.1L361.4 518.9M359.4 522.9L361.4 518.9L363.4 522.9M385.0 529.2L384.0 519.8M382.6 523.3L384.0 519.8L386.1 523.0M408.6 530.6L406.6 518.4M405.2 522.8L406.6 518.4L409.3 522.1M433.1 528.2L428.4 520.8M428.7 524.3L428.4 520.8L431.4 522.6M457.6 529.2L450.1 519.8M451.0 524.3L450.1 519.8L454.2 521.7M479.7 528.2L474.1 520.8M474.7 524.4L474.1 520.8L477.5 522.4M502.8 527.8L497.2 521.2M498.0 524.6L497.2 521.2L500.4 522.5M526.4 527.8L519.9 521.2M521.0 524.7L519.9 521.2L523.3 522.4M548.6 526.4L543.9 522.6M544.8 524.8L543.9 522.6L546.2 523.1M571.2 527.8L567.4 521.2M567.6 524.2L567.4 521.2L569.9 522.9M594.1 526.7L590.6 522.3M591.1 524.5L590.6 522.3L592.7 523.2M617.7 525.8L613.3 523.2M614.4 524.9L613.3 523.2L615.3 523.3M640.8 526.7L636.4 522.3M637.2 524.7L636.4 522.3L638.8 523.1M663.9 525.8L659.5 523.2M660.6 524.9L659.5 523.2L661.5 523.3M167.0 545.9L161.4 542.1M162.7 544.5L161.4 542.1L164.1 542.4M190.1 547.8L184.5 540.2M185.1 543.9L184.5 540.2L187.9 541.9M208.5 543.5L212.3 544.5M210.8 543.2L212.3 544.5L210.3 544.9M231.2 545.4L235.8 542.6M233.7 542.7L235.8 542.6L234.7 544.5M254.7 544.0L258.5 544.0M256.7 543.1L258.5 544.0L256.7 544.9M278.7 541.0L280.7 547.0M281.1 544.5L280.7 547.0L278.9 545.2M300.9 543.5L304.7 544.5M303.2 543.2L304.7 544.5L302.7 544.9M327.3 545.0L324.5 543.0M325.4 544.8L324.5 543.0L326.5 543.3M347.6 543.5L350.4 544.5M349.0 543.0L350.4 544.5L348.4 544.8M371.1 542.0L373.1 546.0M373.1 544.0L373.1 546.0L371.5 544.8M395.7 547.2L394.7 540.8M393.9 543.2L394.7 540.8L396.2 542.9M420.7 547.2L415.9 540.8M416.4 543.9L415.9 540.8L418.8 542.2M444.2 546.8L438.6 541.2M439.6 544.2L438.6 541.2L441.6 542.2M468.2 548.2L460.8 539.8M461.9 544.2L460.8 539.8L464.9 541.4M491.4 548.2L483.9 539.8M485.0 544.2L483.9 539.8L488.0 541.4M513.0 548.2L508.3 539.8M508.5 543.6L508.3 539.8L511.6 541.9M536.6 547.2L531.0 540.8M531.8 544.1L531.0 540.8L534.2 542.0M558.8 546.4L555.0 541.6M555.5 544.0L555.0 541.6L557.2 542.6M581.0 545.9L579.0 542.1M579.0 544.1L579.0 542.1L580.6 543.3M604.7 546.0L601.5 542.0M601.9 544.0L601.5 542.0L603.4 542.8M627.8 545.6L624.6 542.4M625.2 544.3L624.6 542.4L626.5 543.0M651.3 545.6L647.2 542.4M648.1 544.3L647.2 542.4L649.3 542.8M674.0 545.6L670.8 542.4M671.4 544.3L670.8 542.4L672.7 543.0M178.9 563.5L174.2 563.5M176.0 564.4L174.2 563.5L176.0 562.6M203.4 566.3L195.9 560.7M197.6 564.1L195.9 560.7L199.6 561.3M223.3 567.0L222.3 560.0M221.4 562.7L222.3 560.0L223.9 562.3M245.9 565.9L245.9 561.1M245.0 562.9L245.9 561.1L246.8 562.9M270.9 567.7L267.1 559.3M266.9 563.0L267.1 559.3L270.0 561.6M289.8 566.8L294.5 560.2M291.6 561.7L294.5 560.2L294.0 563.4M312.4 565.4L318.0 561.6M315.3 561.9L318.0 561.6L316.7 564.0M338.8 560.0L337.8 567.0M339.4 564.7L337.8 567.0L336.9 564.3M362.4 564.5L360.4 562.5M361.0 564.4L360.4 562.5L362.3 563.1M386.9 563.5L382.1 563.5M383.9 564.4L382.1 563.5L383.9 562.6M410.0 566.3L405.2 560.7M405.9 563.5L405.2 560.7L407.9 561.8M433.5 565.9L427.9 561.1M429.0 563.8L427.9 561.1L430.7 561.8M456.6 566.3L451.0 560.7M452.0 563.7L451.0 560.7L454.0 561.7M479.7 566.3L474.1 560.7M475.1 563.7L474.1 560.7L477.1 561.7M502.4 565.4L497.6 561.6M498.6 563.8L497.6 561.6L500.0 562.1M525.9 566.8L520.3 560.2M521.1 563.6L520.3 560.2L523.5 561.5M547.6 564.9L544.8 562.1M545.4 564.0L544.8 562.1L546.7 562.7M571.2 565.9L567.4 561.1M567.9 563.5L567.4 561.1L569.6 562.1M594.9 564.7L589.9 562.3M591.3 564.0L589.9 562.3L592.1 562.3M617.1 566.0L613.9 561.0M614.1 563.4L613.9 561.0L615.9 562.2M640.1 564.5L637.1 562.5M638.1 564.2L637.1 562.5L639.1 562.7M664.2 564.7L659.2 562.3M660.6 564.0L659.2 562.3L661.4 562.3M167.0 585.8L161.4 580.2M162.4 583.2L161.4 580.2L164.4 581.2M191.3 584.5L183.3 581.5M185.6 584.0L183.3 581.5L186.7 581.1M213.6 584.4L207.1 581.6M209.0 583.8L207.1 581.6L210.0 581.4M236.3 585.4L230.7 580.6M231.8 583.3L230.7 580.6L233.5 581.3M258.0 584.9L255.2 581.1M255.5 583.1L255.2 581.1L257.0 582.0M281.1 587.2L278.3 578.8M277.8 582.3L278.3 578.8L280.8 581.3M303.3 584.9L302.3 581.1M301.9 583.1L302.3 581.1L303.6 582.6M325.9 580.6L325.9 585.4M326.8 583.6L325.9 585.4L325.0 583.6M352.2 581.1L345.8 584.9M348.7 584.7L345.8 584.9L347.4 582.4M376.3 586.2L367.9 579.8M369.7 583.6L367.9 579.8L372.1 580.5M398.0 585.4L392.4 580.6M393.5 583.3L392.4 580.6L395.2 581.3M420.2 585.8L416.4 580.2M416.7 582.9L416.4 580.2L418.8 581.5M444.2 585.8L438.6 580.2M439.6 583.2L438.6 580.2L441.6 581.2M466.4 585.4L462.6 580.6M463.1 583.0L462.6 580.6L464.8 581.6M490.4 585.4L484.8 580.6M485.9 583.3L484.8 580.6L487.6 581.3M513.0 586.8L508.3 579.2M508.7 582.8L508.3 579.2L511.4 581.1M535.7 586.8L531.9 579.2M531.9 582.6L531.9 579.2L534.6 581.2M559.3 586.2L554.6 579.8M555.0 582.9L554.6 579.8L557.4 581.2M581.4 584.9L578.6 581.1M578.9 583.1L578.6 581.1L580.4 582.0M604.7 585.0L601.5 581.0M601.9 583.0L601.5 581.0L603.4 581.8M627.8 584.2L624.6 581.8M625.5 583.6L624.6 581.8L626.5 582.1M651.8 583.8L646.8 582.2M648.3 583.7L646.8 582.2L648.9 581.9M674.9 583.8L670.0 582.2M671.4 583.7L670.0 582.2L672.0 581.9M178.1 603.5L175.1 601.5M176.1 603.2L175.1 601.5L177.1 601.7M201.2 603.5L198.2 601.5M199.2 603.2L198.2 601.5L200.2 601.7M224.3 603.5L221.3 601.5M222.3 603.2L221.3 601.5L223.3 601.7M247.4 603.5L244.4 601.5M245.4 603.2L244.4 601.5L246.4 601.7M270.5 603.5L267.5 601.5M268.5 603.2L267.5 601.5L269.5 601.7M293.6 603.5L290.6 601.5M291.6 603.2L290.6 601.5L292.6 601.7M315.7 605.0L314.7 600.0M314.1 602.0L314.7 600.0L316.0 601.6M338.8 605.0L337.8 600.0M337.2 602.0L337.8 600.0L339.1 601.6M362.9 603.5L359.9 601.5M360.9 603.2L359.9 601.5L361.9 601.7M386.0 603.5L383.0 601.5M384.0 603.2L383.0 601.5L385.0 601.7M409.1 603.5L406.1 601.5M407.1 603.2L406.1 601.5L408.1 601.7M432.2 603.5L429.2 601.5M430.2 603.2L429.2 601.5L431.2 601.7M455.3 604.0L452.3 601.0M452.9 602.9L452.3 601.0L454.2 601.6M478.4 604.0L475.4 601.0M476.0 602.9L475.4 601.0L477.3 601.6M501.5 604.0L498.5 601.0M499.1 602.9L498.5 601.0L500.4 601.6M524.6 604.0L521.6 601.0M522.2 602.9L521.6 601.0L523.5 601.6M547.7 604.0L544.7 601.0M545.3 602.9L544.7 601.0L546.6 601.6M570.8 604.0L567.8 601.0M568.4 602.9L567.8 601.0L569.7 601.6M593.9 604.0L590.9 601.0M591.5 602.9L590.9 601.0L592.8 601.6M617.0 604.0L614.0 601.0M614.6 602.9L614.0 601.0L615.9 601.6M640.1 604.0L637.1 601.0M637.7 602.9L637.1 601.0L639.0 601.6M663.2 604.0L660.2 601.0M660.8 602.9L660.2 601.0L662.1 601.6" fill="none" stroke="#000" stroke-width="0.75" stroke-linecap="butt"/>
<path d="M184.0 72.5 L180.3 167.0M153.5 166.3 L230.0 169.5 L304.0 171.3 L370.0 172.6 L445.0 173.2 L510.0 172.8 L571.2 171.3M569.6 72.5 L571.1 150.0 L572.1 202.0 L577.6 244.0 L584.1 273.5 L583.6 392.0M572.1 202.0 L630.0 201.0 L684.5 199.5M153.5 199.3 L220.0 202.0 L287.2 204.6M287.2 204.6 L284.3 331.2M284.3 331.2 L288.8 331.0 L291.9 333.8 L295.6 340.0 L300.0 343.1 L304.4 345.0 L308.1 342.5 L311.9 343.1 L315.0 345.0 L317.5 340.6 L320.0 340.6 L323.8 343.1 L326.9 346.9 L327.5 353.8 L331.2 356.2 L337.5 356.2 L341.2 357.5 L346.2 360.6 L355.0 361.2 L358.8 359.8 L362.5 362.5 L366.2 365.6 L370.0 363.8 L373.1 360.6 L377.5 361.2 L380.0 361.9 L383.8 362.5 L386.9 361.2 L387.5 366.2 L388.8 370.0 L392.5 371.2 L394.4 375.0 L395.6 378.1 L399.4 380.0 L403.1 377.5 L406.9 373.8 L410.0 372.5 L413.8 373.1 L415.0 376.2 L418.8 376.2 L421.9 377.5 L423.1 381.9 L425.6 382.5 L428.1 380.0 L430.6 378.8 L433.8 376.9 L436.2 377.5 L437.5 381.2 L436.9 386.2 L439.4 388.8 L441.2 388.1 L442.5 382.5 L443.8 380.6 L446.2 376.9 L448.1 373.8M478.0 385.5 L478.8 384.4 L483.1 390.0 L485.0 386.2 L490.0 385.6 L493.1 381.2 L497.5 380.0 L502.5 380.0 L505.0 378.1 L510.0 380.0 L513.8 378.8 L515.0 376.2 L519.4 375.6 L523.1 374.4 L526.2 375.0 L530.0 377.5 L535.0 378.1 L540.0 376.9 L542.5 373.8 L543.1 371.2 L547.5 372.5 L551.2 374.4 L555.0 377.5 L558.8 378.8 L560.0 380.6 L568.8 385.0 L577.5 389.4 L583.6 392.0 L588.0 395.5 L592.0 394.5 L596.0 396.0 L600.0 394.8 L604.0 396.2 L608.3 396.4 L609.0 400.0 L609.9 432.4M609.9 432.4 L684.5 429.4M609.9 432.4 L612.0 498.9 L617.8 505.0 L622.1 509.4 L625.0 513.5 L625.0 524.8 L629.9 529.6 L634.8 537.8 L639.6 547.5 L642.9 553.2 L644.5 562.1 L641.2 563.8 L643.7 568.6 L642.9 576.8 L639.6 583.2 L635.6 589.8 L634.0 594.6 L635.6 603.0" fill="none" stroke="#000" stroke-width="1.2" stroke-linejoin="round"/>
<g fill="none" stroke="#550082" stroke-linecap="square"><path d="M587.3 540.8 L592.0 545.5 L597.0 549.5 L602.8 555.0 L607.6 558.5 L612.0 561.5" stroke-width="4.00"/><path d="M615.5 505.0 L619.0 510.0 L623.0 515.0 L625.5 521.0 L627.0 527.0 L630.0 532.0 L632.5 537.0 L635.0 543.0 L637.0 549.0 L638.5 554.0" stroke-width="4.20"/><path d="M555.0 582.0 L556.5 591.0" stroke-width="5.00"/><path d="M603.0 574.0 L607.0 578.0" stroke-width="2.12"/><path d="M578.5 538.8 L583.0 538.8" stroke-width="1.70"/><path d="M610.5 383.0 L611.5 388.0" stroke-width="2.12"/><path d="M590.0 414.5 L595.0 417.0 L601.0 420.0" stroke-width="2.12"/><path d="M572.0 444.5 L578.0 448.5 L585.0 452.5" stroke-width="2.12"/><path d="M602.0 451.5 L608.0 454.0 L614.0 456.5" stroke-width="2.12"/><path d="M617.0 465.5 L622.0 467.0" stroke-width="1.70"/><path d="M634.5 439.0 L634.5 444.5" stroke-width="1.70"/><path d="M517.0 279.5 L521.0 284.0 L524.0 289.0 L522.0 292.0 L516.0 292.0 L520.0 297.0 L516.0 303.0" stroke-width="2.12"/><path d="M548.0 275.5 L554.0 275.5" stroke-width="1.70"/><path d="M530.5 283.0 L532.5 285.5" stroke-width="1.70"/><path d="M532.0 327.0 L537.0 323.5" stroke-width="2.12"/><path d="M494.5 339.5 L495.5 342.0" stroke-width="1.70"/><path d="M520.0 197.5 L518.0 204.0 L516.0 211.0" stroke-width="3.80"/><path d="M477.0 220.0 L481.0 224.0 L485.0 227.0 L484.0 230.5" stroke-width="2.12"/><path d="M537.5 238.0 L537.5 248.0" stroke-width="1.70"/><path d="M550.0 262.0 L554.0 262.0" stroke-width="1.70"/><path d="M550.0 207.0 L554.0 207.0" stroke-width="1.70"/><path d="M554.0 195.0 L563.0 195.0" stroke-width="1.70"/><path d="M621.0 194.0 L626.0 193.0 L630.0 196.0 L636.0 197.0 L640.0 198.0" stroke-width="2.12"/><path d="M654.8 216.0 L668.0 216.5 L668.0 221.0" stroke-width="2.12"/><path d="M673.0 216.0 L673.0 221.0 L679.0 221.0" stroke-width="2.12"/><path d="M681.0 222.0 L684.0 222.0" stroke-width="1.70"/><path d="M601.0 213.0 L605.0 216.0 L611.0 213.0" stroke-width="2.12"/><path d="M602.0 217.0 L602.0 225.0" stroke-width="1.70"/><path d="M620.0 81.0 L624.0 80.5 L628.0 83.0 L630.0 88.0" stroke-width="2.12"/><path d="M618.5 99.5 L621.0 99.0" stroke-width="1.70"/><path d="M612.0 130.0 L613.0 137.0 L616.0 134.0" stroke-width="2.12"/><path d="M651.0 90.5 L658.0 90.5" stroke-width="1.70"/><path d="M434.5 81.5 L439.0 81.5" stroke-width="1.70"/><path d="M399.0 124.0 L404.0 127.0" stroke-width="2.12"/><path d="M380.0 191.0 L384.0 193.0" stroke-width="1.70"/><path d="M448.0 187.0 L452.0 189.0 L454.0 191.0" stroke-width="2.12"/><path d="M441.5 214.0 L444.0 214.0" stroke-width="1.70"/><path d="M436.0 320.0 L440.0 322.0" stroke-width="1.70"/><path d="M384.5 352.0 L388.0 356.0" stroke-width="2.12"/><path d="M372.0 316.0 L372.0 320.0" stroke-width="1.70"/><path d="M474.0 426.0 L474.5 440.0 L473.5 452.0" stroke-width="2.12"/><path d="M494.0 440.0 L498.0 444.0 L502.0 442.0 L506.0 447.0" stroke-width="2.12"/><path d="M522.0 443.0 L525.0 446.0 L527.5 449.0" stroke-width="2.12"/><path d="M515.0 428.0 L515.5 438.0" stroke-width="1.70"/><path d="M549.0 434.0 L554.0 434.0" stroke-width="1.70"/><path d="M490.0 477.0 L493.0 483.0 L497.0 488.0 L498.5 491.0" stroke-width="2.12"/><path d="M531.0 483.0 L532.0 490.0 L534.0 498.0" stroke-width="2.12"/><path d="M539.5 573.0 L544.0 575.0 L548.0 580.0" stroke-width="2.12"/><path d="M551.0 581.0 L553.0 590.0" stroke-width="2.12"/><path d="M418.0 500.0 L421.0 504.0 L424.0 508.0 L426.0 512.0" stroke-width="2.12"/><path d="M411.0 569.0 L416.5 569.0" stroke-width="1.70"/><path d="M426.0 589.0 L427.5 591.0" stroke-width="1.70"/><path d="M365.0 584.0 L368.0 580.0" stroke-width="2.12"/><path d="M476.5 427.0 L478.0 434.0" stroke-width="1.70"/><path d="M555.0 278.0 L561.0 282.0" stroke-width="2.98"/><path d="M629.0 275.5 L634.0 275.0 L637.0 278.0 L638.0 281.0" stroke-width="2.12"/><path d="M646.0 282.5 L650.0 283.0" stroke-width="1.70"/><path d="M622.5 296.0 L625.0 296.0" stroke-width="1.70"/><path d="M633.5 326.0 L640.0 325.0 L645.0 327.0 L651.0 326.0" stroke-width="2.55"/><path d="M634.0 331.0 L640.0 328.0" stroke-width="2.12"/><path d="M657.0 338.0 L661.0 338.0 L659.0 340.5" stroke-width="2.12"/><path d="M622.5 357.0 L625.0 358.0" stroke-width="1.70"/><path d="M571.0 353.0 L572.0 357.0 L570.0 360.0" stroke-width="2.12"/><path d="M447.0 376.0 L451.0 377.5" stroke-width="2.55"/><path d="M457.5 383.0 L460.0 383.5" stroke-width="2.55"/><path d="M464.5 381.5 L467.0 382.5" stroke-width="2.55"/><path d="M320.5 390.0 L323.0 388.0 L326.5 387.0" stroke-width="2.12"/><path d="M345.5 395.0 L348.0 394.5" stroke-width="1.70"/><path d="M369.5 393.0 L372.5 390.5" stroke-width="2.12"/><path d="M331.5 453.0 L334.0 450.5 L337.0 450.0" stroke-width="2.55"/><path d="M364.5 443.5 L367.0 441.5" stroke-width="1.70"/><path d="M396.0 425.5 L399.5 423.5" stroke-width="2.12"/><path d="M300.5 434.0 L302.5 432.5" stroke-width="1.70"/><path d="M479.0 538.5 L483.0 542.5 L487.0 548.0" stroke-width="2.12"/><path d="M432.0 531.0 L434.5 533.5" stroke-width="1.70"/><path d="M434.5 508.5 L435.5 511.5" stroke-width="1.70"/><path d="M359.5 503.5 L363.5 503.5" stroke-width="2.12"/><path d="M190.8 265.2L195 261L199.8 256.8" stroke="#8a0a5a" stroke-width="2"/></g>
<path d="M443.0 380.0 L446.0 377.5 L447.5 373.5 L450.0 372.8 L452.0 374.5 L453.0 378.0 L455.0 379.0 L457.5 380.0 L460.0 381.5 L462.5 381.0 L463.5 378.0 L465.0 375.5 L467.0 376.5 L468.0 373.5 L466.0 370.0 L465.0 367.0M467.0 367.5 L469.0 370.0 L470.0 367.5 L470.5 365.0 L472.5 365.5 L473.0 366.5 L471.0 369.0 L470.0 372.5 L471.0 375.0 L470.0 379.0 L471.0 381.0 L473.0 382.5 L475.0 384.5 L478.0 385.5M448.0 379.0 L451.5 381.0 L455.0 382.0 L458.0 383.5 L461.0 384.0 L464.0 383.0 L466.5 382.0 L468.5 381.5 L471.0 381.0" fill="none" stroke="#000" stroke-width="2.4" stroke-linejoin="round" stroke-linecap="round"/>
<path d="M153.5 100.5H168M670 100.5H684.5M153.5 232.5H168M670 232.5H684.5M153.5 364.5H168M670 364.5H684.5M153.5 496.5H168M670 496.5H684.5M163.5 603.5V589.5M277.5 603.5V589.5M390.5 603.5V589.5M504.5 603.5V589.5M618.5 603.5V589.5M186.5 72.5V86.5M290.5 72.5V86.5M393.5 72.5V86.5M496.5 72.5V86.5M600.5 72.5V86.5" fill="none" stroke="#000" stroke-width="1"/>
<path d="M422.5 286.2 L424.1 290.6 L428.8 290.8 L425.1 293.6 L426.4 298.1 L422.5 295.5 L418.6 298.1 L419.9 293.6 L416.2 290.8 L420.9 290.6ZM458.4 444.4 L460.0 448.8 L464.7 449.0 L461.0 451.8 L462.3 456.3 L458.4 453.7 L454.5 456.3 L455.8 451.8 L452.1 449.0 L456.8 448.8Z" fill="none" stroke="#000" stroke-width="1"/>
<rect x="153.5" y="72.5" width="531" height="531" fill="none" stroke="#000" stroke-width="1.1"/>
<rect x="658.5" y="72.5" width="29" height="38.7" fill="#fff" stroke="#333" stroke-width="0.9"/>
<text transform="translate(672.7 86.5) scale(1 1.04)" font-size="14.8" text-anchor="middle">8</text>
<path d="M661.3 97.4H683.7M679 95.1L683.7 97.4L679 99.7" fill="none" stroke="#000" stroke-width="0.8"/>
<rect x="162.00" y="628" width="32.19" height="14" fill="#0000fa" stroke="#222" stroke-width="0.7"/><rect x="194.19" y="628" width="32.19" height="14" fill="#0066ff" stroke="#222" stroke-width="0.7"/><rect x="226.38" y="628" width="32.19" height="14" fill="#00d2ff" stroke="#222" stroke-width="0.7"/><rect x="258.56" y="628" width="32.19" height="14" fill="#00f0d2" stroke="#222" stroke-width="0.7"/><rect x="290.75" y="628" width="32.19" height="14" fill="#05d26e" stroke="#222" stroke-width="0.7"/><rect x="322.94" y="628" width="32.19" height="14" fill="#00aa1e" stroke="#222" stroke-width="0.7"/><rect x="355.12" y="628" width="32.19" height="14" fill="#6ed20a" stroke="#222" stroke-width="0.7"/><rect x="387.31" y="628" width="32.19" height="14" fill="#d2f000" stroke="#222" stroke-width="0.7"/><rect x="419.50" y="628" width="32.19" height="14" fill="#ffe600" stroke="#222" stroke-width="0.7"/><rect x="451.69" y="628" width="32.19" height="14" fill="#ffc800" stroke="#222" stroke-width="0.7"/><rect x="483.88" y="628" width="32.19" height="14" fill="#ffa000" stroke="#222" stroke-width="0.7"/><rect x="516.06" y="628" width="32.19" height="14" fill="#ff6400" stroke="#222" stroke-width="0.7"/><rect x="548.25" y="628" width="32.19" height="14" fill="#ff2800" stroke="#222" stroke-width="0.7"/><rect x="580.44" y="628" width="32.19" height="14" fill="#dc0028" stroke="#222" stroke-width="0.7"/><rect x="612.62" y="628" width="32.19" height="14" fill="#9b0046" stroke="#222" stroke-width="0.7"/><rect x="644.81" y="628" width="32.19" height="14" fill="#550082" stroke="#222" stroke-width="0.7"/>
<text x="194.19" y="656.5" text-anchor="middle" font-size="14">0.1</text><text x="258.56" y="656.5" text-anchor="middle" font-size="14">0.2</text><text x="322.94" y="656.5" text-anchor="middle" font-size="14">0.3</text><text x="387.31" y="656.5" text-anchor="middle" font-size="14">0.4</text><text x="451.69" y="656.5" text-anchor="middle" font-size="14">0.5</text><text x="516.06" y="656.5" text-anchor="middle" font-size="14">0.6</text><text x="580.44" y="656.5" text-anchor="middle" font-size="14">0.7</text><text x="644.81" y="656.5" text-anchor="middle" font-size="14">0.8</text>
<text transform="translate(145 239) scale(1 1.07)" font-size="15" text-anchor="end">36°N</text>
<text transform="translate(145 503) scale(1 1.07)" font-size="15" text-anchor="end">32°N</text>
<text transform="translate(163 625.1) scale(1 1.07)" font-size="15" text-anchor="middle">102°W</text>
<text transform="translate(391 625.1) scale(1 1.07)" font-size="15" text-anchor="middle">98°W</text>
<text transform="translate(618.5 625.1) scale(1 1.07)" font-size="15" text-anchor="middle">94°W</text>
<text x="217.4" y="619.6" font-size="14.7">Min= .0402 Max= 1</text>
</svg>
</body></html>
